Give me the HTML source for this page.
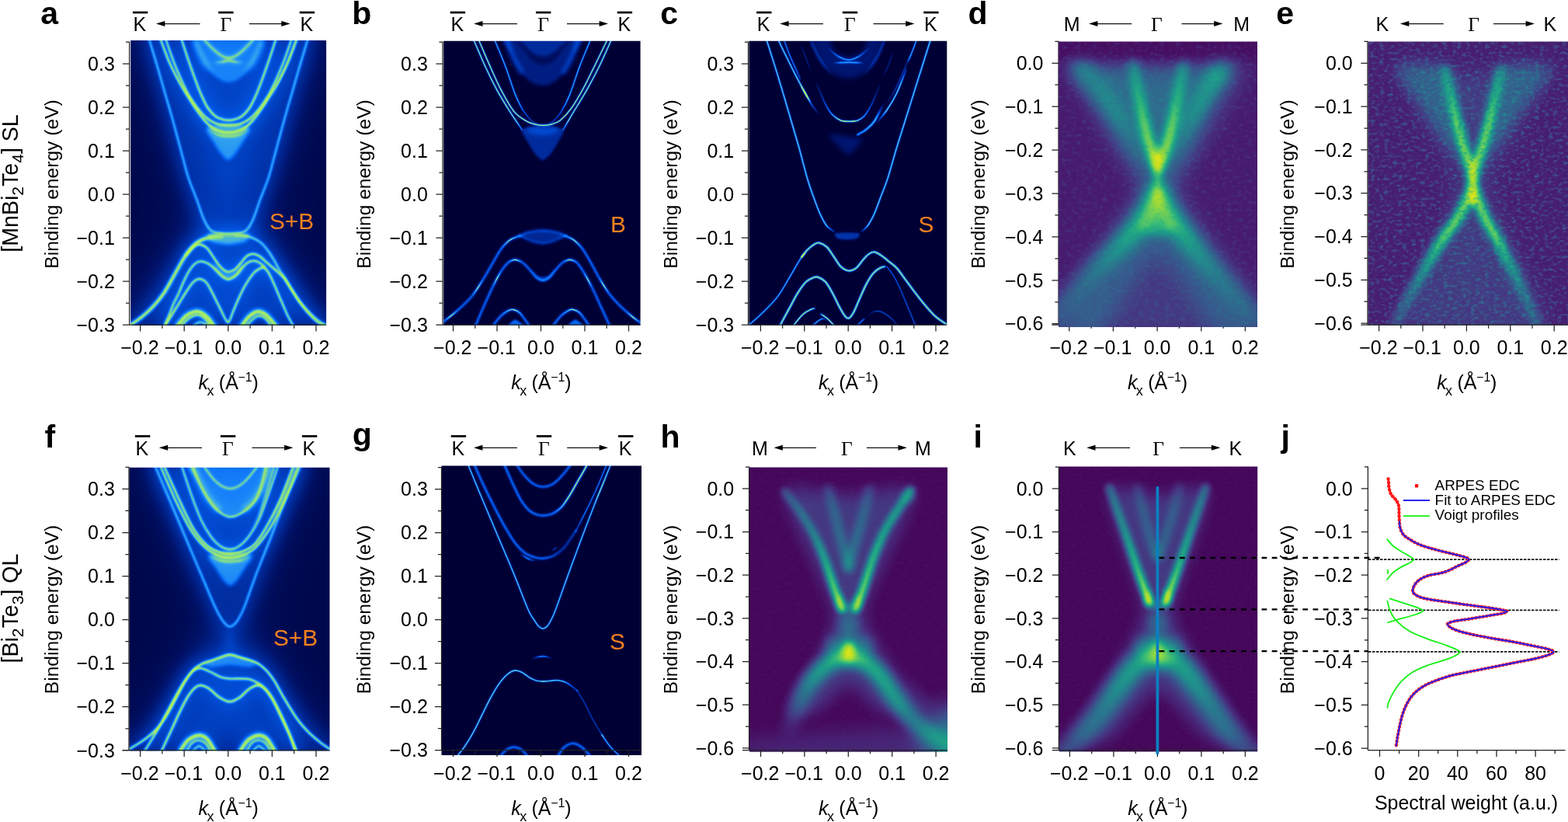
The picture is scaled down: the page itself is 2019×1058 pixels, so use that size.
<!DOCTYPE html>
<html lang="en"><head><meta charset="utf-8"><title>Band structure and ARPES figure</title><style>html,body{margin:0;padding:0;background:#fff}svg{display:block;position:absolute;left:0;top:0}svg{font-family:'Liberation Sans',sans-serif;font-size:25px}.se{font-family:'Liberation Serif',serif}.ax{fill:none;stroke:#222;stroke-width:1.25}.ar{fill:none;stroke:#111;stroke-width:1.2}</style></head>
<body>
<svg width="2019" height="1058" viewBox="0 0 2019 1058">
<defs>
<filter id="cmB" color-interpolation-filters="sRGB" x="0" y="0" width="1" height="1"><feComponentTransfer><feFuncR type="table" tableValues="0 0 0 0 0 0 0 0 0 0 0 0 0.001 0.003 0.004 0.006 0.008 0.026 0.045 0.063 0.085 0.124 0.163 0.202 0.282 0.362 0.443 0.509 0.571 0.632 0.674 0.702 0.729"/><feFuncG type="table" tableValues="0 0.012 0.025 0.037 0.049 0.061 0.076 0.098 0.119 0.141 0.163 0.185 0.211 0.241 0.272 0.303 0.333 0.374 0.415 0.456 0.498 0.547 0.596 0.645 0.702 0.76 0.818 0.854 0.883 0.913 0.931 0.942 0.953"/><feFuncB type="table" tableValues="0.204 0.24 0.276 0.312 0.348 0.384 0.422 0.467 0.511 0.555 0.599 0.644 0.69 0.738 0.786 0.834 0.882 0.908 0.933 0.959 0.978 0.966 0.954 0.942 0.842 0.739 0.636 0.56 0.491 0.422 0.378 0.354 0.329"/></feComponentTransfer></filter><filter id="cmV" color-interpolation-filters="sRGB" x="0" y="0" width="1" height="1"><feComponentTransfer><feFuncR type="table" tableValues="0.267 0.276 0.282 0.282 0.278 0.271 0.26 0.247 0.23 0.215 0.201 0.188 0.174 0.162 0.151 0.139 0.129 0.122 0.124 0.135 0.156 0.196 0.242 0.302 0.367 0.437 0.51 0.585 0.669 0.752 0.836 0.915 0.992"/><feFuncG type="table" tableValues="0.004 0.05 0.095 0.134 0.174 0.214 0.251 0.288 0.323 0.355 0.385 0.415 0.446 0.476 0.506 0.536 0.565 0.593 0.623 0.652 0.68 0.71 0.74 0.763 0.786 0.81 0.829 0.848 0.862 0.875 0.887 0.897 0.906"/><feFuncB type="table" tableValues="0.329 0.376 0.419 0.454 0.481 0.505 0.521 0.536 0.545 0.55 0.553 0.555 0.557 0.557 0.556 0.553 0.549 0.543 0.532 0.518 0.501 0.48 0.455 0.423 0.386 0.344 0.297 0.248 0.195 0.147 0.11 0.117 0.145"/></feComponentTransfer></filter>
</defs>
<rect width="2019" height="1058" fill="#fff"/>
<path class="ax" d="M1363 52.7V418.2M1358.4 53.3H1363M1354.4 81.3H1363M1358.4 109.2H1363M1354.4 137.2H1363M1358.4 165.2H1363M1354.4 193.1H1363M1358.4 221.1H1363M1354.4 249H1363M1358.4 276.9H1363M1354.4 304.9H1363M1358.4 332.9H1363M1354.4 360.8H1363M1358.4 388.8H1363M1354.4 416.7H1363M1354.4 418.2H1619M1376.8 418.2V426.6M1405.1 418.2V422.8M1433.4 418.2V426.6M1461.8 418.2V422.8M1490.1 418.2V426.6M1518.4 418.2V422.8M1546.8 418.2V426.6M1575.1 418.2V422.8M1603.4 418.2V426.6"/>
<clipPath id="cpa"><rect x="168.2" y="52" width="251.9" height="367"/></clipPath><g clip-path="url(#cpa)"><g filter="url(#cmB)"><rect x="128.2" y="12" width="331.9" height="447" fill="#000"/><filter id="ab36" color-interpolation-filters="sRGB" filterUnits="userSpaceOnUse" x="138.2" y="22" width="311.9" height="427"><feGaussianBlur stdDeviation="36"/></filter><g filter="url(#ab36)" fill="none" stroke="#fff" stroke-linecap="round" stroke-linejoin="round"><path d="M186.9 39.2C167.3 44.9 201.6 84.7 204.9 95.8C208.2 106.9 217.1 139.7 220.2 150.6C223.2 161.5 232.5 194.2 235.4 204.5C238.4 214.7 247.3 245.3 249.8 253C252.3 260.7 261 276.5 260.6 281.7C260.2 286.9 250.4 298.8 246.2 305.1C242.1 311.4 225 336 219.3 344.6C213.5 353.2 195.4 383.4 188.7 391.3C182.1 399.2 128.2 420.4 152.8 423.6C177.4 426.9 410.2 426.9 434.8 423.6C459.4 420.4 405.6 399.2 398.9 391.3C392.3 383.4 374.1 353.2 368.4 344.6C362.6 336 345.6 311.4 341.4 305.1C337.3 298.8 327.4 286.9 327.1 281.7C326.7 276.5 335.2 260.7 337.8 253C340.4 245.3 350 214.7 353.1 204.5C356.2 194.2 366.2 161.4 369.3 150.6C372.3 139.8 380.4 107.8 383.6 96.7C386.9 85.6 421.3 45 401.6 39.2C381.9 33.5 206.6 33.6 186.9 39.2Z" fill="#fff" fill-opacity="0.22" stroke="none"/></g><filter id="ab20" color-interpolation-filters="sRGB" filterUnits="userSpaceOnUse" x="138.2" y="22" width="311.9" height="427"><feGaussianBlur stdDeviation="20"/></filter><g filter="url(#ab20)" fill="none" stroke="#fff" stroke-linecap="round" stroke-linejoin="round"><path d="M186.9 39.2C167.3 44.9 201.6 84.7 204.9 95.8C208.2 106.9 217.1 139.7 220.2 150.6C223.2 161.5 232.5 194.2 235.4 204.5C238.4 214.7 247.3 245.3 249.8 253C252.3 260.7 261 276.5 260.6 281.7C260.2 286.9 250.4 298.8 246.2 305.1C242.1 311.4 225 336 219.3 344.6C213.5 353.2 195.4 383.4 188.7 391.3C182.1 399.2 128.2 420.4 152.8 423.6C177.4 426.9 410.2 426.9 434.8 423.6C459.4 420.4 405.6 399.2 398.9 391.3C392.3 383.4 374.1 353.2 368.4 344.6C362.6 336 345.6 311.4 341.4 305.1C337.3 298.8 327.4 286.9 327.1 281.7C326.7 276.5 335.2 260.7 337.8 253C340.4 245.3 350 214.7 353.1 204.5C356.2 194.2 366.2 161.4 369.3 150.6C372.3 139.8 380.4 107.8 383.6 96.7C386.9 85.6 421.3 45 401.6 39.2C381.9 33.5 206.6 33.6 186.9 39.2Z" fill="#fff" fill-opacity="0.22" stroke="none"/></g><filter id="ab8" color-interpolation-filters="sRGB" filterUnits="userSpaceOnUse" x="138.2" y="22" width="311.9" height="427"><feGaussianBlur stdDeviation="8"/></filter><g filter="url(#ab8)" fill="none" stroke="#fff" stroke-linecap="round" stroke-linejoin="round"><path d="M189.6 42.8C190.1 44.3 190.4 45.1 192.5 52C194.6 58.9 198.9 73.2 202.2 84.3C205.5 95.4 209 108.1 212.1 118.8C215.2 129.5 217.8 138 220.7 148.3C223.6 158.5 226.7 170.4 229.3 180.1C231.9 189.7 234.1 198 236.3 206.3C238.6 214.6 240.1 221.5 243 230C245.8 238.4 250.2 248.3 253.4 256.9C256.6 265.6 259.4 275.5 262.4 282.1C265.4 288.7 268.1 293.5 271.4 296.5C274.7 299.4 278.4 299.3 282.1 300C285.9 300.8 289.8 300.8 293.8 300.8C297.8 300.8 302.4 300.8 306.2 300C310.1 299.3 313.7 299.4 317 296.5C320.3 293.5 323 288.7 326 282.1C329 275.5 331.7 265.6 335 256.9C338.2 248.3 342.5 238.4 345.4 230C348.2 221.5 349.7 214.6 352 206.3C354.3 198 356.4 189.7 359 180.1C361.6 170.4 364.8 158.5 367.7 148.3C370.5 138 373.2 129.5 376.3 118.8C379.4 108.1 382.9 95.4 386.2 84.3C389.4 73.2 393.8 58.9 395.9 52C397.9 45.1 398.2 44.3 398.7 42.8" stroke-width="24" stroke-opacity="0.1"/><path d="M232.4 46.3C232.7 47.3 232.7 47.3 234.2 52C235.8 56.7 238.9 66.7 241.6 74.6C244.3 82.4 247.3 91.4 250.2 99.2C253.1 106.9 255.9 114.7 258.8 121.3C261.7 127.8 264.3 133.8 267.4 138.5C270.5 143.2 274 147 277.2 149.5C280.5 152.1 284.2 153 287.1 153.8C289.9 154.7 292 154.7 294.4 154.7C296.9 154.7 299 154.7 301.8 153.8C304.7 153 308.4 152.1 311.7 149.5C314.9 147 318.4 143.2 321.5 138.5C324.6 133.8 327.2 127.8 330.1 121.3C333 114.7 335.8 106.9 338.7 99.2C341.6 91.4 344.6 82.4 347.3 74.6C349.9 66.7 353.1 56.7 354.7 52C356.2 47.3 356.2 47.3 356.5 46.3" stroke-width="24" stroke-opacity="0.1"/><path d="M204.7 46.3C205.2 47.3 205 46.2 207.2 52C209.5 57.7 214.4 71.8 218.3 80.7C222.2 89.6 226.7 98.1 230.6 105.3C234.4 112.5 237.9 117.8 241.6 123.7C245.3 129.7 248.8 135.4 252.7 140.9C256.6 146.5 261.1 152.7 265 156.9C268.8 161.1 272.5 164 276 166.1C279.5 168.3 282.8 169.1 285.8 169.8C288.9 170.6 291.6 170.7 294.4 170.7C297.3 170.7 300 170.6 303 169.8C306.1 169.1 309.4 168.3 312.9 166.1C316.4 164 320 161.1 323.9 156.9C327.8 152.7 332.3 146.5 336.2 140.9C340.1 135.4 343.6 129.7 347.3 123.7C351 117.8 354.5 112.5 358.3 105.3C362.2 98.1 366.7 89.6 370.6 80.7C374.5 71.8 379.4 57.7 381.7 52C383.9 46.2 383.7 47.3 384.2 46.3" stroke-width="24" stroke-opacity="0.1"/><path d="M164.5 421.4C165.2 420.8 165.5 420.3 168.5 418C171.5 415.7 177.9 411.8 182.7 407.8C187.5 403.8 192.7 399.3 197.4 394.2C202.2 389.1 206.7 383.6 211.1 377.1C215.4 370.7 219.8 362.2 223.5 355.6C227.3 349 230.7 342.5 233.7 337.4C236.8 332.3 238.9 328.7 241.7 325C244.5 321.2 247.9 317.4 250.8 314.7C253.6 312.1 255.9 310.7 258.7 309.3C261.5 307.9 264.4 307 267.8 306.2C271.2 305.4 275.9 304.9 279.1 304.5C282.3 304.2 285.7 304.3 287.1 304.2" stroke-width="24" stroke-opacity="0.1"/><path d="M302 303.4C303.9 303.4 309.6 302.8 313.4 303.2C317.1 303.6 320.9 304.3 324.7 305.9C328.5 307.5 332.7 309.7 336.1 312.5C339.5 315.3 342.3 318.9 345.1 322.7C348 326.5 350.6 331 353.1 335.2C355.5 339.3 357.6 343.9 359.9 347.7C362.1 351.4 364 353.7 366.7 357.9C369.3 362 372.4 367.3 375.8 372.6C379.2 377.9 383.3 384.7 387.1 389.6C390.9 394.5 394.7 398.3 398.5 402.1C402.2 405.9 406.3 409.7 409.8 412.3C413.3 415 417 416.6 419.4 418C421.9 419.4 423.7 420.4 424.6 420.8" stroke-width="24" stroke-opacity="0.1"/><path d="M239.4 328.4C241.1 326.5 246.6 319.3 249.6 317C252.7 314.7 254.7 314.4 257.6 314.7C260.4 315.1 263.8 316.6 266.6 319.3C269.5 321.9 271.9 326.9 274.6 330.6C277.2 334.4 280.1 339 282.5 342C285 344.9 287.4 346.9 289.3 348.2C291.3 349.5 292.3 350.1 294.4 349.9C296.6 349.7 299.4 349 302 347.1C304.6 345.2 307.3 341.5 310 338.6C312.6 335.6 315.3 331.5 317.9 329.5C320.5 327.5 323.2 326.7 325.8 326.7C328.5 326.7 331.1 327.9 333.8 329.5C336.4 331.1 339.1 334 341.7 336.3C344.4 338.6 346.8 340.7 349.7 343.1C352.5 345.6 355.9 348.4 358.7 351.1C361.6 353.7 363.9 355.2 366.7 359C369.5 362.8 372.7 369 375.8 373.7C378.8 378.5 381.4 382.6 384.8 387.4C388.2 392.1 392.4 397.8 396.2 402.1C400 406.5 404.3 410.8 407.5 413.5C410.7 416.1 413.2 416.7 415.5 418C417.7 419.3 420.2 420.8 421.1 421.4" stroke-width="22" stroke-opacity="0.09"/><path d="M211.1 420.3C212 418.2 214.6 412.7 216.7 407.8C218.8 402.9 221.5 395.5 223.5 390.8C225.6 386 227.1 384 229.2 379.4C231.3 374.9 233.7 368.5 236 363.5C238.3 358.6 240.4 353.9 242.8 349.9C245.3 345.9 248.1 342 250.8 339.7C253.4 337.4 255.9 336.4 258.7 336.3C261.5 336.2 264.9 337.6 267.8 339.1C270.6 340.7 273.3 343.2 275.7 345.4C278.2 347.6 280.5 350.2 282.5 352.2C284.6 354.2 286.3 356.1 288.2 357.3C290.1 358.5 292.1 359.3 293.9 359.5C295.6 359.6 296.8 359.1 298.6 358.1C300.4 357.1 302.8 355.4 304.9 353.3C306.9 351.2 308.7 347.9 311.1 345.4C313.5 342.8 316.4 339.6 319 338C321.7 336.4 324.3 335.6 327 335.7C329.6 335.8 332.7 337.2 334.9 338.6C337.2 340 339.6 343.3 340.6 344.2" stroke-width="20" stroke-opacity="0.1"/><path d="M212.2 420.3C213.7 417.8 218.2 410.4 221.3 405.5C224.3 400.6 227.3 395.7 230.3 390.8C233.4 385.8 236.4 380.6 239.4 376C242.4 371.5 245.7 366.4 248.5 363.5C251.3 360.7 253.6 359 256.4 359C259.3 359 262.7 360.5 265.5 363.5C268.4 366.6 271 372.6 273.5 377.1C275.9 381.7 278.2 386.6 280.3 390.8C282.3 394.9 284.2 398.7 285.9 402.1C287.6 405.5 289.1 409.1 290.5 411.2C291.9 413.3 292.9 416.1 294.4 414.6C296 413.1 297.9 406.5 299.7 402.1C301.6 397.8 303.3 393.2 305.4 388.5C307.5 383.8 309.8 378.5 312.2 373.7C314.7 369 317.5 364.1 320.2 360.1C322.8 356.2 325.5 352.5 328.1 349.9C330.8 347.4 334.1 345.7 336.1 344.8C338 343.9 338.5 343.6 340 344.5C341.5 345.3 343.1 346.7 345.1 349.9C347.1 353.1 349.7 358.6 351.9 363.5C354.2 368.5 356.5 374.1 358.7 379.4C361 384.7 363.5 390.6 365.6 395.3C367.6 400 369.3 404 371.2 407.8C373.1 411.6 375.6 415.6 376.9 418C378.2 420.4 378.8 421.3 379.2 422" stroke-width="22" stroke-opacity="0.09"/><path d="M226.9 421.4C227.3 420.8 227.1 420.5 229.2 418C231.3 415.5 235.8 409.4 239.4 406.6C243 403.8 247.6 402 250.8 401.2C254 400.4 255.9 400.8 258.7 402.1C261.5 403.4 265.1 406.3 267.8 408.9C270.4 411.6 273.1 415.9 274.6 418C276.1 420.1 276.5 420.8 276.9 421.4" stroke-width="20" stroke-opacity="0.09"/><path d="M310 421.4C310.3 420.8 310.5 420.3 312.2 418C313.9 415.7 317.5 410.4 320.2 407.8C322.8 405.1 325.8 403.2 328.1 402.1C330.4 401 331.5 400.6 333.8 401C336.1 401.4 339.3 402.7 341.7 404.4C344.2 406.1 346.5 408.9 348.5 411.2C350.6 413.5 352.9 416.3 354.2 418C355.5 419.7 356.1 420.8 356.5 421.4" stroke-width="20" stroke-opacity="0.09"/></g><filter id="ab3" color-interpolation-filters="sRGB" filterUnits="userSpaceOnUse" x="138.2" y="22" width="311.9" height="427"><feGaussianBlur stdDeviation="3"/></filter><g filter="url(#ab3)" fill="none" stroke="#fff" stroke-linecap="round" stroke-linejoin="round"><linearGradient id="t1" gradientUnits="userSpaceOnUse" x1="249.6" y1="52" x2="274.8" y2="96.1"><stop offset="0" stop-color="#fff" stop-opacity="0.42"/><stop offset="0.35" stop-color="#fff" stop-opacity="0.42"/><stop offset="0.65" stop-color="#fff" stop-opacity="0.42"/><stop offset="1" stop-color="#fff" stop-opacity="0"/></linearGradient><path d="M249.6 52C250.7 54.7 253.8 63 256.4 68.4C258.9 73.8 261.9 79.8 265 84.4C268 89 273.1 94.1 274.8 96.1" stroke="url(#t1)" stroke-width="8" stroke-linecap="butt"/><linearGradient id="t2" gradientUnits="userSpaceOnUse" x1="338.9" y1="52" x2="314.1" y2="96.1"><stop offset="0" stop-color="#fff" stop-opacity="0.42"/><stop offset="0.35" stop-color="#fff" stop-opacity="0.42"/><stop offset="0.65" stop-color="#fff" stop-opacity="0.42"/><stop offset="1" stop-color="#fff" stop-opacity="0"/></linearGradient><path d="M338.9 52C337.9 54.7 335 63 332.5 68.4C330 73.8 327 79.8 323.9 84.4C320.9 89 315.7 94.1 314.1 96.1" stroke="url(#t2)" stroke-width="8" stroke-linecap="butt"/></g><filter id="ab2_2" color-interpolation-filters="sRGB" filterUnits="userSpaceOnUse" x="138.2" y="22" width="311.9" height="427"><feGaussianBlur stdDeviation="2.2"/></filter><g filter="url(#ab2_2)" fill="none" stroke="#fff" stroke-linecap="round" stroke-linejoin="round"><path d="M266 165C263.5 168.1 272.4 178.5 275 182.9C277.5 187.4 282.3 195.1 284.8 198.2C287.4 201.3 291.4 205.9 293.8 205.9C296.2 205.9 300.3 201.3 302.8 198.2C305.3 195.1 310.2 187.4 312.7 182.9C315.2 178.5 324.2 168.1 321.7 165C319.2 161.8 301.2 159.6 293.8 159.6C286.4 159.6 268.5 161.8 266 165Z" fill="#fff" fill-opacity="0.46" stroke="none"/></g><filter id="ab2" color-interpolation-filters="sRGB" filterUnits="userSpaceOnUse" x="138.2" y="22" width="311.9" height="427"><feGaussianBlur stdDeviation="2"/></filter><g filter="url(#ab2)" fill="none" stroke="#fff" stroke-linecap="round" stroke-linejoin="round"><path d="M245.9 45.1C230.3 46.2 247.2 48.1 249 52C250.7 55.9 253.7 63 256.4 68.4C259 73.8 261.9 79.7 265 84.4C268 89.1 271.3 93.4 274.8 96.7C278.3 100 282.6 102.5 285.8 104.1C289.1 105.6 291.6 106 294.4 106C297.3 106 299.8 105.6 303 104.1C306.3 102.5 310.6 100 314.1 96.7C317.6 93.4 320.9 89.1 323.9 84.4C327 79.7 330 73.8 332.5 68.4C335.1 63 337.7 55.9 339.3 52C340.9 48.1 357.9 46.2 342.4 45.1C326.8 43.9 261.5 43.9 245.9 45.1Z" fill="#fff" fill-opacity="0.36" stroke="none"/><path d="M261.9 48.8C262.2 49.3 261.4 49.3 263.7 52C266.1 54.6 272.3 61.4 276 64.7C279.7 68.1 282.8 70.5 285.8 72.1C288.9 73.8 291.6 74.6 294.4 74.6C297.3 74.6 300 73.8 303 72.1C306.1 70.5 309.2 68.1 312.9 64.7C316.6 61.4 322.8 54.6 325.2 52C327.5 49.3 326.7 49.3 327 48.8" stroke-width="5" stroke-opacity="0.42"/><linearGradient id="t7" gradientUnits="userSpaceOnUse" x1="274.8" y1="80.7" x2="314.1" y2="80.7"><stop offset="0" stop-color="#fff" stop-opacity="0"/><stop offset="0.3" stop-color="#fff" stop-opacity="0.4"/><stop offset="0.7" stop-color="#fff" stop-opacity="0.4"/><stop offset="1" stop-color="#fff" stop-opacity="0"/></linearGradient><path d="M274.8 80.7C276.8 80.5 283.8 79.9 287.1 79.5C290.4 79 292 78 294.4 78C296.9 78 298.5 79 301.8 79.5C305.1 79.9 312.1 80.5 314.1 80.7" stroke="url(#t7)" stroke-width="5" stroke-linecap="butt"/><path d="M266 301.8C267.2 300.6 278.9 300.5 282.1 300.4C285.4 300.3 291.1 300.8 293.8 300.8C296.5 300.8 302.3 300.3 305.5 300.4C308.7 300.5 320.4 300.6 321.7 301.8C322.9 303.1 319.5 309.3 316.3 310.8C313 312.3 299.1 314.8 293.8 314.8C288.6 314.8 274.6 312.3 271.4 310.8C268.1 309.3 264.7 303.1 266 301.8Z" fill="#fff" fill-opacity="0.5" stroke="none"/><path d="M273.5 337.4C274 337 280.7 343.9 282.5 345.4C284.4 346.9 287.9 349.8 289.3 350.5C290.7 351.2 293 351.7 294.4 351.6C295.9 351.6 300.2 351 302 349.9C303.8 348.8 308.6 342.5 310 342C311.3 341.4 313.9 343.8 313.4 345.4C312.8 347 307.7 353.9 305.4 355.6C303.1 357.3 296.1 360 293.8 360.1C291.6 360.3 287.8 358.1 285.9 356.7C284.1 355.4 279.5 351 278 348.8C276.5 346.5 272.9 337.8 273.5 337.4Z" fill="#fff" fill-opacity="0.4" stroke="none"/><path d="M226.9 421.4C227.3 420.8 227.1 420.5 229.2 418C231.3 415.5 235.8 409.4 239.4 406.6C243 403.8 247.6 402 250.8 401.2C254 400.4 255.9 400.8 258.7 402.1C261.5 403.4 265.1 406.3 267.8 408.9C270.4 411.6 273.1 415.9 274.6 418C276.1 420.1 276.5 420.8 276.9 421.4" stroke-width="8" stroke-opacity="0.6"/><path d="M310 421.4C310.3 420.8 310.5 420.3 312.2 418C313.9 415.7 317.5 410.4 320.2 407.8C322.8 405.1 325.8 403.2 328.1 402.1C330.4 401 331.5 400.6 333.8 401C336.1 401.4 339.3 402.7 341.7 404.4C344.2 406.1 346.5 408.9 348.5 411.2C350.6 413.5 352.9 416.3 354.2 418C355.5 419.7 356.1 420.8 356.5 421.4" stroke-width="8" stroke-opacity="0.6"/><path d="M232.6 421.4C233 420.8 233 420 234.9 418C236.8 416 240.9 411.6 244 409.5C247 407.4 250.2 405.8 253 405.5C255.9 405.2 258.5 406.3 261 407.8C263.4 409.3 266.1 412.5 267.8 414.6C269.5 416.7 270.6 419.3 271.2 420.3" stroke-width="5" stroke-opacity="0.4"/><path d="M316.8 421.4C317.1 420.8 317.1 420.1 319 418C320.9 415.9 325.7 410.8 328.1 408.9C330.6 407 331.7 406.6 333.8 406.6C335.9 406.6 338.5 407.4 340.6 408.9C342.7 410.4 344.9 413.8 346.3 415.7C347.6 417.6 348.2 419.5 348.5 420.3" stroke-width="5" stroke-opacity="0.4"/><path d="M248.5 420.3C248.9 419.9 249.3 418.9 250.8 418C252.3 417 255.1 414.6 257.6 414.6C260 414.6 263.8 417 265.5 418C267.2 418.9 267.4 419.9 267.8 420.3" stroke-width="5" stroke-opacity="0.4"/></g><filter id="ab1_6" color-interpolation-filters="sRGB" filterUnits="userSpaceOnUse" x="138.2" y="22" width="311.9" height="427"><feGaussianBlur stdDeviation="1.6"/></filter><g filter="url(#ab1_6)" fill="none" stroke="#fff" stroke-linecap="round" stroke-linejoin="round"><linearGradient id="t4" gradientUnits="userSpaceOnUse" x1="266.2" y1="164.3" x2="322.7" y2="164.3"><stop offset="0" stop-color="#fff" stop-opacity="0"/><stop offset="0.3" stop-color="#fff" stop-opacity="0.36"/><stop offset="0.7" stop-color="#fff" stop-opacity="0.36"/><stop offset="1" stop-color="#fff" stop-opacity="0"/></linearGradient><path d="M266.2 164.3C267 164.9 268.6 166.4 271.1 168C273.6 169.5 277 172.3 280.9 173.5C284.8 174.7 289.9 175.3 294.4 175.3C299 175.3 304.1 174.7 308 173.5C311.9 172.3 315.3 169.5 317.8 168C320.3 166.4 321.9 164.9 322.7 164.3" stroke="url(#t4)" stroke-width="4.4" stroke-linecap="butt"/><linearGradient id="t8" gradientUnits="userSpaceOnUse" x1="164.5" y1="421.4" x2="287.1" y2="304.2"><stop offset="0" stop-color="#fff" stop-opacity="0.5"/><stop offset="0.12" stop-color="#fff" stop-opacity="0.5"/><stop offset="0.88" stop-color="#fff" stop-opacity="0.5"/><stop offset="1" stop-color="#fff" stop-opacity="0.25"/></linearGradient><path d="M164.5 421.4C165.2 420.8 165.5 420.3 168.5 418C171.5 415.7 177.9 411.8 182.7 407.8C187.5 403.8 192.7 399.3 197.4 394.2C202.2 389.1 206.7 383.6 211.1 377.1C215.4 370.7 219.8 362.2 223.5 355.6C227.3 349 230.7 342.5 233.7 337.4C236.8 332.3 238.9 328.7 241.7 325C244.5 321.2 247.9 317.4 250.8 314.7C253.6 312.1 255.9 310.7 258.7 309.3C261.5 307.9 264.4 307 267.8 306.2C271.2 305.4 275.9 304.9 279.1 304.5C282.3 304.2 285.7 304.3 287.1 304.2" stroke="url(#t8)" stroke-width="7" stroke-linecap="butt"/><linearGradient id="t10" gradientUnits="userSpaceOnUse" x1="302" y1="303.4" x2="424.6" y2="420.8"><stop offset="0" stop-color="#fff" stop-opacity="0.25"/><stop offset="0.1" stop-color="#fff" stop-opacity="0.42"/><stop offset="0.9" stop-color="#fff" stop-opacity="0.42"/><stop offset="1" stop-color="#fff" stop-opacity="0.42"/></linearGradient><path d="M302 303.4C303.9 303.4 309.6 302.8 313.4 303.2C317.1 303.6 320.9 304.3 324.7 305.9C328.5 307.5 332.7 309.7 336.1 312.5C339.5 315.3 342.3 318.9 345.1 322.7C348 326.5 350.6 331 353.1 335.2C355.5 339.3 357.6 343.9 359.9 347.7C362.1 351.4 364 353.7 366.7 357.9C369.3 362 372.4 367.3 375.8 372.6C379.2 377.9 383.3 384.7 387.1 389.6C390.9 394.5 394.7 398.3 398.5 402.1C402.2 405.9 406.3 409.7 409.8 412.3C413.3 415 417 416.6 419.4 418C421.9 419.4 423.7 420.4 424.6 420.8" stroke="url(#t10)" stroke-width="4" stroke-linecap="butt"/><path d="M269.6 303.3C271.7 303.1 278.1 302.3 282.1 302.2C286.2 302.1 289.9 302.6 293.8 302.6C297.7 302.6 301.5 302.1 305.5 302.2C309.5 302.3 316 303.1 318.1 303.3" stroke-width="4" stroke-opacity="0.3"/></g><filter id="ab1_5" color-interpolation-filters="sRGB" filterUnits="userSpaceOnUse" x="138.2" y="22" width="311.9" height="427"><feGaussianBlur stdDeviation="1.5"/></filter><g filter="url(#ab1_5)" fill="none" stroke="#fff" stroke-linecap="round" stroke-linejoin="round"><path d="M189.6 42.8C190.1 44.3 190.4 45.1 192.5 52C194.6 58.9 198.9 73.2 202.2 84.3C205.5 95.4 209 108.1 212.1 118.8C215.2 129.5 217.8 138 220.7 148.3C223.6 158.5 226.7 170.4 229.3 180.1C231.9 189.7 234.1 198 236.3 206.3C238.6 214.6 240.1 221.5 243 230C245.8 238.4 250.2 248.3 253.4 256.9C256.6 265.6 259.4 275.5 262.4 282.1C265.4 288.7 268.1 293.5 271.4 296.5C274.7 299.4 278.4 299.3 282.1 300C285.9 300.8 289.8 300.8 293.8 300.8C297.8 300.8 302.4 300.8 306.2 300C310.1 299.3 313.7 299.4 317 296.5C320.3 293.5 323 288.7 326 282.1C329 275.5 331.7 265.6 335 256.9C338.2 248.3 342.5 238.4 345.4 230C348.2 221.5 349.7 214.6 352 206.3C354.3 198 356.4 189.7 359 180.1C361.6 170.4 364.8 158.5 367.7 148.3C370.5 138 373.2 129.5 376.3 118.8C379.4 108.1 382.9 95.4 386.2 84.3C389.4 73.2 393.8 58.9 395.9 52C397.9 45.1 398.2 44.3 398.7 42.8" stroke-width="4" stroke-opacity="0.3"/><path d="M232.4 46.3C232.7 47.3 232.7 47.3 234.2 52C235.8 56.7 238.9 66.7 241.6 74.6C244.3 82.4 247.3 91.4 250.2 99.2C253.1 106.9 255.9 114.7 258.8 121.3C261.7 127.8 264.3 133.8 267.4 138.5C270.5 143.2 274 147 277.2 149.5C280.5 152.1 284.2 153 287.1 153.8C289.9 154.7 292 154.7 294.4 154.7C296.9 154.7 299 154.7 301.8 153.8C304.7 153 308.4 152.1 311.7 149.5C314.9 147 318.4 143.2 321.5 138.5C324.6 133.8 327.2 127.8 330.1 121.3C333 114.7 335.8 106.9 338.7 99.2C341.6 91.4 344.6 82.4 347.3 74.6C349.9 66.7 353.1 56.7 354.7 52C356.2 47.3 356.2 47.3 356.5 46.3" stroke-width="4.4" stroke-opacity="0.3"/><path d="M204.7 46.3C205.2 47.3 205 46.2 207.2 52C209.5 57.7 214.4 71.8 218.3 80.7C222.2 89.6 226.7 98.1 230.6 105.3C234.4 112.5 237.9 117.8 241.6 123.7C245.3 129.7 248.8 135.4 252.7 140.9C256.6 146.5 261.1 152.7 265 156.9C268.8 161.1 272.5 164 276 166.1C279.5 168.3 282.8 169.1 285.8 169.8C288.9 170.6 291.6 170.7 294.4 170.7C297.3 170.7 300 170.6 303 169.8C306.1 169.1 309.4 168.3 312.9 166.1C316.4 164 320 161.1 323.9 156.9C327.8 152.7 332.3 146.5 336.2 140.9C340.1 135.4 343.6 129.7 347.3 123.7C351 117.8 354.5 112.5 358.3 105.3C362.2 98.1 366.7 89.6 370.6 80.7C374.5 71.8 379.4 57.7 381.7 52C383.9 46.2 383.7 47.3 384.2 46.3" stroke-width="4.4" stroke-opacity="0.3"/><path d="M212.1 46.3C212.4 47.3 212.1 46.6 214 52C215.8 57.3 220 70 223.2 78.3C226.4 86.5 229.7 94.3 233 101.6C236.3 108.9 239.4 115.7 242.8 121.9C246.3 128 250 133.5 253.9 138.5C257.8 143.5 262.1 148.6 266.2 152C270.3 155.4 273.8 157.6 278.5 159.1C283.2 160.7 289.1 161.2 294.4 161.2C299.8 161.2 305.7 160.7 310.4 159.1C315.1 157.6 318.6 155.4 322.7 152C326.8 148.6 331.1 143.5 335 138.5C338.9 133.5 342.6 128 346.1 121.9C349.5 115.7 352.6 108.9 355.9 101.6C359.2 94.3 362.5 86.5 365.7 78.3C368.9 70 373.1 57.3 374.9 52C376.8 46.6 376.5 47.3 376.8 46.3" stroke-width="4.4" stroke-opacity="0.3"/><path d="M239.4 328.4C241.1 326.5 246.6 319.3 249.6 317C252.7 314.7 254.7 314.4 257.6 314.7C260.4 315.1 263.8 316.6 266.6 319.3C269.5 321.9 271.9 326.9 274.6 330.6C277.2 334.4 280.1 339 282.5 342C285 344.9 287.4 346.9 289.3 348.2C291.3 349.5 292.3 350.1 294.4 349.9C296.6 349.7 299.4 349 302 347.1C304.6 345.2 307.3 341.5 310 338.6C312.6 335.6 315.3 331.5 317.9 329.5C320.5 327.5 323.2 326.7 325.8 326.7C328.5 326.7 331.1 327.9 333.8 329.5C336.4 331.1 339.1 334 341.7 336.3C344.4 338.6 346.8 340.7 349.7 343.1C352.5 345.6 355.9 348.4 358.7 351.1C361.6 353.7 363.9 355.2 366.7 359C369.5 362.8 372.7 369 375.8 373.7C378.8 378.5 381.4 382.6 384.8 387.4C388.2 392.1 392.4 397.8 396.2 402.1C400 406.5 404.3 410.8 407.5 413.5C410.7 416.1 413.2 416.7 415.5 418C417.7 419.3 420.2 420.8 421.1 421.4" stroke-width="4.4" stroke-opacity="0.3"/><path d="M211.1 420.3C212 418.2 214.6 412.7 216.7 407.8C218.8 402.9 221.5 395.5 223.5 390.8C225.6 386 227.1 384 229.2 379.4C231.3 374.9 233.7 368.5 236 363.5C238.3 358.6 240.4 353.9 242.8 349.9C245.3 345.9 248.1 342 250.8 339.7C253.4 337.4 255.9 336.4 258.7 336.3C261.5 336.2 264.9 337.6 267.8 339.1C270.6 340.7 273.3 343.2 275.7 345.4C278.2 347.6 280.5 350.2 282.5 352.2C284.6 354.2 286.3 356.1 288.2 357.3C290.1 358.5 292.1 359.3 293.9 359.5C295.6 359.6 296.8 359.1 298.6 358.1C300.4 357.1 302.8 355.4 304.9 353.3C306.9 351.2 308.7 347.9 311.1 345.4C313.5 342.8 316.4 339.6 319 338C321.7 336.4 324.3 335.6 327 335.7C329.6 335.8 332.7 337.2 334.9 338.6C337.2 340 339.6 343.3 340.6 344.2" stroke-width="4.4" stroke-opacity="0.3"/><path d="M212.2 420.3C213.7 417.8 218.2 410.4 221.3 405.5C224.3 400.6 227.3 395.7 230.3 390.8C233.4 385.8 236.4 380.6 239.4 376C242.4 371.5 245.7 366.4 248.5 363.5C251.3 360.7 253.6 359 256.4 359C259.3 359 262.7 360.5 265.5 363.5C268.4 366.6 271 372.6 273.5 377.1C275.9 381.7 278.2 386.6 280.3 390.8C282.3 394.9 284.2 398.7 285.9 402.1C287.6 405.5 289.1 409.1 290.5 411.2C291.9 413.3 292.9 416.1 294.4 414.6C296 413.1 297.9 406.5 299.7 402.1C301.6 397.8 303.3 393.2 305.4 388.5C307.5 383.8 309.8 378.5 312.2 373.7C314.7 369 317.5 364.1 320.2 360.1C322.8 356.2 325.5 352.5 328.1 349.9C330.8 347.4 334.1 345.7 336.1 344.8C338 343.9 338.5 343.6 340 344.5C341.5 345.3 343.1 346.7 345.1 349.9C347.1 353.1 349.7 358.6 351.9 363.5C354.2 368.5 356.5 374.1 358.7 379.4C361 384.7 363.5 390.6 365.6 395.3C367.6 400 369.3 404 371.2 407.8C373.1 411.6 375.6 415.6 376.9 418C378.2 420.4 378.8 421.3 379.2 422" stroke-width="4.4" stroke-opacity="0.3"/></g><filter id="ab1_0" color-interpolation-filters="sRGB" filterUnits="userSpaceOnUse" x="138.2" y="22" width="311.9" height="427"><feGaussianBlur stdDeviation="1.0"/></filter><g filter="url(#ab1_0)" fill="none" stroke="#fff" stroke-linecap="round" stroke-linejoin="round"><path d="M189.6 42.8C190.1 44.3 190.4 45.1 192.5 52C194.6 58.9 198.9 73.2 202.2 84.3C205.5 95.4 209 108.1 212.1 118.8C215.2 129.5 217.8 138 220.7 148.3C223.6 158.5 226.7 170.4 229.3 180.1C231.9 189.7 234.1 198 236.3 206.3C238.6 214.6 240.1 221.5 243 230C245.8 238.4 250.2 248.3 253.4 256.9C256.6 265.6 259.4 275.5 262.4 282.1C265.4 288.7 268.1 293.5 271.4 296.5C274.7 299.4 278.4 299.3 282.1 300C285.9 300.8 289.8 300.8 293.8 300.8C297.8 300.8 302.4 300.8 306.2 300C310.1 299.3 313.7 299.4 317 296.5C320.3 293.5 323 288.7 326 282.1C329 275.5 331.7 265.6 335 256.9C338.2 248.3 342.5 238.4 345.4 230C348.2 221.5 349.7 214.6 352 206.3C354.3 198 356.4 189.7 359 180.1C361.6 170.4 364.8 158.5 367.7 148.3C370.5 138 373.2 129.5 376.3 118.8C379.4 108.1 382.9 95.4 386.2 84.3C389.4 73.2 393.8 58.9 395.9 52C397.9 45.1 398.2 44.3 398.7 42.8" stroke-width="2" stroke-opacity="0.64"/><path d="M226.9 421.4C227.3 420.8 227.1 420.5 229.2 418C231.3 415.5 235.8 409.4 239.4 406.6C243 403.8 247.6 402 250.8 401.2C254 400.4 255.9 400.8 258.7 402.1C261.5 403.4 265.1 406.3 267.8 408.9C270.4 411.6 273.1 415.9 274.6 418C276.1 420.1 276.5 420.8 276.9 421.4" stroke-width="3.4" stroke-opacity="0.81"/><path d="M310 421.4C310.3 420.8 310.5 420.3 312.2 418C313.9 415.7 317.5 410.4 320.2 407.8C322.8 405.1 325.8 403.2 328.1 402.1C330.4 401 331.5 400.6 333.8 401C336.1 401.4 339.3 402.7 341.7 404.4C344.2 406.1 346.5 408.9 348.5 411.2C350.6 413.5 352.9 416.3 354.2 418C355.5 419.7 356.1 420.8 356.5 421.4" stroke-width="3.4" stroke-opacity="0.81"/><path d="M232.6 421.4C233 420.8 233 420 234.9 418C236.8 416 240.9 411.6 244 409.5C247 407.4 250.2 405.8 253 405.5C255.9 405.2 258.5 406.3 261 407.8C263.4 409.3 266.1 412.5 267.8 414.6C269.5 416.7 270.6 419.3 271.2 420.3" stroke-width="2.2" stroke-opacity="0.72"/><path d="M316.8 421.4C317.1 420.8 317.1 420.1 319 418C320.9 415.9 325.7 410.8 328.1 408.9C330.6 407 331.7 406.6 333.8 406.6C335.9 406.6 338.5 407.4 340.6 408.9C342.7 410.4 344.9 413.8 346.3 415.7C347.6 417.6 348.2 419.5 348.5 420.3" stroke-width="2.2" stroke-opacity="0.72"/><path d="M248.5 420.3C248.9 419.9 249.3 418.9 250.8 418C252.3 417 255.1 414.6 257.6 414.6C260 414.6 263.8 417 265.5 418C267.2 418.9 267.4 419.9 267.8 420.3" stroke-width="2.2" stroke-opacity="0.72"/></g><filter id="ab0_95" color-interpolation-filters="sRGB" filterUnits="userSpaceOnUse" x="138.2" y="22" width="311.9" height="427"><feGaussianBlur stdDeviation="0.95"/></filter><g filter="url(#ab0_95)" fill="none" stroke="#fff" stroke-linecap="round" stroke-linejoin="round"><path d="M232.4 46.3C232.7 47.3 232.7 47.3 234.2 52C235.8 56.7 238.9 66.7 241.6 74.6C244.3 82.4 247.3 91.4 250.2 99.2C253.1 106.9 255.9 114.7 258.8 121.3C261.7 127.8 264.3 133.8 267.4 138.5C270.5 143.2 274 147 277.2 149.5C280.5 152.1 284.2 153 287.1 153.8C289.9 154.7 292 154.7 294.4 154.7C296.9 154.7 299 154.7 301.8 153.8C304.7 153 308.4 152.1 311.7 149.5C314.9 147 318.4 143.2 321.5 138.5C324.6 133.8 327.2 127.8 330.1 121.3C333 114.7 335.8 106.9 338.7 99.2C341.6 91.4 344.6 82.4 347.3 74.6C349.9 66.7 353.1 56.7 354.7 52C356.2 47.3 356.2 47.3 356.5 46.3" stroke-width="2.4" stroke-opacity="0.82"/><path d="M204.7 46.3C205.2 47.3 205 46.2 207.2 52C209.5 57.7 214.4 71.8 218.3 80.7C222.2 89.6 226.7 98.1 230.6 105.3C234.4 112.5 237.9 117.8 241.6 123.7C245.3 129.7 248.8 135.4 252.7 140.9C256.6 146.5 261.1 152.7 265 156.9C268.8 161.1 272.5 164 276 166.1C279.5 168.3 282.8 169.1 285.8 169.8C288.9 170.6 291.6 170.7 294.4 170.7C297.3 170.7 300 170.6 303 169.8C306.1 169.1 309.4 168.3 312.9 166.1C316.4 164 320 161.1 323.9 156.9C327.8 152.7 332.3 146.5 336.2 140.9C340.1 135.4 343.6 129.7 347.3 123.7C351 117.8 354.5 112.5 358.3 105.3C362.2 98.1 366.7 89.6 370.6 80.7C374.5 71.8 379.4 57.7 381.7 52C383.9 46.2 383.7 47.3 384.2 46.3" stroke-width="2.5" stroke-opacity="0.84"/><path d="M212.1 46.3C212.4 47.3 212.1 46.6 214 52C215.8 57.3 220 70 223.2 78.3C226.4 86.5 229.7 94.3 233 101.6C236.3 108.9 239.4 115.7 242.8 121.9C246.3 128 250 133.5 253.9 138.5C257.8 143.5 262.1 148.6 266.2 152C270.3 155.4 273.8 157.6 278.5 159.1C283.2 160.7 289.1 161.2 294.4 161.2C299.8 161.2 305.7 160.7 310.4 159.1C315.1 157.6 318.6 155.4 322.7 152C326.8 148.6 331.1 143.5 335 138.5C338.9 133.5 342.6 128 346.1 121.9C349.5 115.7 352.6 108.9 355.9 101.6C359.2 94.3 362.5 86.5 365.7 78.3C368.9 70 373.1 57.3 374.9 52C376.8 46.6 376.5 47.3 376.8 46.3" stroke-width="2.3" stroke-opacity="0.82"/><path d="M239.4 328.4C241.1 326.5 246.6 319.3 249.6 317C252.7 314.7 254.7 314.4 257.6 314.7C260.4 315.1 263.8 316.6 266.6 319.3C269.5 321.9 271.9 326.9 274.6 330.6C277.2 334.4 280.1 339 282.5 342C285 344.9 287.4 346.9 289.3 348.2C291.3 349.5 292.3 350.1 294.4 349.9C296.6 349.7 299.4 349 302 347.1C304.6 345.2 307.3 341.5 310 338.6C312.6 335.6 315.3 331.5 317.9 329.5C320.5 327.5 323.2 326.7 325.8 326.7C328.5 326.7 331.1 327.9 333.8 329.5C336.4 331.1 339.1 334 341.7 336.3C344.4 338.6 346.8 340.7 349.7 343.1C352.5 345.6 355.9 348.4 358.7 351.1C361.6 353.7 363.9 355.2 366.7 359C369.5 362.8 372.7 369 375.8 373.7C378.8 378.5 381.4 382.6 384.8 387.4C388.2 392.1 392.4 397.8 396.2 402.1C400 406.5 404.3 410.8 407.5 413.5C410.7 416.1 413.2 416.7 415.5 418C417.7 419.3 420.2 420.8 421.1 421.4" stroke-width="2.4" stroke-opacity="0.82"/><path d="M211.1 420.3C212 418.2 214.6 412.7 216.7 407.8C218.8 402.9 221.5 395.5 223.5 390.8C225.6 386 227.1 384 229.2 379.4C231.3 374.9 233.7 368.5 236 363.5C238.3 358.6 240.4 353.9 242.8 349.9C245.3 345.9 248.1 342 250.8 339.7C253.4 337.4 255.9 336.4 258.7 336.3C261.5 336.2 264.9 337.6 267.8 339.1C270.6 340.7 273.3 343.2 275.7 345.4C278.2 347.6 280.5 350.2 282.5 352.2C284.6 354.2 286.3 356.1 288.2 357.3C290.1 358.5 292.1 359.3 293.9 359.5C295.6 359.6 296.8 359.1 298.6 358.1C300.4 357.1 302.8 355.4 304.9 353.3C306.9 351.2 308.7 347.9 311.1 345.4C313.5 342.8 316.4 339.6 319 338C321.7 336.4 324.3 335.6 327 335.7C329.6 335.8 332.7 337.2 334.9 338.6C337.2 340 339.6 343.3 340.6 344.2" stroke-width="2.3" stroke-opacity="0.8"/><path d="M212.2 420.3C213.7 417.8 218.2 410.4 221.3 405.5C224.3 400.6 227.3 395.7 230.3 390.8C233.4 385.8 236.4 380.6 239.4 376C242.4 371.5 245.7 366.4 248.5 363.5C251.3 360.7 253.6 359 256.4 359C259.3 359 262.7 360.5 265.5 363.5C268.4 366.6 271 372.6 273.5 377.1C275.9 381.7 278.2 386.6 280.3 390.8C282.3 394.9 284.2 398.7 285.9 402.1C287.6 405.5 289.1 409.1 290.5 411.2C291.9 413.3 292.9 416.1 294.4 414.6C296 413.1 297.9 406.5 299.7 402.1C301.6 397.8 303.3 393.2 305.4 388.5C307.5 383.8 309.8 378.5 312.2 373.7C314.7 369 317.5 364.1 320.2 360.1C322.8 356.2 325.5 352.5 328.1 349.9C330.8 347.4 334.1 345.7 336.1 344.8C338 343.9 338.5 343.6 340 344.5C341.5 345.3 343.1 346.7 345.1 349.9C347.1 353.1 349.7 358.6 351.9 363.5C354.2 368.5 356.5 374.1 358.7 379.4C361 384.7 363.5 390.6 365.6 395.3C367.6 400 369.3 404 371.2 407.8C373.1 411.6 375.6 415.6 376.9 418C378.2 420.4 378.8 421.3 379.2 422" stroke-width="2.4" stroke-opacity="0.82"/></g><filter id="ab0_9" color-interpolation-filters="sRGB" filterUnits="userSpaceOnUse" x="138.2" y="22" width="311.9" height="427"><feGaussianBlur stdDeviation="0.9"/></filter><g filter="url(#ab0_9)" fill="none" stroke="#fff" stroke-linecap="round" stroke-linejoin="round"><linearGradient id="t9" gradientUnits="userSpaceOnUse" x1="164.5" y1="421.4" x2="287.1" y2="304.2"><stop offset="0" stop-color="#fff" stop-opacity="0.85"/><stop offset="0.12" stop-color="#fff" stop-opacity="0.85"/><stop offset="0.88" stop-color="#fff" stop-opacity="0.85"/><stop offset="1" stop-color="#fff" stop-opacity="0.3"/></linearGradient><path d="M164.5 421.4C165.2 420.8 165.5 420.3 168.5 418C171.5 415.7 177.9 411.8 182.7 407.8C187.5 403.8 192.7 399.3 197.4 394.2C202.2 389.1 206.7 383.6 211.1 377.1C215.4 370.7 219.8 362.2 223.5 355.6C227.3 349 230.7 342.5 233.7 337.4C236.8 332.3 238.9 328.7 241.7 325C244.5 321.2 247.9 317.4 250.8 314.7C253.6 312.1 255.9 310.7 258.7 309.3C261.5 307.9 264.4 307 267.8 306.2C271.2 305.4 275.9 304.9 279.1 304.5C282.3 304.2 285.7 304.3 287.1 304.2" stroke="url(#t9)" stroke-width="2.8" stroke-linecap="butt"/></g><filter id="ab0_8" color-interpolation-filters="sRGB" filterUnits="userSpaceOnUse" x="138.2" y="22" width="311.9" height="427"><feGaussianBlur stdDeviation="0.8"/></filter><g filter="url(#ab0_8)" fill="none" stroke="#fff" stroke-linecap="round" stroke-linejoin="round"><linearGradient id="t3" gradientUnits="userSpaceOnUse" x1="266.2" y1="164.3" x2="322.7" y2="164.3"><stop offset="0" stop-color="#fff" stop-opacity="0"/><stop offset="0.3" stop-color="#fff" stop-opacity="0.5"/><stop offset="0.7" stop-color="#fff" stop-opacity="0.5"/><stop offset="1" stop-color="#fff" stop-opacity="0"/></linearGradient><path d="M266.2 164.3C267 164.9 268.6 166.4 271.1 168C273.6 169.5 277 172.3 280.9 173.5C284.8 174.7 289.9 175.3 294.4 175.3C299 175.3 304.1 174.7 308 173.5C311.9 172.3 315.3 169.5 317.8 168C320.3 166.4 321.9 164.9 322.7 164.3" stroke="url(#t3)" stroke-width="1.6" stroke-linecap="butt"/><linearGradient id="t5" gradientUnits="userSpaceOnUse" x1="381.7" y1="46.3" x2="348.5" y2="128.6"><stop offset="0" stop-color="#fff" stop-opacity="0.6"/><stop offset="0.4" stop-color="#fff" stop-opacity="0.6"/><stop offset="0.6" stop-color="#fff" stop-opacity="0.6"/><stop offset="1" stop-color="#fff" stop-opacity="0"/></linearGradient><path d="M381.7 46.3C381.4 47.3 381.7 46.6 379.9 52C378 57.3 374 69.4 370.6 78.3C367.3 87.2 363.3 96.9 359.6 105.3C355.9 113.7 350.4 124.8 348.5 128.6" stroke="url(#t5)" stroke-width="1.5" stroke-linecap="butt"/><path d="M261.9 48.8C262.2 49.3 261.4 49.3 263.7 52C266.1 54.6 272.3 61.4 276 64.7C279.7 68.1 282.8 70.5 285.8 72.1C288.9 73.8 291.6 74.6 294.4 74.6C297.3 74.6 300 73.8 303 72.1C306.1 70.5 309.2 68.1 312.9 64.7C316.6 61.4 322.8 54.6 325.2 52C327.5 49.3 326.7 49.3 327 48.8" stroke-width="1.7" stroke-opacity="0.62"/><linearGradient id="t6" gradientUnits="userSpaceOnUse" x1="274.8" y1="80.7" x2="314.1" y2="80.7"><stop offset="0" stop-color="#fff" stop-opacity="0"/><stop offset="0.3" stop-color="#fff" stop-opacity="0.6"/><stop offset="0.7" stop-color="#fff" stop-opacity="0.6"/><stop offset="1" stop-color="#fff" stop-opacity="0"/></linearGradient><path d="M274.8 80.7C276.8 80.5 283.8 79.9 287.1 79.5C290.4 79 292 78 294.4 78C296.9 78 298.5 79 301.8 79.5C305.1 79.9 312.1 80.5 314.1 80.7" stroke="url(#t6)" stroke-width="1.7" stroke-linecap="butt"/><linearGradient id="t11" gradientUnits="userSpaceOnUse" x1="302" y1="303.4" x2="424.6" y2="420.8"><stop offset="0" stop-color="#fff" stop-opacity="0.36"/><stop offset="0.1" stop-color="#fff" stop-opacity="0.72"/><stop offset="0.9" stop-color="#fff" stop-opacity="0.72"/><stop offset="1" stop-color="#fff" stop-opacity="0.72"/></linearGradient><path d="M302 303.4C303.9 303.4 309.6 302.8 313.4 303.2C317.1 303.6 320.9 304.3 324.7 305.9C328.5 307.5 332.7 309.7 336.1 312.5C339.5 315.3 342.3 318.9 345.1 322.7C348 326.5 350.6 331 353.1 335.2C355.5 339.3 357.6 343.9 359.9 347.7C362.1 351.4 364 353.7 366.7 357.9C369.3 362 372.4 367.3 375.8 372.6C379.2 377.9 383.3 384.7 387.1 389.6C390.9 394.5 394.7 398.3 398.5 402.1C402.2 405.9 406.3 409.7 409.8 412.3C413.3 415 417 416.6 419.4 418C421.9 419.4 423.7 420.4 424.6 420.8" stroke="url(#t11)" stroke-width="1.6" stroke-linecap="butt"/></g><g fill="none" stroke="#fff" stroke-linecap="round" stroke-linejoin="round"><path d="M0 0H2019V1058H0z" fill="#fff" fill-opacity="0.085" stroke="none"/></g></g></g>
<clipPath id="cpb"><rect x="571.2" y="52.7" width="253.4" height="365.7"/></clipPath><g clip-path="url(#cpb)"><g filter="url(#cmB)"><rect x="531.2" y="12.7" width="333.4" height="445.7" fill="#000"/><filter id="bb3" color-interpolation-filters="sRGB" filterUnits="userSpaceOnUse" x="541.2" y="22.7" width="313.4" height="425.7"><feGaussianBlur stdDeviation="3"/></filter><g filter="url(#bb3)" fill="none" stroke="#fff" stroke-linecap="round" stroke-linejoin="round"><path d="M678 163.2C679.7 162.5 694.8 165 699 165C703.1 165 717.6 162.5 719.3 163.2C720.9 163.8 717.7 170.2 715.7 171.3C713.7 172.3 702.4 173.9 699 173.9C695.6 173.9 683.7 172.3 681.6 171.3C679.5 170.2 676.2 163.8 678 163.2Z" fill="#fff" fill-opacity="0.24" stroke="none"/></g><filter id="bb2_5" color-interpolation-filters="sRGB" filterUnits="userSpaceOnUse" x="541.2" y="22.7" width="313.4" height="425.7"><feGaussianBlur stdDeviation="2.5"/></filter><g filter="url(#bb2_5)" fill="none" stroke="#fff" stroke-linecap="round" stroke-linejoin="round"><path d="M652.3 50C653.6 53.9 656.9 66.2 660 73.4C663.1 80.5 669 89.8 670.8 93.1" stroke-width="7" stroke-opacity="0.3"/><path d="M745 50C743.7 53.9 740.3 66.2 737.2 73.4C734.2 80.5 728.3 89.8 726.5 93.1" stroke-width="7" stroke-opacity="0.3"/></g><filter id="bb2" color-interpolation-filters="sRGB" filterUnits="userSpaceOnUse" x="541.2" y="22.7" width="313.4" height="425.7"><feGaussianBlur stdDeviation="2"/></filter><g filter="url(#bb2)" fill="none" stroke="#fff" stroke-linecap="round" stroke-linejoin="round"><path d="M651 42.8C636.6 47.9 656.7 65 660 73.4C663.3 81.7 666.9 87.7 670.8 93.1C674.7 98.5 678.7 102.8 683.4 105.7C688.1 108.6 693.9 110.5 699 110.5C704.1 110.5 709.3 108.6 713.9 105.7C718.5 102.8 722.6 98.5 726.5 93.1C730.4 87.7 733.9 81.7 737.2 73.4C740.5 65 760.6 47.9 746.2 42.8C731.9 37.7 665.4 37.7 651 42.8Z" fill="#fff" fill-opacity="0.25" stroke="none"/><path d="M663.6 42.8C653.7 46.4 670.5 58.4 674.4 64.4C678.3 70.4 682.8 75.6 686.9 78.7C691 81.9 694.8 83.2 699 83.2C703.2 83.2 708 81.9 712.1 78.7C716.2 75.6 720.2 70.4 723.8 64.4C727.4 58.4 743.7 46.4 733.6 42.8C723.6 39.2 673.5 39.2 663.6 42.8Z" fill="#000" fill-opacity="0.45" stroke="none"/><path d="M666.3 42.8C657.3 45.8 674.2 56.3 678 60.8C681.7 65.3 685.2 67.8 688.7 69.8C692.2 71.7 695.5 72.5 699 72.5C702.4 72.5 705.7 71.7 709.4 69.8C713.1 67.8 717.3 65.3 721.1 60.8C724.8 56.3 741 45.8 731.9 42.8C722.7 39.8 675.3 39.8 666.3 42.8Z" fill="#fff" fill-opacity="0.22" stroke="none"/></g><filter id="bb1_6" color-interpolation-filters="sRGB" filterUnits="userSpaceOnUse" x="541.2" y="22.7" width="313.4" height="425.7"><feGaussianBlur stdDeviation="1.6"/></filter><g filter="url(#bb1_6)" fill="none" stroke="#fff" stroke-linecap="round" stroke-linejoin="round"><path d="M671.7 166.8C669.8 169.1 678.1 180.7 679.8 183.8C681.5 187 686.8 195.9 688.7 198.2C690.7 200.5 696.9 206.6 699 206.6C701 206.6 707.5 200.5 709.4 198.2C711.3 195.9 716.7 187 718.4 183.8C720.1 180.7 728 169.1 726.1 166.8C724.2 164.4 704.4 160.5 699 160.5C693.5 160.5 673.6 164.4 671.7 166.8Z" fill="#fff" fill-opacity="0.32" stroke="none"/><path d="M669 303.6C670.8 302.8 674.8 299.9 679.8 298.6C684.8 297.4 692.7 296.1 699 296.1C705.3 296.1 712.6 297.4 717.5 298.6C722.4 299.9 726.5 302.8 728.3 303.6" stroke-width="4" stroke-opacity="0.3"/><path d="M669 303.6C671.7 304.9 680.1 309.5 685.1 311.2C690.1 312.9 694.5 313.7 699 313.7C703.5 313.7 707.2 312.9 712.1 311.2C717 309.5 725.6 304.9 728.3 303.6" stroke-width="4" stroke-opacity="0.22"/></g><filter id="bb1_4" color-interpolation-filters="sRGB" filterUnits="userSpaceOnUse" x="541.2" y="22.7" width="313.4" height="425.7"><feGaussianBlur stdDeviation="1.4"/></filter><g filter="url(#bb1_4)" fill="none" stroke="#fff" stroke-linecap="round" stroke-linejoin="round"><path d="M564.8 418.6C566 417.7 567.8 416.5 572 413.2C576.2 409.9 584 404.2 589.9 398.8C595.9 393.5 602.5 387.5 607.9 380.9C613.3 374.3 617.8 366.5 622.3 359.3C626.8 352.1 631 344.4 634.9 337.8C638.7 331.2 642 324.6 645.6 319.8C649.2 315 652.5 311.7 656.4 309C660.3 306.3 666.9 304.5 669 303.6" stroke-width="3.8" stroke-opacity="0.32"/><path d="M728.3 303.6C730.1 304.5 735.4 306.3 739 309C742.6 311.7 746.2 315 749.8 319.8C753.4 324.6 757 331.5 760.6 337.8C764.2 344.1 767.5 350.9 771.4 357.5C775.3 364.1 779.5 371.3 783.9 377.3C788.4 383.3 793.2 388.4 798.3 393.5C803.4 398.5 810.1 404.2 814.5 407.8C818.8 411.4 821.7 413.1 824.4 415C827.1 417 829.6 418.8 830.6 419.5" stroke-width="3.8" stroke-opacity="0.32"/><path d="M610.6 422.2C611.1 421.3 611.1 421.9 613.3 416.8C615.5 411.7 620.5 399.7 624.1 391.7C627.7 383.6 631.3 375.5 634.9 368.3C638.4 361.1 642.3 353.6 645.6 348.5C648.9 343.5 651.8 340.2 654.6 337.8C657.5 335.4 659.7 334.2 662.7 334.2C665.7 334.2 669.3 335.5 672.6 337.8C675.9 340 679.5 344.4 682.5 347.6C685.4 350.9 687.8 354.9 690.5 357.2C693.3 359.4 696.1 361.1 699 361.1C701.8 361.1 704.8 359.5 707.6 357.2C710.4 354.8 712.8 350.3 715.7 347.1C718.5 343.9 721.7 339.9 724.7 337.8C727.7 335.6 730.7 334.2 733.6 334.2C736.6 334.2 739.6 335.1 742.6 337.8C745.6 340.5 748.3 345 751.6 350.3C754.9 355.7 758.8 362.9 762.4 370.1C766 377.3 769.6 385.7 773.2 393.5C776.8 401.2 781.7 412 783.9 416.8C786.2 421.6 786.2 421.3 786.6 422.2" stroke-width="3.8" stroke-opacity="0.32"/><path d="M634 422.2C634.4 421.3 634.7 419.5 636.6 416.8C638.6 414.1 642.6 408.9 645.6 406C648.6 403.2 652.1 401 654.6 399.7C657.2 398.5 658.5 398 660.9 398.5C663.3 398.9 665.8 399.4 669 402.4C672.1 405.5 677.4 413.5 679.8 416.8C682.2 420.1 682.8 421.3 683.4 422.2" stroke-width="3.8" stroke-opacity="0.32"/><path d="M711.2 422.2C711.6 421.3 711.9 419.5 713.9 416.8C715.8 414.1 719.9 408.9 722.9 406C725.9 403.2 729.3 401 731.9 399.7C734.4 398.5 735.7 398 738.1 398.5C740.5 398.9 743.1 399.4 746.2 402.4C749.4 405.5 754.6 413.5 757 416.8C759.4 420.1 760 421.3 760.6 422.2" stroke-width="3.8" stroke-opacity="0.32"/></g><filter id="bb1_2" color-interpolation-filters="sRGB" filterUnits="userSpaceOnUse" x="541.2" y="22.7" width="313.4" height="425.7"><feGaussianBlur stdDeviation="1.2"/></filter><g filter="url(#bb1_2)" fill="none" stroke="#fff" stroke-linecap="round" stroke-linejoin="round"><path d="M669 303.6C668.4 302.2 676.3 299.5 679.8 298.6C683.3 297.7 694.6 296.1 699 296.1C703.4 296.1 714.1 297.7 717.5 298.6C720.9 299.5 728.9 302.2 728.3 303.6C727.6 305.1 715.5 310 712.1 311.2C708.7 312.4 702.1 313.7 699 313.7C695.8 313.7 688.6 312.4 685.1 311.2C681.6 310 669.6 305.1 669 303.6Z" fill="#fff" fill-opacity="0.3" stroke="none"/><path d="M683.4 346.7C683.4 346.3 690.5 352.9 692.3 353.9C694.2 355 697.3 355.7 699 355.7C700.7 355.7 704.8 355.1 706.7 353.9C708.7 352.8 715.7 345.4 715.7 345.9C715.7 346.3 708.7 356.1 706.7 357.9C704.8 359.7 700.7 361.5 699 361.5C697.3 361.5 694.2 359.6 692.3 357.9C690.5 356.2 683.4 347.2 683.4 346.7Z" fill="#fff" fill-opacity="0.35" stroke="none"/><path d="M653.7 420.4C651.5 419.9 655.3 417 656.4 415.9C657.6 414.8 661.7 411 663.6 411.1C665.5 411.2 671.2 415.7 672.6 416.8C673.9 417.9 677.5 420 675.3 420.4C673.1 420.8 655.9 420.9 653.7 420.4Z" fill="#fff" fill-opacity="0.55" stroke="none"/><path d="M731 420.4C728.8 419.9 732.5 417 733.6 415.9C734.8 414.8 738.9 411 740.8 411.1C742.7 411.2 748.5 415.7 749.8 416.8C751.2 417.9 754.7 420 752.5 420.4C750.3 420.8 733.2 420.9 731 420.4Z" fill="#fff" fill-opacity="0.55" stroke="none"/></g><filter id="bb0_9" color-interpolation-filters="sRGB" filterUnits="userSpaceOnUse" x="541.2" y="22.7" width="313.4" height="425.7"><feGaussianBlur stdDeviation="0.9"/></filter><g filter="url(#bb0_9)" fill="none" stroke="#fff" stroke-linecap="round" stroke-linejoin="round"><linearGradient id="t12" gradientUnits="userSpaceOnUse" x1="607" y1="44.6" x2="672.6" y2="167.7"><stop offset="0" stop-color="#fff" stop-opacity="0.4"/><stop offset="0.1" stop-color="#fff" stop-opacity="0.4"/><stop offset="0.9" stop-color="#fff" stop-opacity="0.4"/><stop offset="1" stop-color="#fff" stop-opacity="0.2"/></linearGradient><path d="M607 44.6C607.6 46 607.6 45.8 610.6 52.7C613.6 59.6 620 75.3 625 85.9C629.9 96.6 635 106.9 640.2 116.5C645.5 126 651 134.9 656.4 143.4C661.8 151.9 669.9 163.6 672.6 167.7" stroke="url(#t12)" stroke-width="2.8" stroke-linecap="butt"/><linearGradient id="t14" gradientUnits="userSpaceOnUse" x1="790.2" y1="44.6" x2="724.7" y2="167.7"><stop offset="0" stop-color="#fff" stop-opacity="0.4"/><stop offset="0.1" stop-color="#fff" stop-opacity="0.4"/><stop offset="0.9" stop-color="#fff" stop-opacity="0.4"/><stop offset="1" stop-color="#fff" stop-opacity="0.2"/></linearGradient><path d="M790.2 44.6C789.6 46 789.8 45.8 786.6 52.7C783.5 59.6 776.6 75.3 771.4 85.9C766.1 96.6 760.6 106.9 755.2 116.5C749.8 126 744.1 134.9 739 143.4C733.9 151.9 727.1 163.6 724.7 167.7" stroke="url(#t14)" stroke-width="2.8" stroke-linecap="butt"/><path d="M613.3 44.6C613.9 46 613.9 45.8 616.9 52.7C619.9 59.6 626.5 75.3 631.3 85.9C636 96.6 640.5 106.9 645.6 116.5C650.7 126 656.4 136.8 661.8 143.4C667.2 150 673.5 153.2 678 156C682.5 158.7 685.2 159.1 688.7 159.9C692.2 160.8 695.4 161.2 699 161.2C702.6 161.2 706.6 161 710.3 159.9C714 158.9 716.9 158.4 721.1 155.1C725.3 151.7 730.4 146.9 735.4 139.8C740.5 132.8 746.5 122.2 751.6 112.9C756.7 103.6 761 94.2 766 84.1C770.9 74.1 778.1 59.3 781.3 52.7C784.4 46.1 784.2 46 784.8 44.6" stroke-width="2.8" stroke-opacity="0.42"/><linearGradient id="t16" gradientUnits="userSpaceOnUse" x1="634.9" y1="44.6" x2="692.3" y2="159.6"><stop offset="0" stop-color="#fff" stop-opacity="0.31"/><stop offset="0.3" stop-color="#fff" stop-opacity="0.31"/><stop offset="0.7" stop-color="#fff" stop-opacity="0.31"/><stop offset="1" stop-color="#fff" stop-opacity="0.09"/></linearGradient><path d="M634.9 44.6C635.3 46 634.9 45.8 637.5 52.7C640.2 59.6 646.7 74.4 651 85.9C655.4 97.5 659.7 112.3 663.6 121.9C667.5 131.4 670.8 137.7 674.4 143.4C678 149.1 682.2 153.3 685.1 156C688.1 158.7 691.1 159 692.3 159.6" stroke="url(#t16)" stroke-width="2.8" stroke-linecap="butt"/><linearGradient id="t18" gradientUnits="userSpaceOnUse" x1="762.4" y1="44.6" x2="705.8" y2="159.6"><stop offset="0" stop-color="#fff" stop-opacity="0.31"/><stop offset="0.3" stop-color="#fff" stop-opacity="0.31"/><stop offset="0.7" stop-color="#fff" stop-opacity="0.31"/><stop offset="1" stop-color="#fff" stop-opacity="0.09"/></linearGradient><path d="M762.4 44.6C761.9 46 762.4 45.8 759.7 52.7C757 59.6 750.6 74.4 746.2 85.9C741.9 97.5 737.5 112.3 733.6 121.9C729.8 131.4 726.5 137.7 722.9 143.4C719.3 149.1 714.9 153.3 712.1 156C709.2 158.7 706.9 159 705.8 159.6" stroke="url(#t18)" stroke-width="2.8" stroke-linecap="butt"/><path d="M564.8 418.6C566 417.7 567.8 416.5 572 413.2C576.2 409.9 584 404.2 589.9 398.8C595.9 393.5 602.5 387.5 607.9 380.9C613.3 374.3 617.8 366.5 622.3 359.3C626.8 352.1 631 344.4 634.9 337.8C638.7 331.2 642 324.6 645.6 319.8C649.2 315 652.5 311.7 656.4 309C660.3 306.3 666.9 304.5 669 303.6" stroke-width="2" stroke-opacity="0.57"/><path d="M728.3 303.6C730.1 304.5 735.4 306.3 739 309C742.6 311.7 746.2 315 749.8 319.8C753.4 324.6 757 331.5 760.6 337.8C764.2 344.1 767.5 350.9 771.4 357.5C775.3 364.1 779.5 371.3 783.9 377.3C788.4 383.3 793.2 388.4 798.3 393.5C803.4 398.5 810.1 404.2 814.5 407.8C818.8 411.4 821.7 413.1 824.4 415C827.1 417 829.6 418.8 830.6 419.5" stroke-width="2" stroke-opacity="0.57"/><path d="M610.6 422.2C611.1 421.3 611.1 421.9 613.3 416.8C615.5 411.7 620.5 399.7 624.1 391.7C627.7 383.6 631.3 375.5 634.9 368.3C638.4 361.1 642.3 353.6 645.6 348.5C648.9 343.5 651.8 340.2 654.6 337.8C657.5 335.4 659.7 334.2 662.7 334.2C665.7 334.2 669.3 335.5 672.6 337.8C675.9 340 679.5 344.4 682.5 347.6C685.4 350.9 687.8 354.9 690.5 357.2C693.3 359.4 696.1 361.1 699 361.1C701.8 361.1 704.8 359.5 707.6 357.2C710.4 354.8 712.8 350.3 715.7 347.1C718.5 343.9 721.7 339.9 724.7 337.8C727.7 335.6 730.7 334.2 733.6 334.2C736.6 334.2 739.6 335.1 742.6 337.8C745.6 340.5 748.3 345 751.6 350.3C754.9 355.7 758.8 362.9 762.4 370.1C766 377.3 769.6 385.7 773.2 393.5C776.8 401.2 781.7 412 783.9 416.8C786.2 421.6 786.2 421.3 786.6 422.2" stroke-width="2" stroke-opacity="0.57"/><path d="M634 422.2C634.4 421.3 634.7 419.5 636.6 416.8C638.6 414.1 642.6 408.9 645.6 406C648.6 403.2 652.1 401 654.6 399.7C657.2 398.5 658.5 398 660.9 398.5C663.3 398.9 665.8 399.4 669 402.4C672.1 405.5 677.4 413.5 679.8 416.8C682.2 420.1 682.8 421.3 683.4 422.2" stroke-width="2" stroke-opacity="0.59"/><path d="M711.2 422.2C711.6 421.3 711.9 419.5 713.9 416.8C715.8 414.1 719.9 408.9 722.9 406C725.9 403.2 729.3 401 731.9 399.7C734.4 398.5 735.7 398 738.1 398.5C740.5 398.9 743.1 399.4 746.2 402.4C749.4 405.5 754.6 413.5 757 416.8C759.4 420.1 760 421.3 760.6 422.2" stroke-width="2" stroke-opacity="0.59"/></g><filter id="bb0_75" color-interpolation-filters="sRGB" filterUnits="userSpaceOnUse" x="541.2" y="22.7" width="313.4" height="425.7"><feGaussianBlur stdDeviation="0.75"/></filter><g filter="url(#bb0_75)" fill="none" stroke="#fff" stroke-linecap="round" stroke-linejoin="round"><linearGradient id="t13" gradientUnits="userSpaceOnUse" x1="607" y1="44.6" x2="672.6" y2="167.7"><stop offset="0" stop-color="#fff" stop-opacity="0.76"/><stop offset="0.1" stop-color="#fff" stop-opacity="0.76"/><stop offset="0.9" stop-color="#fff" stop-opacity="0.76"/><stop offset="1" stop-color="#fff" stop-opacity="0.38"/></linearGradient><path d="M607 44.6C607.6 46 607.6 45.8 610.6 52.7C613.6 59.6 620 75.3 625 85.9C629.9 96.6 635 106.9 640.2 116.5C645.5 126 651 134.9 656.4 143.4C661.8 151.9 669.9 163.6 672.6 167.7" stroke="url(#t13)" stroke-width="1.6" stroke-linecap="butt"/><linearGradient id="t15" gradientUnits="userSpaceOnUse" x1="790.2" y1="44.6" x2="724.7" y2="167.7"><stop offset="0" stop-color="#fff" stop-opacity="0.76"/><stop offset="0.1" stop-color="#fff" stop-opacity="0.76"/><stop offset="0.9" stop-color="#fff" stop-opacity="0.76"/><stop offset="1" stop-color="#fff" stop-opacity="0.38"/></linearGradient><path d="M790.2 44.6C789.6 46 789.8 45.8 786.6 52.7C783.5 59.6 776.6 75.3 771.4 85.9C766.1 96.6 760.6 106.9 755.2 116.5C749.8 126 744.1 134.9 739 143.4C733.9 151.9 727.1 163.6 724.7 167.7" stroke="url(#t15)" stroke-width="1.6" stroke-linecap="butt"/><path d="M613.3 44.6C613.9 46 613.9 45.8 616.9 52.7C619.9 59.6 626.5 75.3 631.3 85.9C636 96.6 640.5 106.9 645.6 116.5C650.7 126 656.4 136.8 661.8 143.4C667.2 150 673.5 153.2 678 156C682.5 158.7 685.2 159.1 688.7 159.9C692.2 160.8 695.4 161.2 699 161.2C702.6 161.2 706.6 161 710.3 159.9C714 158.9 716.9 158.4 721.1 155.1C725.3 151.7 730.4 146.9 735.4 139.8C740.5 132.8 746.5 122.2 751.6 112.9C756.7 103.6 761 94.2 766 84.1C770.9 74.1 778.1 59.3 781.3 52.7C784.4 46.1 784.2 46 784.8 44.6" stroke-width="1.6" stroke-opacity="0.81"/><linearGradient id="t17" gradientUnits="userSpaceOnUse" x1="634.9" y1="44.6" x2="692.3" y2="159.6"><stop offset="0" stop-color="#fff" stop-opacity="0.59"/><stop offset="0.3" stop-color="#fff" stop-opacity="0.59"/><stop offset="0.7" stop-color="#fff" stop-opacity="0.59"/><stop offset="1" stop-color="#fff" stop-opacity="0.18"/></linearGradient><path d="M634.9 44.6C635.3 46 634.9 45.8 637.5 52.7C640.2 59.6 646.7 74.4 651 85.9C655.4 97.5 659.7 112.3 663.6 121.9C667.5 131.4 670.8 137.7 674.4 143.4C678 149.1 682.2 153.3 685.1 156C688.1 158.7 691.1 159 692.3 159.6" stroke="url(#t17)" stroke-width="1.6" stroke-linecap="butt"/><linearGradient id="t19" gradientUnits="userSpaceOnUse" x1="762.4" y1="44.6" x2="705.8" y2="159.6"><stop offset="0" stop-color="#fff" stop-opacity="0.59"/><stop offset="0.3" stop-color="#fff" stop-opacity="0.59"/><stop offset="0.7" stop-color="#fff" stop-opacity="0.59"/><stop offset="1" stop-color="#fff" stop-opacity="0.18"/></linearGradient><path d="M762.4 44.6C761.9 46 762.4 45.8 759.7 52.7C757 59.6 750.6 74.4 746.2 85.9C741.9 97.5 737.5 112.3 733.6 121.9C729.8 131.4 726.5 137.7 722.9 143.4C719.3 149.1 714.9 153.3 712.1 156C709.2 158.7 706.9 159 705.8 159.6" stroke="url(#t19)" stroke-width="1.6" stroke-linecap="butt"/><linearGradient id="t20" gradientUnits="userSpaceOnUse" x1="645.6" y1="319.8" x2="669" y2="303.6"><stop offset="0" stop-color="#fff" stop-opacity="0"/><stop offset="0.45" stop-color="#fff" stop-opacity="0.76"/><stop offset="0.55" stop-color="#fff" stop-opacity="0.76"/><stop offset="1" stop-color="#fff" stop-opacity="0"/></linearGradient><path d="M645.6 319.8C647.4 318 652.5 311.7 656.4 309C660.3 306.3 666.9 304.5 669 303.6" stroke="url(#t20)" stroke-width="1.5" stroke-linecap="butt"/><linearGradient id="t21" gradientUnits="userSpaceOnUse" x1="607.9" y1="380.9" x2="622.3" y2="359.3"><stop offset="0" stop-color="#fff" stop-opacity="0"/><stop offset="0.45" stop-color="#fff" stop-opacity="0.76"/><stop offset="0.55" stop-color="#fff" stop-opacity="0.76"/><stop offset="1" stop-color="#fff" stop-opacity="0"/></linearGradient><path d="M607.9 380.9C609.2 379.1 613.1 373.7 615.5 370.1C617.8 366.5 621.1 361.1 622.3 359.3" stroke="url(#t21)" stroke-width="1.5" stroke-linecap="butt"/><linearGradient id="t22" gradientUnits="userSpaceOnUse" x1="572" y1="413.2" x2="589.9" y2="398.8"><stop offset="0" stop-color="#fff" stop-opacity="0"/><stop offset="0.45" stop-color="#fff" stop-opacity="0.76"/><stop offset="0.55" stop-color="#fff" stop-opacity="0.76"/><stop offset="1" stop-color="#fff" stop-opacity="0"/></linearGradient><path d="M572 413.2C573.5 412.1 578 408.8 581 406.4C584 404 588.4 400.1 589.9 398.8" stroke="url(#t22)" stroke-width="1.5" stroke-linecap="butt"/><linearGradient id="t23" gradientUnits="userSpaceOnUse" x1="728.3" y1="303.6" x2="749.8" y2="319.8"><stop offset="0" stop-color="#fff" stop-opacity="0"/><stop offset="0.45" stop-color="#fff" stop-opacity="0.76"/><stop offset="0.55" stop-color="#fff" stop-opacity="0.76"/><stop offset="1" stop-color="#fff" stop-opacity="0"/></linearGradient><path d="M728.3 303.6C730.1 304.5 735.4 306.3 739 309C742.6 311.7 748 318 749.8 319.8" stroke="url(#t23)" stroke-width="1.5" stroke-linecap="butt"/><linearGradient id="t24" gradientUnits="userSpaceOnUse" x1="771.4" y1="357.5" x2="783.9" y2="377.3"><stop offset="0" stop-color="#fff" stop-opacity="0"/><stop offset="0.45" stop-color="#fff" stop-opacity="0.76"/><stop offset="0.55" stop-color="#fff" stop-opacity="0.76"/><stop offset="1" stop-color="#fff" stop-opacity="0"/></linearGradient><path d="M771.4 357.5C772.4 359.3 775.6 364.7 777.7 367.9C779.8 371.2 782.9 375.7 783.9 377.3" stroke="url(#t24)" stroke-width="1.5" stroke-linecap="butt"/><linearGradient id="t25" gradientUnits="userSpaceOnUse" x1="806.4" y1="401" x2="824.4" y2="415"><stop offset="0" stop-color="#fff" stop-opacity="0"/><stop offset="0.45" stop-color="#fff" stop-opacity="0.76"/><stop offset="0.55" stop-color="#fff" stop-opacity="0.76"/><stop offset="1" stop-color="#fff" stop-opacity="0"/></linearGradient><path d="M806.4 401C807.7 402.1 811.5 405.5 814.5 407.8C817.5 410.2 822.7 413.8 824.4 415" stroke="url(#t25)" stroke-width="1.5" stroke-linecap="butt"/><linearGradient id="t26" gradientUnits="userSpaceOnUse" x1="654.6" y1="337.8" x2="672.6" y2="337.8"><stop offset="0" stop-color="#fff" stop-opacity="0"/><stop offset="0.45" stop-color="#fff" stop-opacity="0.76"/><stop offset="0.55" stop-color="#fff" stop-opacity="0.76"/><stop offset="1" stop-color="#fff" stop-opacity="0"/></linearGradient><path d="M654.6 337.8C656 337.2 659.7 334.2 662.7 334.2C665.7 334.2 670.9 337.2 672.6 337.8" stroke="url(#t26)" stroke-width="1.5" stroke-linecap="butt"/><linearGradient id="t27" gradientUnits="userSpaceOnUse" x1="724.7" y1="337.8" x2="742.6" y2="337.8"><stop offset="0" stop-color="#fff" stop-opacity="0"/><stop offset="0.45" stop-color="#fff" stop-opacity="0.76"/><stop offset="0.55" stop-color="#fff" stop-opacity="0.76"/><stop offset="1" stop-color="#fff" stop-opacity="0"/></linearGradient><path d="M724.7 337.8C726.2 337.2 730.7 334.2 733.6 334.2C736.6 334.2 741.1 337.2 742.6 337.8" stroke="url(#t27)" stroke-width="1.5" stroke-linecap="butt"/><linearGradient id="t28" gradientUnits="userSpaceOnUse" x1="634.9" y1="368.3" x2="645.6" y2="348.5"><stop offset="0" stop-color="#fff" stop-opacity="0"/><stop offset="0.45" stop-color="#fff" stop-opacity="0.76"/><stop offset="0.55" stop-color="#fff" stop-opacity="0.76"/><stop offset="1" stop-color="#fff" stop-opacity="0"/></linearGradient><path d="M634.9 368.3C635.8 366.6 638.4 361.2 640.2 357.9C642 354.6 644.7 350.1 645.6 348.5" stroke="url(#t28)" stroke-width="1.5" stroke-linecap="butt"/><linearGradient id="t29" gradientUnits="userSpaceOnUse" x1="751.6" y1="350.3" x2="762.4" y2="370.1"><stop offset="0" stop-color="#fff" stop-opacity="0"/><stop offset="0.45" stop-color="#fff" stop-opacity="0.76"/><stop offset="0.55" stop-color="#fff" stop-opacity="0.76"/><stop offset="1" stop-color="#fff" stop-opacity="0"/></linearGradient><path d="M751.6 350.3C752.5 352 755.2 356.7 757 360C758.8 363.3 761.5 368.4 762.4 370.1" stroke="url(#t29)" stroke-width="1.5" stroke-linecap="butt"/><linearGradient id="t30" gradientUnits="userSpaceOnUse" x1="645.6" y1="406" x2="674.4" y2="409.3"><stop offset="0" stop-color="#fff" stop-opacity="0"/><stop offset="0.45" stop-color="#fff" stop-opacity="0.76"/><stop offset="0.55" stop-color="#fff" stop-opacity="0.76"/><stop offset="1" stop-color="#fff" stop-opacity="0"/></linearGradient><path d="M645.6 406C647.1 405 652.1 401 654.6 399.7C657.2 398.5 658.5 398 660.9 398.5C663.3 398.9 666.7 400.6 669 402.4C671.2 404.2 673.5 408.1 674.4 409.3" stroke="url(#t30)" stroke-width="1.5" stroke-linecap="butt"/><linearGradient id="t31" gradientUnits="userSpaceOnUse" x1="722.9" y1="406" x2="751.6" y2="409.3"><stop offset="0" stop-color="#fff" stop-opacity="0"/><stop offset="0.45" stop-color="#fff" stop-opacity="0.76"/><stop offset="0.55" stop-color="#fff" stop-opacity="0.76"/><stop offset="1" stop-color="#fff" stop-opacity="0"/></linearGradient><path d="M722.9 406C724.4 405 729.3 401 731.9 399.7C734.4 398.5 735.7 398 738.1 398.5C740.5 398.9 744 400.6 746.2 402.4C748.5 404.2 750.7 408.1 751.6 409.3" stroke="url(#t31)" stroke-width="1.5" stroke-linecap="butt"/></g></g></g>
<clipPath id="cpc"><rect x="964.4" y="52.7" width="254.9" height="365.7"/></clipPath><g clip-path="url(#cpc)"><g filter="url(#cmB)"><rect x="924.4" y="12.7" width="334.9" height="445.7" fill="#000"/><filter id="cb3" color-interpolation-filters="sRGB" filterUnits="userSpaceOnUse" x="934.4" y="22.7" width="314.9" height="425.7"><feGaussianBlur stdDeviation="3"/></filter><g filter="url(#cb3)" fill="none" stroke="#fff" stroke-linecap="round" stroke-linejoin="round"><path d="M1043.2 42.8C1042 45.9 1051.8 68.7 1054 73.4C1056.2 78 1062.3 87 1064.8 89.5C1067.3 92 1076.3 97.4 1079.1 98.5C1082 99.6 1090.3 101 1093 101C1095.7 101 1103.5 99.6 1106.1 98.5C1108.7 97.4 1116.3 92 1118.7 89.5C1121 87 1127.4 78 1129.4 73.4C1131.5 68.7 1140.4 45.9 1139.3 42.8C1138.2 39.8 1121.5 40.5 1118.7 42.8C1115.9 45.1 1114.1 63.1 1111.5 66.2C1108.9 69.2 1096.8 73.4 1093 73.4C1089.2 73.4 1076.4 69.2 1073.8 66.2C1071.1 63.1 1069.6 45.1 1066.6 42.8C1063.5 40.5 1044.5 39.8 1043.2 42.8Z" fill="#fff" fill-opacity="0.2" stroke="none"/><path d="M1067.5 172.1C1066.1 173.4 1076.6 185.6 1079.1 188.3C1081.7 191 1090.6 199.3 1093 199.5C1095.3 199.6 1100.7 192.2 1102.5 190.1C1104.3 188 1111.5 179.9 1110.6 178.4C1109.6 177 1097.3 176.4 1093 175.7C1088.7 175.1 1068.9 170.9 1067.5 172.1Z" fill="#fff" fill-opacity="0.2" stroke="none"/></g><filter id="cb1_6" color-interpolation-filters="sRGB" filterUnits="userSpaceOnUse" x="934.4" y="22.7" width="314.9" height="425.7"><feGaussianBlur stdDeviation="1.6"/></filter><g filter="url(#cb1_6)" fill="none" stroke="#fff" stroke-linecap="round" stroke-linejoin="round"><linearGradient id="t36" gradientUnits="userSpaceOnUse" x1="1044.1" y1="52.7" x2="1073.8" y2="95.8"><stop offset="0" stop-color="#fff" stop-opacity="0.42"/><stop offset="0.4" stop-color="#fff" stop-opacity="0.42"/><stop offset="0.6" stop-color="#fff" stop-opacity="0.42"/><stop offset="1" stop-color="#fff" stop-opacity="0"/></linearGradient><path d="M1044.1 52.7C1045.8 56.1 1050.6 67.4 1054 73.4C1057.4 79.3 1061.5 84.9 1064.8 88.6C1068.1 92.4 1072.3 94.6 1073.8 95.8" stroke="url(#t36)" stroke-width="2.5" stroke-linecap="butt"/><linearGradient id="t37" gradientUnits="userSpaceOnUse" x1="1138.8" y1="52.7" x2="1109.7" y2="95.8"><stop offset="0" stop-color="#fff" stop-opacity="0.42"/><stop offset="0.4" stop-color="#fff" stop-opacity="0.42"/><stop offset="0.6" stop-color="#fff" stop-opacity="0.42"/><stop offset="1" stop-color="#fff" stop-opacity="0"/></linearGradient><path d="M1138.8 52.7C1137.2 56.1 1132.8 67.4 1129.4 73.4C1126.1 79.3 1122 84.9 1118.7 88.6C1115.4 92.4 1111.2 94.6 1109.7 95.8" stroke="url(#t37)" stroke-width="2.5" stroke-linecap="butt"/></g><filter id="cb1_3" color-interpolation-filters="sRGB" filterUnits="userSpaceOnUse" x="934.4" y="22.7" width="314.9" height="425.7"><feGaussianBlur stdDeviation="1.3"/></filter><g filter="url(#cb1_3)" fill="none" stroke="#fff" stroke-linecap="round" stroke-linejoin="round"><path d="M1032.4 330.6C1033.6 329.1 1036.9 324.3 1039.6 321.6C1042.3 318.9 1046.1 315.9 1048.6 314.4C1051.2 312.9 1052.2 312 1054.9 312.6C1057.6 313.2 1061.6 315 1064.8 318C1067.9 321 1070.8 326.4 1073.8 330.6C1076.8 334.8 1079.5 340.2 1082.7 343.2C1085.9 346.1 1089.7 348.2 1093 348.5C1096.3 348.8 1099.4 347.3 1102.5 345C1105.6 342.6 1108.8 337.2 1111.5 334.2C1114.2 331.2 1116.3 328.6 1118.7 327C1121.1 325.3 1123.2 324 1125.9 324.3C1128.5 324.6 1131.8 326.8 1134.8 328.8C1137.8 330.7 1140.5 333.3 1143.8 336C1147.1 338.7 1151 341.1 1154.6 345C1158.2 348.8 1161.8 354.5 1165.4 359.3C1169 364.1 1172.3 368.6 1176.1 373.7C1180 378.8 1184.2 384.5 1188.7 389.9C1193.2 395.2 1198.3 401.5 1203.1 406C1207.9 410.5 1214.2 414.3 1217.5 416.8C1220.8 419.3 1222 420.5 1222.9 421.3" stroke-width="3.9" stroke-opacity="0.37"/><linearGradient id="t62" gradientUnits="userSpaceOnUse" x1="1002.8" y1="422.2" x2="1140.2" y2="342.8"><stop offset="0" stop-color="#fff" stop-opacity="0.37"/><stop offset="0.03" stop-color="#fff" stop-opacity="0.37"/><stop offset="0.97" stop-color="#fff" stop-opacity="0.37"/><stop offset="1" stop-color="#fff" stop-opacity="0.3"/></linearGradient><path d="M1002.8 422.2C1003.3 421.3 1003.3 421 1005.5 416.8C1007.7 412.6 1012.7 403.6 1016.3 397C1019.9 390.5 1023.5 383 1027.1 377.3C1030.6 371.6 1034.5 366.2 1037.8 362.9C1041.1 359.6 1044.3 358.6 1046.8 357.5C1049.4 356.5 1050.4 355.7 1053.1 356.6C1055.8 357.5 1059.8 359.5 1063 362.9C1066.1 366.4 1069 371.9 1072 377.3C1075 382.7 1078.3 390.3 1080.9 395.2C1083.6 400.2 1086.1 404.5 1088.1 406.9C1090.1 409.3 1091.2 410.4 1093 409.6C1094.8 408.9 1096.7 406.3 1098.9 402.4C1101.1 398.5 1103.4 392.3 1106.1 386.3C1108.8 380.3 1112.1 372.2 1115.1 366.5C1118.1 360.8 1121.1 355.7 1124.1 352.1C1127 348.5 1130.3 346.5 1133 345C1135.7 343.4 1139 343.2 1140.2 342.8" stroke="url(#t62)" stroke-width="3.9" stroke-linecap="butt"/></g><filter id="cb1_2" color-interpolation-filters="sRGB" filterUnits="userSpaceOnUse" x="934.4" y="22.7" width="314.9" height="425.7"><feGaussianBlur stdDeviation="1.2"/></filter><g filter="url(#cb1_2)" fill="none" stroke="#fff" stroke-linecap="round" stroke-linejoin="round"><path d="M1074.7 300.4C1076.1 299.5 1087.1 299.3 1090.8 299.3C1094.6 299.3 1105.5 299.5 1107 300.4C1108.5 301.3 1105.3 305.9 1103.4 306.9C1101.5 307.8 1093.8 308.7 1090.8 308.7C1087.9 308.7 1080.1 307.8 1078.3 306.9C1076.4 305.9 1073.2 301.3 1074.7 300.4Z" fill="#fff" fill-opacity="0.36" stroke="none"/></g><filter id="cb0_9" color-interpolation-filters="sRGB" filterUnits="userSpaceOnUse" x="934.4" y="22.7" width="314.9" height="425.7"><feGaussianBlur stdDeviation="0.9"/></filter><g filter="url(#cb0_9)" fill="none" stroke="#fff" stroke-linecap="round" stroke-linejoin="round"><linearGradient id="t32" gradientUnits="userSpaceOnUse" x1="984.8" y1="44.6" x2="1074.7" y2="298.2"><stop offset="0" stop-color="#fff" stop-opacity="0.34"/><stop offset="0.04" stop-color="#fff" stop-opacity="0.34"/><stop offset="0.96" stop-color="#fff" stop-opacity="0.34"/><stop offset="1" stop-color="#fff" stop-opacity="0.1"/></linearGradient><path d="M984.8 44.6C985.3 46 984.7 43.7 987.5 52.7C990.4 61.7 997.1 82.8 1001.9 98.5C1006.7 114.2 1011.8 131.7 1016.3 147C1020.8 162.3 1025 176.3 1028.9 190.1C1032.7 203.9 1036.6 219.8 1039.6 230C1042.6 240.2 1044.1 244.1 1046.8 251.5C1049.5 259 1052.8 268.3 1055.8 274.9C1058.8 281.5 1061.6 287.2 1064.8 291.1C1067.9 295 1073 297.1 1074.7 298.2" stroke="url(#t32)" stroke-width="2.8" stroke-linecap="butt"/><linearGradient id="t34" gradientUnits="userSpaceOnUse" x1="1108.8" y1="298.2" x2="1200.4" y2="44.6"><stop offset="0" stop-color="#fff" stop-opacity="0.1"/><stop offset="0.04" stop-color="#fff" stop-opacity="0.34"/><stop offset="0.96" stop-color="#fff" stop-opacity="0.34"/><stop offset="1" stop-color="#fff" stop-opacity="0.34"/></linearGradient><path d="M1108.8 298.2C1110.1 297.1 1114 295 1116.9 291.1C1119.7 287.2 1122.9 281.5 1125.9 274.9C1128.8 268.3 1132 259 1134.8 251.5C1137.7 244.1 1139.6 240.2 1142.9 230C1146.2 219.8 1150.4 203.9 1154.6 190.1C1158.8 176.3 1163.3 162.3 1168.1 147C1172.9 131.7 1178.4 114.2 1183.3 98.5C1188.3 82.8 1194.9 61.7 1197.7 52.7C1200.5 43.7 1199.9 46 1200.4 44.6" stroke="url(#t34)" stroke-width="2.8" stroke-linecap="butt"/><linearGradient id="t38" gradientUnits="userSpaceOnUse" x1="1064.8" y1="60.8" x2="1120.5" y2="60.8"><stop offset="0" stop-color="#fff" stop-opacity="0"/><stop offset="0.3" stop-color="#fff" stop-opacity="0.25"/><stop offset="0.7" stop-color="#fff" stop-opacity="0.25"/><stop offset="1" stop-color="#fff" stop-opacity="0"/></linearGradient><path d="M1064.8 60.8C1067.2 62.7 1074.4 69.8 1079.1 72.5C1083.8 75.1 1088.5 76.9 1093 76.9C1097.5 76.9 1101.5 75.1 1106.1 72.5C1110.7 69.8 1118.1 62.7 1120.5 60.8" stroke="url(#t38)" stroke-width="3.4" stroke-linecap="butt"/><linearGradient id="t40" gradientUnits="userSpaceOnUse" x1="1072.9" y1="80.9" x2="1112.4" y2="80.9"><stop offset="0" stop-color="#fff" stop-opacity="0"/><stop offset="0.25" stop-color="#fff" stop-opacity="0.25"/><stop offset="0.75" stop-color="#fff" stop-opacity="0.25"/><stop offset="1" stop-color="#fff" stop-opacity="0"/></linearGradient><path d="M1072.9 80.9C1076.2 80.8 1086.4 80.2 1093 80.2C1099.6 80.2 1109.1 80.8 1112.4 80.9" stroke="url(#t40)" stroke-width="3.4" stroke-linecap="butt"/><linearGradient id="t42" gradientUnits="userSpaceOnUse" x1="1000.1" y1="44.6" x2="1055.8" y2="148.8"><stop offset="0" stop-color="#fff" stop-opacity="0.35"/><stop offset="0.25" stop-color="#fff" stop-opacity="0.35"/><stop offset="0.75" stop-color="#fff" stop-opacity="0.35"/><stop offset="1" stop-color="#fff" stop-opacity="0"/></linearGradient><path d="M1000.1 44.6C1000.6 46 1000.4 47.3 1002.8 52.7C1005.2 58.1 1010.7 69.3 1014.5 76.9C1018.2 84.6 1021.7 91.6 1025.3 98.5C1028.9 105.4 1032.7 112.3 1036 118.3C1039.3 124.2 1041.7 129.3 1045 134.4C1048.3 139.5 1054 146.4 1055.8 148.8" stroke="url(#t42)" stroke-width="2.8" stroke-linecap="butt"/><linearGradient id="t44" gradientUnits="userSpaceOnUse" x1="1029.8" y1="107.5" x2="1044.1" y2="131.7"><stop offset="0" stop-color="#fff" stop-opacity="0"/><stop offset="0.4" stop-color="#fff" stop-opacity="0.42"/><stop offset="0.6" stop-color="#fff" stop-opacity="0.42"/><stop offset="1" stop-color="#fff" stop-opacity="0"/></linearGradient><path d="M1029.8 107.5C1031.1 109.9 1035.4 117.8 1037.8 121.9C1040.2 125.9 1043.1 130.1 1044.1 131.7" stroke="url(#t44)" stroke-width="2.8" stroke-linecap="butt"/><linearGradient id="t46" gradientUnits="userSpaceOnUse" x1="1010" y1="52.7" x2="1030.6" y2="102.1"><stop offset="0" stop-color="#fff" stop-opacity="0.25"/><stop offset="0.3" stop-color="#fff" stop-opacity="0.25"/><stop offset="0.7" stop-color="#fff" stop-opacity="0.25"/><stop offset="1" stop-color="#fff" stop-opacity="0.15"/></linearGradient><path d="M1010 52.7C1011 55.5 1014 64.2 1016.3 69.8C1018.5 75.3 1021.1 80.5 1023.5 85.9C1025.9 91.3 1029.5 99.4 1030.6 102.1" stroke="url(#t46)" stroke-width="2.8" stroke-linecap="butt"/><linearGradient id="t48" gradientUnits="userSpaceOnUse" x1="1030.6" y1="55.4" x2="1045" y2="93.1"><stop offset="0" stop-color="#fff" stop-opacity="0"/><stop offset="0.3" stop-color="#fff" stop-opacity="0.1"/><stop offset="0.7" stop-color="#fff" stop-opacity="0.1"/><stop offset="1" stop-color="#fff" stop-opacity="0"/></linearGradient><path d="M1030.6 55.4C1031.8 58.7 1035.4 68.9 1037.8 75.1C1040.2 81.4 1043.8 90.1 1045 93.1" stroke="url(#t48)" stroke-width="1.7" stroke-linecap="butt"/><linearGradient id="t50" gradientUnits="userSpaceOnUse" x1="1182.4" y1="44.6" x2="1169" y2="79.6"><stop offset="0" stop-color="#fff" stop-opacity="0.3"/><stop offset="0.2" stop-color="#fff" stop-opacity="0.3"/><stop offset="0.8" stop-color="#fff" stop-opacity="0.3"/><stop offset="1" stop-color="#fff" stop-opacity="0.15"/></linearGradient><path d="M1182.4 44.6C1182 46 1181.4 48.2 1179.7 52.7C1178.1 57.2 1174.4 67.1 1172.6 71.6C1170.8 76 1169.6 78.3 1169 79.6" stroke="url(#t50)" stroke-width="2.8" stroke-linecap="butt"/><linearGradient id="t52" gradientUnits="userSpaceOnUse" x1="1167.2" y1="88.6" x2="1127.6" y2="159.6"><stop offset="0" stop-color="#fff" stop-opacity="0.1"/><stop offset="0.25" stop-color="#fff" stop-opacity="0.35"/><stop offset="0.75" stop-color="#fff" stop-opacity="0.35"/><stop offset="1" stop-color="#fff" stop-opacity="0"/></linearGradient><path d="M1167.2 88.6C1165.1 93.9 1158.8 111.2 1154.6 120.1C1150.4 128.9 1146.5 135 1142 141.6C1137.5 148.2 1130 156.6 1127.6 159.6" stroke="url(#t52)" stroke-width="2.8" stroke-linecap="butt"/><linearGradient id="t54" gradientUnits="userSpaceOnUse" x1="1138.4" y1="132.6" x2="1103.4" y2="173.9"><stop offset="0" stop-color="#fff" stop-opacity="0"/><stop offset="0.4" stop-color="#fff" stop-opacity="0.3"/><stop offset="0.6" stop-color="#fff" stop-opacity="0.3"/><stop offset="1" stop-color="#fff" stop-opacity="0.24"/></linearGradient><path d="M1138.4 132.6C1136.3 136.5 1129.7 150.3 1125.9 156C1122 161.7 1118.8 163.8 1115.1 166.8C1111.3 169.8 1105.3 172.7 1103.4 173.9" stroke="url(#t54)" stroke-width="3.9" stroke-linecap="butt"/><linearGradient id="t56" gradientUnits="userSpaceOnUse" x1="1151" y1="64.4" x2="1136.6" y2="100.3"><stop offset="0" stop-color="#fff" stop-opacity="0"/><stop offset="0.3" stop-color="#fff" stop-opacity="0.1"/><stop offset="0.7" stop-color="#fff" stop-opacity="0.1"/><stop offset="1" stop-color="#fff" stop-opacity="0"/></linearGradient><path d="M1151 64.4C1149.8 67.7 1146.2 78.1 1143.8 84.1C1141.4 90.1 1137.8 97.6 1136.6 100.3" stroke="url(#t56)" stroke-width="1.7" stroke-linecap="butt"/><linearGradient id="t58" gradientUnits="userSpaceOnUse" x1="1174.4" y1="64.4" x2="1138.4" y2="136.2"><stop offset="0" stop-color="#fff" stop-opacity="0"/><stop offset="0.3" stop-color="#fff" stop-opacity="0.15"/><stop offset="0.7" stop-color="#fff" stop-opacity="0.15"/><stop offset="1" stop-color="#fff" stop-opacity="0"/></linearGradient><path d="M1174.4 64.4C1172.6 68.9 1167.5 82.3 1163.6 91.3C1159.7 100.3 1155.2 110.8 1151 118.3C1146.8 125.7 1140.5 133.2 1138.4 136.2" stroke="url(#t58)" stroke-width="1.7" stroke-linecap="butt"/><linearGradient id="t60" gradientUnits="userSpaceOnUse" x1="1051.3" y1="107.5" x2="1133" y2="109.3"><stop offset="0" stop-color="#fff" stop-opacity="0.04"/><stop offset="0.38" stop-color="#fff" stop-opacity="0.41"/><stop offset="0.62" stop-color="#fff" stop-opacity="0.41"/><stop offset="1" stop-color="#fff" stop-opacity="0.04"/></linearGradient><path d="M1051.3 107.5C1053.3 112 1059.5 127.7 1063 134.4C1066.4 141.2 1068.7 144.5 1072 147.9C1075.3 151.3 1079.2 153.7 1082.7 155.1C1086.2 156.5 1089.4 156.3 1093 156.3C1096.6 156.3 1100.9 156.3 1104.3 155.1C1107.7 153.8 1110.3 152.2 1113.3 148.8C1116.3 145.4 1119 141 1122.3 134.4C1125.6 127.8 1131.2 113.5 1133 109.3" stroke="url(#t60)" stroke-width="2.8" stroke-linecap="butt"/><path d="M958.8 421.3C960 420.5 961.8 420.2 966 416.8C970.2 413.4 978 406.6 983.9 400.6C989.9 394.7 996.5 388.1 1001.9 380.9C1007.3 373.7 1011.8 365 1016.3 357.5C1020.8 350 1025.6 341.2 1028.9 336C1032.1 330.7 1034.8 327.7 1036 326.1" stroke-width="2.8" stroke-opacity="0.31"/><path d="M1142 343.2C1143.5 345.3 1148 350.6 1151 355.7C1154 360.8 1157 367.1 1160 373.7C1163 380.3 1166 388.1 1169 395.2C1172 402.4 1176 412.3 1177.9 416.8C1179.9 421.3 1180.2 421.3 1180.6 422.2" stroke-width="2" stroke-opacity="0.2"/><linearGradient id="t64" gradientUnits="userSpaceOnUse" x1="1020.8" y1="421.3" x2="1049.5" y2="397"><stop offset="0" stop-color="#fff" stop-opacity="0.4"/><stop offset="0.08" stop-color="#fff" stop-opacity="0.4"/><stop offset="0.92" stop-color="#fff" stop-opacity="0.4"/><stop offset="1" stop-color="#fff" stop-opacity="0.24"/></linearGradient><path d="M1020.8 421.3C1021.2 420.5 1021.2 419.6 1023.5 416.8C1025.7 414 1030.6 407.4 1034.2 404.2C1037.8 401.1 1042.5 399.1 1045 397.9C1047.6 396.7 1048.8 397.2 1049.5 397" stroke="url(#t64)" stroke-width="2.8" stroke-linecap="butt"/><linearGradient id="t66" gradientUnits="userSpaceOnUse" x1="1055.8" y1="403.3" x2="1074.7" y2="420.4"><stop offset="0" stop-color="#fff" stop-opacity="0.12"/><stop offset="0.15" stop-color="#fff" stop-opacity="0.4"/><stop offset="0.85" stop-color="#fff" stop-opacity="0.4"/><stop offset="1" stop-color="#fff" stop-opacity="0.4"/></linearGradient><path d="M1055.8 403.3C1057.3 404.4 1062.1 407.4 1064.8 409.6C1067.5 411.9 1070.3 415 1072 416.8C1073.6 418.6 1074.2 419.8 1074.7 420.4" stroke="url(#t66)" stroke-width="2.8" stroke-linecap="butt"/><linearGradient id="t68" gradientUnits="userSpaceOnUse" x1="1046.8" y1="418.6" x2="1064.8" y2="411.8"><stop offset="0" stop-color="#fff" stop-opacity="0.3"/><stop offset="0.3" stop-color="#fff" stop-opacity="0.3"/><stop offset="0.7" stop-color="#fff" stop-opacity="0.3"/><stop offset="1" stop-color="#fff" stop-opacity="0"/></linearGradient><path d="M1046.8 418.6C1048.6 417.3 1054.6 411.7 1057.6 410.5C1060.6 409.4 1063.6 411.6 1064.8 411.8" stroke="url(#t68)" stroke-width="2.8" stroke-linecap="butt"/><linearGradient id="t70" gradientUnits="userSpaceOnUse" x1="1115.1" y1="409.6" x2="1154.6" y2="417.7"><stop offset="0" stop-color="#fff" stop-opacity="0"/><stop offset="0.3" stop-color="#fff" stop-opacity="0.18"/><stop offset="0.7" stop-color="#fff" stop-opacity="0.18"/><stop offset="1" stop-color="#fff" stop-opacity="0.11"/></linearGradient><path d="M1115.1 409.6C1116.3 408.4 1119.6 403.9 1122.3 402.4C1125 400.9 1128.2 400.3 1131.2 400.6C1134.2 400.9 1137.2 402.4 1140.2 404.2C1143.2 406 1146.8 409.2 1149.2 411.4C1151.6 413.7 1153.7 416.7 1154.6 417.7" stroke="url(#t70)" stroke-width="2" stroke-linecap="butt"/><linearGradient id="t72" gradientUnits="userSpaceOnUse" x1="1104.3" y1="418.6" x2="1114.2" y2="409.6"><stop offset="0" stop-color="#fff" stop-opacity="0.25"/><stop offset="0.3" stop-color="#fff" stop-opacity="0.25"/><stop offset="0.7" stop-color="#fff" stop-opacity="0.25"/><stop offset="1" stop-color="#fff" stop-opacity="0.07"/></linearGradient><path d="M1104.3 418.6C1105.2 417.7 1108 414.7 1109.7 413.2C1111.3 411.7 1113.4 410.2 1114.2 409.6" stroke="url(#t72)" stroke-width="2.8" stroke-linecap="butt"/></g><filter id="cb0_75" color-interpolation-filters="sRGB" filterUnits="userSpaceOnUse" x="934.4" y="22.7" width="314.9" height="425.7"><feGaussianBlur stdDeviation="0.75"/></filter><g filter="url(#cb0_75)" fill="none" stroke="#fff" stroke-linecap="round" stroke-linejoin="round"><linearGradient id="t33" gradientUnits="userSpaceOnUse" x1="984.8" y1="44.6" x2="1074.7" y2="298.2"><stop offset="0" stop-color="#fff" stop-opacity="0.65"/><stop offset="0.04" stop-color="#fff" stop-opacity="0.65"/><stop offset="0.96" stop-color="#fff" stop-opacity="0.65"/><stop offset="1" stop-color="#fff" stop-opacity="0.19"/></linearGradient><path d="M984.8 44.6C985.3 46 984.7 43.7 987.5 52.7C990.4 61.7 997.1 82.8 1001.9 98.5C1006.7 114.2 1011.8 131.7 1016.3 147C1020.8 162.3 1025 176.3 1028.9 190.1C1032.7 203.9 1036.6 219.8 1039.6 230C1042.6 240.2 1044.1 244.1 1046.8 251.5C1049.5 259 1052.8 268.3 1055.8 274.9C1058.8 281.5 1061.6 287.2 1064.8 291.1C1067.9 295 1073 297.1 1074.7 298.2" stroke="url(#t33)" stroke-width="2" stroke-linecap="butt"/><linearGradient id="t35" gradientUnits="userSpaceOnUse" x1="1108.8" y1="298.2" x2="1200.4" y2="44.6"><stop offset="0" stop-color="#fff" stop-opacity="0.19"/><stop offset="0.04" stop-color="#fff" stop-opacity="0.65"/><stop offset="0.96" stop-color="#fff" stop-opacity="0.65"/><stop offset="1" stop-color="#fff" stop-opacity="0.65"/></linearGradient><path d="M1108.8 298.2C1110.1 297.1 1114 295 1116.9 291.1C1119.7 287.2 1122.9 281.5 1125.9 274.9C1128.8 268.3 1132 259 1134.8 251.5C1137.7 244.1 1139.6 240.2 1142.9 230C1146.2 219.8 1150.4 203.9 1154.6 190.1C1158.8 176.3 1163.3 162.3 1168.1 147C1172.9 131.7 1178.4 114.2 1183.3 98.5C1188.3 82.8 1194.9 61.7 1197.7 52.7C1200.5 43.7 1199.9 46 1200.4 44.6" stroke="url(#t35)" stroke-width="2" stroke-linecap="butt"/><linearGradient id="t39" gradientUnits="userSpaceOnUse" x1="1064.8" y1="60.8" x2="1120.5" y2="60.8"><stop offset="0" stop-color="#fff" stop-opacity="0"/><stop offset="0.3" stop-color="#fff" stop-opacity="0.47"/><stop offset="0.7" stop-color="#fff" stop-opacity="0.47"/><stop offset="1" stop-color="#fff" stop-opacity="0"/></linearGradient><path d="M1064.8 60.8C1067.2 62.7 1074.4 69.8 1079.1 72.5C1083.8 75.1 1088.5 76.9 1093 76.9C1097.5 76.9 1101.5 75.1 1106.1 72.5C1110.7 69.8 1118.1 62.7 1120.5 60.8" stroke="url(#t39)" stroke-width="1.9" stroke-linecap="butt"/><linearGradient id="t41" gradientUnits="userSpaceOnUse" x1="1072.9" y1="80.9" x2="1112.4" y2="80.9"><stop offset="0" stop-color="#fff" stop-opacity="0"/><stop offset="0.25" stop-color="#fff" stop-opacity="0.47"/><stop offset="0.75" stop-color="#fff" stop-opacity="0.47"/><stop offset="1" stop-color="#fff" stop-opacity="0"/></linearGradient><path d="M1072.9 80.9C1076.2 80.8 1086.4 80.2 1093 80.2C1099.6 80.2 1109.1 80.8 1112.4 80.9" stroke="url(#t41)" stroke-width="2.1" stroke-linecap="butt"/><linearGradient id="t43" gradientUnits="userSpaceOnUse" x1="1000.1" y1="44.6" x2="1055.8" y2="148.8"><stop offset="0" stop-color="#fff" stop-opacity="0.66"/><stop offset="0.25" stop-color="#fff" stop-opacity="0.66"/><stop offset="0.75" stop-color="#fff" stop-opacity="0.66"/><stop offset="1" stop-color="#fff" stop-opacity="0"/></linearGradient><path d="M1000.1 44.6C1000.6 46 1000.4 47.3 1002.8 52.7C1005.2 58.1 1010.7 69.3 1014.5 76.9C1018.2 84.6 1021.7 91.6 1025.3 98.5C1028.9 105.4 1032.7 112.3 1036 118.3C1039.3 124.2 1041.7 129.3 1045 134.4C1048.3 139.5 1054 146.4 1055.8 148.8" stroke="url(#t43)" stroke-width="1.9" stroke-linecap="butt"/><linearGradient id="t45" gradientUnits="userSpaceOnUse" x1="1029.8" y1="107.5" x2="1044.1" y2="131.7"><stop offset="0" stop-color="#fff" stop-opacity="0"/><stop offset="0.4" stop-color="#fff" stop-opacity="0.85"/><stop offset="0.6" stop-color="#fff" stop-opacity="0.85"/><stop offset="1" stop-color="#fff" stop-opacity="0"/></linearGradient><path d="M1029.8 107.5C1031.1 109.9 1035.4 117.8 1037.8 121.9C1040.2 125.9 1043.1 130.1 1044.1 131.7" stroke="url(#t45)" stroke-width="2.1" stroke-linecap="butt"/><linearGradient id="t47" gradientUnits="userSpaceOnUse" x1="1010" y1="52.7" x2="1030.6" y2="102.1"><stop offset="0" stop-color="#fff" stop-opacity="0.47"/><stop offset="0.3" stop-color="#fff" stop-opacity="0.47"/><stop offset="0.7" stop-color="#fff" stop-opacity="0.47"/><stop offset="1" stop-color="#fff" stop-opacity="0.28"/></linearGradient><path d="M1010 52.7C1011 55.5 1014 64.2 1016.3 69.8C1018.5 75.3 1021.1 80.5 1023.5 85.9C1025.9 91.3 1029.5 99.4 1030.6 102.1" stroke="url(#t47)" stroke-width="1.6" stroke-linecap="butt"/><linearGradient id="t49" gradientUnits="userSpaceOnUse" x1="1030.6" y1="55.4" x2="1045" y2="93.1"><stop offset="0" stop-color="#fff" stop-opacity="0"/><stop offset="0.3" stop-color="#fff" stop-opacity="0.19"/><stop offset="0.7" stop-color="#fff" stop-opacity="0.19"/><stop offset="1" stop-color="#fff" stop-opacity="0"/></linearGradient><path d="M1030.6 55.4C1031.8 58.7 1035.4 68.9 1037.8 75.1C1040.2 81.4 1043.8 90.1 1045 93.1" stroke="url(#t49)" stroke-width="1.6" stroke-linecap="butt"/><linearGradient id="t51" gradientUnits="userSpaceOnUse" x1="1182.4" y1="44.6" x2="1169" y2="79.6"><stop offset="0" stop-color="#fff" stop-opacity="0.57"/><stop offset="0.2" stop-color="#fff" stop-opacity="0.57"/><stop offset="0.8" stop-color="#fff" stop-opacity="0.57"/><stop offset="1" stop-color="#fff" stop-opacity="0.28"/></linearGradient><path d="M1182.4 44.6C1182 46 1181.4 48.2 1179.7 52.7C1178.1 57.2 1174.4 67.1 1172.6 71.6C1170.8 76 1169.6 78.3 1169 79.6" stroke="url(#t51)" stroke-width="1.6" stroke-linecap="butt"/><linearGradient id="t53" gradientUnits="userSpaceOnUse" x1="1167.2" y1="88.6" x2="1127.6" y2="159.6"><stop offset="0" stop-color="#fff" stop-opacity="0.2"/><stop offset="0.25" stop-color="#fff" stop-opacity="0.66"/><stop offset="0.75" stop-color="#fff" stop-opacity="0.66"/><stop offset="1" stop-color="#fff" stop-opacity="0"/></linearGradient><path d="M1167.2 88.6C1165.1 93.9 1158.8 111.2 1154.6 120.1C1150.4 128.9 1146.5 135 1142 141.6C1137.5 148.2 1130 156.6 1127.6 159.6" stroke="url(#t53)" stroke-width="1.9" stroke-linecap="butt"/><linearGradient id="t55" gradientUnits="userSpaceOnUse" x1="1138.4" y1="132.6" x2="1103.4" y2="173.9"><stop offset="0" stop-color="#fff" stop-opacity="0"/><stop offset="0.4" stop-color="#fff" stop-opacity="0.57"/><stop offset="0.6" stop-color="#fff" stop-opacity="0.57"/><stop offset="1" stop-color="#fff" stop-opacity="0.46"/></linearGradient><path d="M1138.4 132.6C1136.3 136.5 1129.7 150.3 1125.9 156C1122 161.7 1118.8 163.8 1115.1 166.8C1111.3 169.8 1105.3 172.7 1103.4 173.9" stroke="url(#t55)" stroke-width="2.8" stroke-linecap="butt"/><linearGradient id="t57" gradientUnits="userSpaceOnUse" x1="1151" y1="64.4" x2="1136.6" y2="100.3"><stop offset="0" stop-color="#fff" stop-opacity="0"/><stop offset="0.3" stop-color="#fff" stop-opacity="0.19"/><stop offset="0.7" stop-color="#fff" stop-opacity="0.19"/><stop offset="1" stop-color="#fff" stop-opacity="0"/></linearGradient><path d="M1151 64.4C1149.8 67.7 1146.2 78.1 1143.8 84.1C1141.4 90.1 1137.8 97.6 1136.6 100.3" stroke="url(#t57)" stroke-width="1.6" stroke-linecap="butt"/><linearGradient id="t59" gradientUnits="userSpaceOnUse" x1="1174.4" y1="64.4" x2="1138.4" y2="136.2"><stop offset="0" stop-color="#fff" stop-opacity="0"/><stop offset="0.3" stop-color="#fff" stop-opacity="0.28"/><stop offset="0.7" stop-color="#fff" stop-opacity="0.28"/><stop offset="1" stop-color="#fff" stop-opacity="0"/></linearGradient><path d="M1174.4 64.4C1172.6 68.9 1167.5 82.3 1163.6 91.3C1159.7 100.3 1155.2 110.8 1151 118.3C1146.8 125.7 1140.5 133.2 1138.4 136.2" stroke="url(#t59)" stroke-width="1.6" stroke-linecap="butt"/><linearGradient id="t61" gradientUnits="userSpaceOnUse" x1="1051.3" y1="107.5" x2="1133" y2="109.3"><stop offset="0" stop-color="#fff" stop-opacity="0.08"/><stop offset="0.38" stop-color="#fff" stop-opacity="0.78"/><stop offset="0.62" stop-color="#fff" stop-opacity="0.78"/><stop offset="1" stop-color="#fff" stop-opacity="0.08"/></linearGradient><path d="M1051.3 107.5C1053.3 112 1059.5 127.7 1063 134.4C1066.4 141.2 1068.7 144.5 1072 147.9C1075.3 151.3 1079.2 153.7 1082.7 155.1C1086.2 156.5 1089.4 156.3 1093 156.3C1096.6 156.3 1100.9 156.3 1104.3 155.1C1107.7 153.8 1110.3 152.2 1113.3 148.8C1116.3 145.4 1119 141 1122.3 134.4C1125.6 127.8 1131.2 113.5 1133 109.3" stroke="url(#t61)" stroke-width="1.9" stroke-linecap="butt"/><path d="M958.8 421.3C960 420.5 961.8 420.2 966 416.8C970.2 413.4 978 406.6 983.9 400.6C989.9 394.7 996.5 388.1 1001.9 380.9C1007.3 373.7 1011.8 365 1016.3 357.5C1020.8 350 1025.6 341.2 1028.9 336C1032.1 330.7 1034.8 327.7 1036 326.1" stroke-width="1.7" stroke-opacity="0.59"/><path d="M1032.4 330.6C1033.6 329.1 1036.9 324.3 1039.6 321.6C1042.3 318.9 1046.1 315.9 1048.6 314.4C1051.2 312.9 1052.2 312 1054.9 312.6C1057.6 313.2 1061.6 315 1064.8 318C1067.9 321 1070.8 326.4 1073.8 330.6C1076.8 334.8 1079.5 340.2 1082.7 343.2C1085.9 346.1 1089.7 348.2 1093 348.5C1096.3 348.8 1099.4 347.3 1102.5 345C1105.6 342.6 1108.8 337.2 1111.5 334.2C1114.2 331.2 1116.3 328.6 1118.7 327C1121.1 325.3 1123.2 324 1125.9 324.3C1128.5 324.6 1131.8 326.8 1134.8 328.8C1137.8 330.7 1140.5 333.3 1143.8 336C1147.1 338.7 1151 341.1 1154.6 345C1158.2 348.8 1161.8 354.5 1165.4 359.3C1169 364.1 1172.3 368.6 1176.1 373.7C1180 378.8 1184.2 384.5 1188.7 389.9C1193.2 395.2 1198.3 401.5 1203.1 406C1207.9 410.5 1214.2 414.3 1217.5 416.8C1220.8 419.3 1222 420.5 1222.9 421.3" stroke-width="2.7" stroke-opacity="0.7"/><linearGradient id="t63" gradientUnits="userSpaceOnUse" x1="1002.8" y1="422.2" x2="1140.2" y2="342.8"><stop offset="0" stop-color="#fff" stop-opacity="0.7"/><stop offset="0.03" stop-color="#fff" stop-opacity="0.7"/><stop offset="0.97" stop-color="#fff" stop-opacity="0.7"/><stop offset="1" stop-color="#fff" stop-opacity="0.56"/></linearGradient><path d="M1002.8 422.2C1003.3 421.3 1003.3 421 1005.5 416.8C1007.7 412.6 1012.7 403.6 1016.3 397C1019.9 390.5 1023.5 383 1027.1 377.3C1030.6 371.6 1034.5 366.2 1037.8 362.9C1041.1 359.6 1044.3 358.6 1046.8 357.5C1049.4 356.5 1050.4 355.7 1053.1 356.6C1055.8 357.5 1059.8 359.5 1063 362.9C1066.1 366.4 1069 371.9 1072 377.3C1075 382.7 1078.3 390.3 1080.9 395.2C1083.6 400.2 1086.1 404.5 1088.1 406.9C1090.1 409.3 1091.2 410.4 1093 409.6C1094.8 408.9 1096.7 406.3 1098.9 402.4C1101.1 398.5 1103.4 392.3 1106.1 386.3C1108.8 380.3 1112.1 372.2 1115.1 366.5C1118.1 360.8 1121.1 355.7 1124.1 352.1C1127 348.5 1130.3 346.5 1133 345C1135.7 343.4 1139 343.2 1140.2 342.8" stroke="url(#t63)" stroke-width="2.7" stroke-linecap="butt"/><path d="M1142 343.2C1143.5 345.3 1148 350.6 1151 355.7C1154 360.8 1157 367.1 1160 373.7C1163 380.3 1166 388.1 1169 395.2C1172 402.4 1176 412.3 1177.9 416.8C1179.9 421.3 1180.2 421.3 1180.6 422.2" stroke-width="1.5" stroke-opacity="0.38"/><linearGradient id="t65" gradientUnits="userSpaceOnUse" x1="1020.8" y1="421.3" x2="1049.5" y2="397"><stop offset="0" stop-color="#fff" stop-opacity="0.76"/><stop offset="0.08" stop-color="#fff" stop-opacity="0.76"/><stop offset="0.92" stop-color="#fff" stop-opacity="0.76"/><stop offset="1" stop-color="#fff" stop-opacity="0.46"/></linearGradient><path d="M1020.8 421.3C1021.2 420.5 1021.2 419.6 1023.5 416.8C1025.7 414 1030.6 407.4 1034.2 404.2C1037.8 401.1 1042.5 399.1 1045 397.9C1047.6 396.7 1048.8 397.2 1049.5 397" stroke="url(#t65)" stroke-width="1.9" stroke-linecap="butt"/><linearGradient id="t67" gradientUnits="userSpaceOnUse" x1="1055.8" y1="403.3" x2="1074.7" y2="420.4"><stop offset="0" stop-color="#fff" stop-opacity="0.23"/><stop offset="0.15" stop-color="#fff" stop-opacity="0.76"/><stop offset="0.85" stop-color="#fff" stop-opacity="0.76"/><stop offset="1" stop-color="#fff" stop-opacity="0.76"/></linearGradient><path d="M1055.8 403.3C1057.3 404.4 1062.1 407.4 1064.8 409.6C1067.5 411.9 1070.3 415 1072 416.8C1073.6 418.6 1074.2 419.8 1074.7 420.4" stroke="url(#t67)" stroke-width="1.9" stroke-linecap="butt"/><linearGradient id="t69" gradientUnits="userSpaceOnUse" x1="1046.8" y1="418.6" x2="1064.8" y2="411.8"><stop offset="0" stop-color="#fff" stop-opacity="0.57"/><stop offset="0.3" stop-color="#fff" stop-opacity="0.57"/><stop offset="0.7" stop-color="#fff" stop-opacity="0.57"/><stop offset="1" stop-color="#fff" stop-opacity="0"/></linearGradient><path d="M1046.8 418.6C1048.6 417.3 1054.6 411.7 1057.6 410.5C1060.6 409.4 1063.6 411.6 1064.8 411.8" stroke="url(#t69)" stroke-width="1.7" stroke-linecap="butt"/><linearGradient id="t71" gradientUnits="userSpaceOnUse" x1="1115.1" y1="409.6" x2="1154.6" y2="417.7"><stop offset="0" stop-color="#fff" stop-opacity="0"/><stop offset="0.3" stop-color="#fff" stop-opacity="0.34"/><stop offset="0.7" stop-color="#fff" stop-opacity="0.34"/><stop offset="1" stop-color="#fff" stop-opacity="0.21"/></linearGradient><path d="M1115.1 409.6C1116.3 408.4 1119.6 403.9 1122.3 402.4C1125 400.9 1128.2 400.3 1131.2 400.6C1134.2 400.9 1137.2 402.4 1140.2 404.2C1143.2 406 1146.8 409.2 1149.2 411.4C1151.6 413.7 1153.7 416.7 1154.6 417.7" stroke="url(#t71)" stroke-width="1.5" stroke-linecap="butt"/><linearGradient id="t73" gradientUnits="userSpaceOnUse" x1="1104.3" y1="418.6" x2="1114.2" y2="409.6"><stop offset="0" stop-color="#fff" stop-opacity="0.47"/><stop offset="0.3" stop-color="#fff" stop-opacity="0.47"/><stop offset="0.7" stop-color="#fff" stop-opacity="0.47"/><stop offset="1" stop-color="#fff" stop-opacity="0.14"/></linearGradient><path d="M1104.3 418.6C1105.2 417.7 1108 414.7 1109.7 413.2C1111.3 411.7 1113.4 410.2 1114.2 409.6" stroke="url(#t73)" stroke-width="1.7" stroke-linecap="butt"/></g></g></g>
<clipPath id="cpd"><rect x="1363" y="53.5" width="256" height="367.5"/></clipPath><g clip-path="url(#cpd)"><g filter="url(#cmV)"><rect x="1323" y="13.5" width="336" height="447.5" fill="#000"/><rect x="1333" y="23.5" width="316" height="427.5" fill="rgb(19,19,19)"/><filter id="db14" color-interpolation-filters="sRGB" filterUnits="userSpaceOnUse" x="1333" y="23.5" width="316" height="427.5"><feGaussianBlur stdDeviation="14"/></filter><g filter="url(#db14)" fill="none" stroke="#fff" stroke-linecap="round" stroke-linejoin="round"><path d="M1383.7 84.5C1388.7 74.4 1469.2 95.3 1490.7 95.3C1512.3 95.3 1594.1 74.4 1599.2 84.5C1604.3 94.6 1550 179.6 1541.7 195.8C1533.5 212 1514.4 233.9 1516.6 246.1C1518.7 258.3 1552.1 302.1 1563.3 317.9C1574.4 333.7 1621.4 392.6 1627.9 404.1C1634.4 415.6 1633.6 429.9 1627.9 432.8C1622.1 435.7 1584.2 443.6 1570.4 432.8C1556.7 422 1506.5 325.1 1490.7 325.1C1474.9 325.1 1426 422 1412.5 432.8C1398.9 443.6 1360.7 435.7 1355 432.8C1349.3 429.9 1348.5 415.6 1355 404.1C1361.5 392.6 1408.5 333.7 1419.6 317.9C1430.8 302.1 1464.2 258.3 1466.3 246.1C1468.5 233.9 1449.4 212 1441.2 195.8C1432.9 179.6 1378.8 94.6 1383.7 84.5Z" fill="#fff" fill-opacity="0.17" stroke="none"/></g><filter id="db12" color-interpolation-filters="sRGB" filterUnits="userSpaceOnUse" x="1333" y="23.5" width="316" height="427.5"><feGaussianBlur stdDeviation="12"/></filter><g filter="url(#db12)" fill="none" stroke="#fff" stroke-linecap="round" stroke-linejoin="round"><path d="M1490.7 274.8C1500.8 274.8 1530.2 317.2 1541.7 332.3C1553.3 347.3 1622.9 416.3 1606.3 425.6C1589.8 434.9 1393.1 434.9 1376.5 425.6C1360 416.3 1429.8 347.3 1441.2 332.3C1452.6 317.2 1480.7 274.8 1490.7 274.8Z" fill="#fff" fill-opacity="0.1" stroke="none"/></g><filter id="db9" color-interpolation-filters="sRGB" filterUnits="userSpaceOnUse" x="1333" y="23.5" width="316" height="427.5"><feGaussianBlur stdDeviation="9"/></filter><g filter="url(#db9)" fill="none" stroke="#fff" stroke-linecap="round" stroke-linejoin="round"><linearGradient id="g1" gradientUnits="userSpaceOnUse" x1="0" y1="80.9" x2="0" y2="224.5"><stop offset="0" stop-color="#fff" stop-opacity="0.32"/><stop offset="0.5" stop-color="#fff" stop-opacity="0.3"/><stop offset="1" stop-color="#fff" stop-opacity="0.1"/></linearGradient><path d="M1389.1 88.1C1395.4 95.9 1415.1 118 1426.8 134.8C1438.5 151.5 1450.2 173.7 1459.1 188.6C1468.1 203.6 1477.1 218.5 1480.7 224.5" stroke="url(#g1)" stroke-width="24"/><linearGradient id="g2" gradientUnits="userSpaceOnUse" x1="0" y1="80.9" x2="0" y2="224.5"><stop offset="0" stop-color="#fff" stop-opacity="0.38"/><stop offset="0.5" stop-color="#fff" stop-opacity="0.3"/><stop offset="1" stop-color="#fff" stop-opacity="0.1"/></linearGradient><path d="M1574 89.9C1569.2 97.4 1554.3 118.3 1545.3 134.8C1536.3 151.2 1528 173.7 1520.2 188.6C1512.4 203.6 1502.2 218.5 1498.6 224.5" stroke="url(#g2)" stroke-width="24"/><linearGradient id="g6" gradientUnits="userSpaceOnUse" x1="0" y1="247.9" x2="0" y2="407.7"><stop offset="0" stop-color="#fff" stop-opacity="0.62"/><stop offset="0.303" stop-color="#fff" stop-opacity="0.6"/><stop offset="0.483" stop-color="#fff" stop-opacity="0.4"/><stop offset="0.708" stop-color="#fff" stop-opacity="0.22"/><stop offset="1" stop-color="#fff" stop-opacity="0.12"/></linearGradient><path d="M1490.7 247.9C1487.9 253 1479.1 269.6 1473.5 278.4C1467.9 287.2 1464.2 292.6 1457.3 300.7C1450.5 308.7 1440.9 318 1432.2 326.9C1423.5 335.7 1414.5 343.9 1405.3 353.8C1396 363.7 1384.9 377.1 1376.5 386.1C1368.2 395.1 1358.6 404.1 1355 407.7" stroke="url(#g6)" stroke-width="24"/><linearGradient id="g7" gradientUnits="userSpaceOnUse" x1="0" y1="247.9" x2="0" y2="411.2"><stop offset="0" stop-color="#fff" stop-opacity="0.62"/><stop offset="0.297" stop-color="#fff" stop-opacity="0.6"/><stop offset="0.473" stop-color="#fff" stop-opacity="0.4"/><stop offset="0.692" stop-color="#fff" stop-opacity="0.24"/><stop offset="1" stop-color="#fff" stop-opacity="0.14"/></linearGradient><path d="M1490.7 247.9C1493.5 253 1502.1 269.6 1507.6 278.4C1513.1 287.2 1517.5 292.3 1523.8 300.7C1530 309 1537.5 319.2 1545.3 328.7C1553.1 338.1 1561.5 347.2 1570.4 357.4C1579.4 367.6 1590.8 380.7 1599.2 389.7C1607.5 398.7 1617.1 407.7 1620.7 411.2" stroke="url(#g7)" stroke-width="24"/></g><filter id="db8" color-interpolation-filters="sRGB" filterUnits="userSpaceOnUse" x="1333" y="23.5" width="316" height="427.5"><feGaussianBlur stdDeviation="8"/></filter><g filter="url(#db8)" fill="none" stroke="#fff" stroke-linecap="round" stroke-linejoin="round"><path d="M1408.9 91.7C1418.9 82 1560 82 1570.4 91.7C1580.9 101.4 1521 176.4 1513 188.6C1505 200.8 1495 213.8 1490.7 213.8C1486.4 213.8 1478.1 200.8 1469.9 188.6C1461.7 176.4 1398.8 101.4 1408.9 91.7Z" fill="#fff" fill-opacity="0.16" stroke="none"/></g><filter id="db7" color-interpolation-filters="sRGB" filterUnits="userSpaceOnUse" x="1333" y="23.5" width="316" height="427.5"><feGaussianBlur stdDeviation="7"/></filter><g filter="url(#db7)" fill="none" stroke="#fff" stroke-linecap="round" stroke-linejoin="round"><ellipse cx="1566.8" cy="97.1" rx="14.4" ry="12.6" fill="#fff" fill-opacity="0.14" stroke="none"/></g><filter id="db6" color-interpolation-filters="sRGB" filterUnits="userSpaceOnUse" x="1333" y="23.5" width="316" height="427.5"><feGaussianBlur stdDeviation="6"/></filter><g filter="url(#db6)" fill="none" stroke="#fff" stroke-linecap="round" stroke-linejoin="round"><ellipse cx="1401.7" cy="89.9" rx="14.4" ry="10.8" fill="#fff" fill-opacity="0.1" stroke="none"/><path d="M1490.7 246.1C1495.8 246.1 1516.6 287 1516.6 292.8C1516.6 298.5 1495.8 303.5 1490.7 303.5C1485.7 303.5 1466.3 298.5 1466.3 292.8C1466.3 287 1485.7 246.1 1490.7 246.1Z" fill="#fff" fill-opacity="0.42" stroke="none"/></g><filter id="db5_5" color-interpolation-filters="sRGB" filterUnits="userSpaceOnUse" x="1333" y="23.5" width="316" height="427.5"><feGaussianBlur stdDeviation="5.5"/></filter><g filter="url(#db5_5)" fill="none" stroke="#fff" stroke-linecap="round" stroke-linejoin="round"><linearGradient id="g3" gradientUnits="userSpaceOnUse" x1="0" y1="80.9" x2="0" y2="217.4"><stop offset="0" stop-color="#fff" stop-opacity="0.34"/><stop offset="0.263" stop-color="#fff" stop-opacity="0.5"/><stop offset="0.526" stop-color="#fff" stop-opacity="0.74"/><stop offset="0.789" stop-color="#fff" stop-opacity="0.88"/><stop offset="1" stop-color="#fff" stop-opacity="0.88"/></linearGradient><path d="M1459.1 82.7C1460.3 89.6 1463.6 109.9 1466.3 124C1469 138.1 1472.3 154.5 1475.3 167.1C1478.3 179.6 1481.7 191.1 1484.3 199.4C1486.8 207.7 1489.6 213.8 1490.7 216.6" stroke="url(#g3)" stroke-width="13"/><linearGradient id="g4" gradientUnits="userSpaceOnUse" x1="0" y1="80.9" x2="0" y2="217.4"><stop offset="0" stop-color="#fff" stop-opacity="0.34"/><stop offset="0.263" stop-color="#fff" stop-opacity="0.5"/><stop offset="0.526" stop-color="#fff" stop-opacity="0.74"/><stop offset="0.789" stop-color="#fff" stop-opacity="0.88"/><stop offset="1" stop-color="#fff" stop-opacity="0.88"/></linearGradient><path d="M1523.8 84.5C1522.6 91.1 1519.3 110.2 1516.6 124C1513.9 137.8 1510.6 154.5 1507.6 167.1C1504.6 179.6 1501.4 191.1 1498.6 199.4C1495.8 207.7 1492 213.8 1490.7 216.6" stroke="url(#g4)" stroke-width="13"/></g><filter id="db5" color-interpolation-filters="sRGB" filterUnits="userSpaceOnUse" x="1333" y="23.5" width="316" height="427.5"><feGaussianBlur stdDeviation="5"/></filter><g filter="url(#db5)" fill="none" stroke="#fff" stroke-linecap="round" stroke-linejoin="round"><path d="M1340 40H1640V76H1340z" fill="#000" fill-opacity="0.45" stroke="none"/></g><filter id="db4" color-interpolation-filters="sRGB" filterUnits="userSpaceOnUse" x="1333" y="23.5" width="316" height="427.5"><feGaussianBlur stdDeviation="4"/></filter><g filter="url(#db4)" fill="none" stroke="#fff" stroke-linecap="round" stroke-linejoin="round"><ellipse cx="1490" cy="204.8" rx="7.2" ry="12.9" fill="#fff" fill-opacity="0.5" stroke="none"/><linearGradient id="g5" gradientUnits="userSpaceOnUse" x1="0" y1="217.4" x2="0" y2="253.3"><stop offset="0" stop-color="#fff" stop-opacity="0.6"/><stop offset="0.5" stop-color="#fff" stop-opacity="0.5"/><stop offset="1" stop-color="#fff" stop-opacity="0.55"/></linearGradient><path d="M1490.7 217.4C1490.7 219.7 1490.7 225.7 1490.7 231.7C1490.7 237.7 1490.7 249.7 1490.7 253.3" stroke="url(#g5)" stroke-width="10"/></g><filter id="nz3" x="0" y="0" width="1" height="1" color-interpolation-filters="sRGB"><feTurbulence type="fractalNoise" baseFrequency="0.15 0.22" numOctaves="3" seed="3"/><feColorMatrix type="matrix" values="0 0 0 0 1  0 0 0 0 1  0 0 0 0 1  0.21 0 0 0 -0.105"/><feGaussianBlur stdDeviation="0.7"/></filter><filter id="nz3d" x="0" y="0" width="1" height="1" color-interpolation-filters="sRGB"><feTurbulence type="fractalNoise" baseFrequency="0.15 0.22" numOctaves="3" seed="10"/><feColorMatrix type="matrix" values="0 0 0 0 0  0 0 0 0 0  0 0 0 0 0  0.21 0 0 0 -0.105"/><feGaussianBlur stdDeviation="0.7"/></filter><rect x="1363" y="53.5" width="256" height="367.5" filter="url(#nz3)"/><rect x="1363" y="53.5" width="256" height="367.5" filter="url(#nz3d)"/></g></g>
<clipPath id="cpe"><rect x="1761.5" y="53.5" width="257.5" height="365.1"/></clipPath><g clip-path="url(#cpe)"><g filter="url(#cmV)"><rect x="1721.5" y="13.5" width="337.5" height="445.1" fill="#000"/><rect x="1731.5" y="23.5" width="317.5" height="425.1" fill="rgb(22,22,22)"/><filter id="eb14" color-interpolation-filters="sRGB" filterUnits="userSpaceOnUse" x="1731.5" y="23.5" width="317.5" height="425.1"><feGaussianBlur stdDeviation="14"/></filter><g filter="url(#eb14)" fill="none" stroke="#fff" stroke-linecap="round" stroke-linejoin="round"><path d="M1806.9 88.1C1810.5 78 1878.3 95.3 1896.6 95.3C1914.9 95.3 1986.4 78 1990 88.1C1993.6 98.1 1940.1 180.7 1932.5 195.8C1925 210.9 1913.1 226 1914.6 238.9C1916 251.8 1939.4 306.4 1946.9 325.1C1954.4 343.7 2004.3 415.6 1990 425.6C1975.6 435.7 1817.6 435.7 1803.3 425.6C1788.9 415.6 1838.8 343.7 1846.4 325.1C1853.9 306.4 1877.2 251.8 1878.7 238.9C1880.1 226 1867.9 210.9 1860.7 195.8C1853.5 180.7 1803.3 98.1 1806.9 88.1Z" fill="#fff" fill-opacity="0.1" stroke="none"/></g><filter id="eb8" color-interpolation-filters="sRGB" filterUnits="userSpaceOnUse" x="1731.5" y="23.5" width="317.5" height="425.1"><feGaussianBlur stdDeviation="8"/></filter><g filter="url(#eb8)" fill="none" stroke="#fff" stroke-linecap="round" stroke-linejoin="round"><path d="M1796.1 86.3C1799.7 81.6 1856.1 81.4 1864.3 88.1C1872.6 94.7 1875.8 140.2 1878.7 152.7C1881.5 165.3 1894.8 210.9 1893 213.8C1891.2 216.6 1867.2 189.3 1860.7 181.4C1854.3 173.5 1834.9 144.3 1828.4 134.8C1821.9 125.3 1792.5 91 1796.1 86.3Z" fill="#fff" fill-opacity="0.19" stroke="none"/><path d="M2000.8 88.1C1997.3 83.4 1939.2 81.6 1930.7 88.1C1922.3 94.6 1919.4 140.2 1916.4 152.7C1913.3 165.3 1898.6 210.9 1900.2 213.8C1901.8 216.6 1926.1 189.3 1932.5 181.4C1939 173.5 1958 144.1 1964.8 134.8C1971.7 125.4 2004.2 92.8 2000.8 88.1Z" fill="#fff" fill-opacity="0.19" stroke="none"/></g><filter id="eb4_8" color-interpolation-filters="sRGB" filterUnits="userSpaceOnUse" x="1731.5" y="23.5" width="317.5" height="425.1"><feGaussianBlur stdDeviation="4.8"/></filter><g filter="url(#eb4_8)" fill="none" stroke="#fff" stroke-linecap="round" stroke-linejoin="round"><linearGradient id="g10" gradientUnits="userSpaceOnUse" x1="0" y1="240.7" x2="0" y2="418.4"><stop offset="0" stop-color="#fff" stop-opacity="0.86"/><stop offset="0.354" stop-color="#fff" stop-opacity="0.82"/><stop offset="0.556" stop-color="#fff" stop-opacity="0.55"/><stop offset="0.758" stop-color="#fff" stop-opacity="0.32"/><stop offset="1" stop-color="#fff" stop-opacity="0.16"/></linearGradient><path d="M1896.6 240.7C1893.6 247 1884.7 267.9 1878.7 278.4C1872.7 288.9 1866.7 294.6 1860.7 303.5C1854.7 312.5 1848.8 322.1 1842.8 332.3C1836.8 342.4 1830.8 353.8 1824.8 364.6C1818.8 375.3 1811.6 387.9 1806.9 396.9C1802.1 405.9 1797.9 414.8 1796.1 418.4" stroke="url(#g10)" stroke-width="13"/><linearGradient id="g11" gradientUnits="userSpaceOnUse" x1="0" y1="240.7" x2="0" y2="418.4"><stop offset="0" stop-color="#fff" stop-opacity="0.86"/><stop offset="0.354" stop-color="#fff" stop-opacity="0.82"/><stop offset="0.556" stop-color="#fff" stop-opacity="0.55"/><stop offset="0.758" stop-color="#fff" stop-opacity="0.32"/><stop offset="1" stop-color="#fff" stop-opacity="0.16"/></linearGradient><path d="M1896.6 240.7C1899 247 1906.2 267.9 1911 278.4C1915.8 288.9 1920.6 294.6 1925.4 303.5C1930.1 312.5 1934.9 322.7 1939.7 332.3C1944.5 341.8 1949.3 350.8 1954.1 361C1958.9 371.2 1964.3 383.7 1968.4 393.3C1972.6 402.9 1977.4 414.2 1979.2 418.4" stroke="url(#g11)" stroke-width="13"/></g><filter id="eb4_5" color-interpolation-filters="sRGB" filterUnits="userSpaceOnUse" x="1731.5" y="23.5" width="317.5" height="425.1"><feGaussianBlur stdDeviation="4.5"/></filter><g filter="url(#eb4_5)" fill="none" stroke="#fff" stroke-linecap="round" stroke-linejoin="round"><linearGradient id="g8" gradientUnits="userSpaceOnUse" x1="0" y1="88.1" x2="0" y2="235.3"><stop offset="0" stop-color="#fff" stop-opacity="0.36"/><stop offset="0.244" stop-color="#fff" stop-opacity="0.56"/><stop offset="0.488" stop-color="#fff" stop-opacity="0.78"/><stop offset="1" stop-color="#fff" stop-opacity="0.86"/></linearGradient><path d="M1860.7 89.9C1862.5 98 1867.9 123.1 1871.5 138.4C1875.1 153.6 1879 169.5 1882.3 181.4C1885.6 193.4 1888.8 201.2 1891.2 210.2C1893.6 219.1 1895.7 231.1 1896.6 235.3" stroke="url(#g8)" stroke-width="12"/><linearGradient id="g9" gradientUnits="userSpaceOnUse" x1="0" y1="88.1" x2="0" y2="235.3"><stop offset="0" stop-color="#fff" stop-opacity="0.36"/><stop offset="0.244" stop-color="#fff" stop-opacity="0.56"/><stop offset="0.488" stop-color="#fff" stop-opacity="0.78"/><stop offset="1" stop-color="#fff" stop-opacity="0.86"/></linearGradient><path d="M1932.5 89.9C1930.7 98 1925.4 123.1 1921.8 138.4C1918.2 153.6 1914.3 169.5 1911 181.4C1907.7 193.4 1904.4 201.2 1902 210.2C1899.6 219.1 1897.5 231.1 1896.6 235.3" stroke="url(#g9)" stroke-width="12"/></g><filter id="eb3" color-interpolation-filters="sRGB" filterUnits="userSpaceOnUse" x="1731.5" y="23.5" width="317.5" height="425.1"><feGaussianBlur stdDeviation="3"/></filter><g filter="url(#eb3)" fill="none" stroke="#fff" stroke-linecap="round" stroke-linejoin="round"><ellipse cx="1896.6" cy="255.1" rx="6.5" ry="10.8" fill="#fff" fill-opacity="0.6" stroke="none"/></g><filter id="nz11" x="0" y="0" width="1" height="1" color-interpolation-filters="sRGB"><feTurbulence type="fractalNoise" baseFrequency="0.17 0.24" numOctaves="3" seed="11"/><feColorMatrix type="matrix" values="0 0 0 0 1  0 0 0 0 1  0 0 0 0 1  0.6 0 0 0 -0.3"/><feGaussianBlur stdDeviation="0.7"/></filter><filter id="nz11d" x="0" y="0" width="1" height="1" color-interpolation-filters="sRGB"><feTurbulence type="fractalNoise" baseFrequency="0.17 0.24" numOctaves="3" seed="18"/><feColorMatrix type="matrix" values="0 0 0 0 0  0 0 0 0 0  0 0 0 0 0  0.6 0 0 0 -0.3"/><feGaussianBlur stdDeviation="0.7"/></filter><rect x="1761.5" y="53.5" width="257.5" height="365.1" filter="url(#nz11)"/><rect x="1761.5" y="53.5" width="257.5" height="365.1" filter="url(#nz11d)"/></g></g>
<clipPath id="cpf"><rect x="166.4" y="601.7" width="258.1" height="364.9"/></clipPath><g clip-path="url(#cpf)"><g filter="url(#cmB)"><rect x="126.4" y="561.7" width="338.1" height="444.9" fill="#000"/><filter id="fb36" color-interpolation-filters="sRGB" filterUnits="userSpaceOnUse" x="136.4" y="571.7" width="318.1" height="424.9"><feGaussianBlur stdDeviation="36"/></filter><g filter="url(#fb36)" fill="none" stroke="#fff" stroke-linecap="round" stroke-linejoin="round"><path d="M194.1 586.2C176.9 592.1 214.8 634.9 219.3 645.5C223.8 656.1 235.1 682.9 239 692.2C243 701.5 254.8 729.4 258.8 738.9C262.7 748.4 275.9 779.7 278.6 787C281.3 794.4 286.8 807.7 285.7 812.6C284.7 817.4 271.9 831.4 267.8 835.9C263.6 840.4 249.1 850.8 244.4 857.5C239.8 864.1 226.6 893.7 221.1 902.4C215.5 911 195.6 936.9 188.7 943.7C181.9 950.5 128 967.9 152.8 970.6C177.6 973.3 411.7 973.3 436.6 970.6C461.6 967.9 409.1 950.5 402.5 943.7C395.9 936.9 375.7 911 370.2 902.4C364.6 893.7 351.5 864.1 346.8 857.5C342.1 850.8 327.5 840.4 323.5 835.9C319.4 831.4 307.6 817.4 306.4 812.6C305.2 807.7 309.4 794.6 311.8 787C314.2 779.5 327 746.6 330.6 737.1C334.3 727.6 345 701.4 348.6 692.2C352.2 683 362.3 656.1 366.6 645.5C370.9 634.9 409 592.1 391.7 586.2C374.5 580.3 211.4 580.3 194.1 586.2Z" fill="#fff" fill-opacity="0.22" stroke="none"/></g><filter id="fb20" color-interpolation-filters="sRGB" filterUnits="userSpaceOnUse" x="136.4" y="571.7" width="318.1" height="424.9"><feGaussianBlur stdDeviation="20"/></filter><g filter="url(#fb20)" fill="none" stroke="#fff" stroke-linecap="round" stroke-linejoin="round"><path d="M194.1 586.2C176.9 592.1 214.8 634.9 219.3 645.5C223.8 656.1 235.1 682.9 239 692.2C243 701.5 254.8 729.4 258.8 738.9C262.7 748.4 275.9 779.7 278.6 787C281.3 794.4 286.8 807.7 285.7 812.6C284.7 817.4 271.9 831.4 267.8 835.9C263.6 840.4 249.1 850.8 244.4 857.5C239.8 864.1 226.6 893.7 221.1 902.4C215.5 911 195.6 936.9 188.7 943.7C181.9 950.5 128 967.9 152.8 970.6C177.6 973.3 411.7 973.3 436.6 970.6C461.6 967.9 409.1 950.5 402.5 943.7C395.9 936.9 375.7 911 370.2 902.4C364.6 893.7 351.5 864.1 346.8 857.5C342.1 850.8 327.5 840.4 323.5 835.9C319.4 831.4 307.6 817.4 306.4 812.6C305.2 807.7 309.4 794.6 311.8 787C314.2 779.5 327 746.6 330.6 737.1C334.3 727.6 345 701.4 348.6 692.2C352.2 683 362.3 656.1 366.6 645.5C370.9 634.9 409 592.1 391.7 586.2C374.5 580.3 211.4 580.3 194.1 586.2Z" fill="#fff" fill-opacity="0.22" stroke="none"/></g><filter id="fb8" color-interpolation-filters="sRGB" filterUnits="userSpaceOnUse" x="136.4" y="571.7" width="318.1" height="424.9"><feGaussianBlur stdDeviation="8"/></filter><g filter="url(#fb8)" fill="none" stroke="#fff" stroke-linecap="round" stroke-linejoin="round"><path d="M195.9 589.8C196.7 591.8 196.5 592.2 200.4 601.5C204.3 610.8 212.8 630.4 219.3 645.5C225.7 660.6 232.5 676.6 239 692.2C245.6 707.8 252.8 724.8 258.8 738.9C264.8 753 271.1 768.2 275 777C278.9 785.7 279.8 787.2 282.1 791.4C284.5 795.6 287 799.6 289.3 802.1C291.6 804.7 293.7 806.6 296 806.6C298.3 806.6 300.8 804.7 303.2 802.1C305.5 799.6 307.8 795.6 310 791.4C312.2 787.2 312.8 786 316.3 777C319.7 767.9 325.3 751.2 330.6 737.1C336 723 342.6 707.5 348.6 692.2C354.6 676.9 360.3 660.6 366.6 645.5C372.9 630.4 382.3 610.8 386.3 601.5C390.4 592.2 390.1 591.8 390.8 589.8" stroke-width="24" stroke-opacity="0.1"/><path d="M207.1 601.5C210.3 608.8 219.9 631.9 226.5 645.5C233 659.1 239.9 673.3 246.2 683.2C252.5 693.1 258.2 699.4 264.2 704.8C270.2 710.2 276.8 713.3 282.1 715.6C287.5 717.8 291.4 718.2 296.5 718.1C301.6 717.9 307.3 716.9 312.7 714.7C318.1 712.4 323.2 710.3 328.9 704.8C334.5 699.2 340.5 691.6 346.8 681.4C353.1 671.2 360.4 657 366.6 643.7C372.7 630.4 380.8 608.5 383.6 601.5" stroke-width="24" stroke-opacity="0.1"/><path d="M234.5 601.5C236.5 607.3 242.2 625.3 246.2 636.5C250.3 647.7 254.6 659.9 258.8 668.9C263 677.8 267.2 684.7 271.4 690.4C275.6 696.1 279.8 700.2 283.9 703C288.1 705.7 292.3 707.1 296.5 706.9C300.7 706.8 304.9 705.1 309.1 702.1C313.3 699 317.5 694.4 321.7 688.6C325.9 682.8 330 676.3 334.2 667.1C338.4 657.8 342.9 643.9 346.8 632.9C350.7 622 355.8 606.7 357.6 601.5" stroke-width="24" stroke-opacity="0.1"/><path d="M248 601.5C249.5 604.9 253.7 615.4 257 622.1C260.3 628.9 263.9 636.1 267.8 641.9C271.7 647.7 275.6 653.3 280.4 657.2C285.1 661.1 290.8 665.1 296.5 665.3C302.2 665.4 309.1 661.7 314.5 658.1C319.9 654.5 325.1 649.4 328.9 643.7C332.6 638 334.7 631 336.9 623.9C339.2 616.9 341.4 605.2 342.3 601.5" stroke-width="20" stroke-opacity="0.09"/><path d="M296 806.6C297.3 806.6 301.9 819.5 301.9 823.7C301.9 827.9 297.3 842.6 296 842.6C294.6 842.6 290.2 827.9 290.2 823.7C290.2 819.5 294.6 806.6 296 806.6Z" fill="#fff" fill-opacity="0.25" stroke="none"/><path d="M160 968.3C161.2 967.5 162.7 966.6 167.2 963.8C171.7 961 181 955.7 186.9 951.2C192.9 946.7 198.3 942.2 203.1 936.9C207.9 931.5 211.5 925.8 215.7 918.9C219.9 912 224.4 902.7 228.3 895.5C232.2 888.4 235.4 881.5 239 875.8C242.6 870.1 246.2 865 249.8 861.4C253.4 857.8 257 856 260.6 854.2C264.2 852.4 267.5 852 271.4 850.6C275.3 849.3 279.8 847.5 283.9 846.1C288 844.8 291.8 842.6 296 842.6C300.2 842.6 304.8 844.9 309.1 846.1C313.4 847.3 317.8 848.4 321.7 849.7C325.6 851.1 328.9 852 332.4 854.2C336 856.5 339.6 859.3 343.2 863.2C346.8 867.1 350.7 872.5 354 877.6C357.3 882.7 359.7 888.1 363 893.7C366.3 899.4 370.2 906 373.8 911.7C377.4 917.4 380.6 922.8 384.5 927.9C388.4 933 392.6 937.8 397.1 942.2C401.6 946.7 407 951.2 411.5 954.8C416 958.4 420.8 961.6 424.1 963.8C427.3 966 430 967.5 431.2 968.3" stroke-width="24" stroke-opacity="0.1"/><path d="M183.4 971C184 970.1 184 970.4 186.9 965.6C189.9 960.8 196.8 950 201.3 942.2C205.8 934.5 209.7 926.7 213.9 918.9C218.1 911.1 222.6 902.4 226.5 895.5C230.4 888.7 233.6 882.8 237.2 877.6C240.8 872.3 244.6 867 248 864.1C251.5 861.2 254 859.8 257.9 860C261.8 860.1 267 863.1 271.4 865C275.7 866.9 279.8 869.9 283.9 871.3C288 872.7 291.8 873.1 296 873.5C300.2 873.8 304.8 873.3 309.1 873.5C313.4 873.6 317.8 873.4 321.7 874.3C325.6 875.3 329.5 877.6 332.4 879.4C335.4 881.1 336.9 882.1 339.6 884.8C342.3 887.5 345.3 890.5 348.6 895.5C351.9 900.6 355.8 908.1 359.4 915.3C363 922.5 366.6 930.6 370.2 938.7C373.8 946.7 378.7 958.6 380.9 963.8C383.2 969 383.2 969 383.6 970.1" stroke-width="22" stroke-opacity="0.09"/><path d="M205.8 971C206.3 970.1 206 971 208.5 965.6C211 960.2 217.2 947 221.1 938.7C225 930.3 228.3 922.5 231.9 915.3C235.4 908.1 239.3 900.6 242.6 895.5C245.9 890.5 248.9 887 251.6 884.8C254.3 882.5 255.8 881.8 258.8 882.1C261.8 882.4 265.7 884 269.6 886.6C273.5 889.1 277.7 894.6 282.1 897.3C286.5 900.1 291.5 903.1 296 903.1C300.5 903.1 305.1 899.9 309.1 897.3C313.1 894.7 316.3 890 319.9 887.5C323.5 884.9 327.4 882.5 330.6 882.1C333.9 881.7 336.3 882.3 339.6 885.1C342.9 888 346.8 893.2 350.4 899.1C354 905.1 357.6 913.2 361.2 920.7C364.8 928.2 369 936.9 372 944C375 951.2 377.5 959.5 379.1 963.8C380.8 968.1 381.4 969 381.8 970.1" stroke-width="22" stroke-opacity="0.09"/><path d="M231 969.2C231.4 968.3 231.9 966.5 233.6 963.8C235.4 961.1 238.9 955.7 241.7 953C244.6 950.3 247.9 948.7 250.7 947.6C253.6 946.6 256.1 946.1 258.8 946.7C261.5 947.3 264.2 948.4 266.9 951.2C269.6 954.1 273.2 960.8 275 963.8C276.8 966.8 277.2 968.3 277.7 969.2" stroke-width="20" stroke-opacity="0.09"/><path d="M308.2 969.2C308.6 968.3 309.1 966.5 310.9 963.8C312.7 961.1 316.1 955.7 319 953C321.8 950.3 325.1 948.7 328 947.6C330.8 946.6 333.3 946.1 336 946.7C338.7 947.3 341.4 948.4 344.1 951.2C346.8 954.1 350.4 960.8 352.2 963.8C354 966.8 354.4 968.3 354.9 969.2" stroke-width="20" stroke-opacity="0.09"/></g><filter id="fb3" color-interpolation-filters="sRGB" filterUnits="userSpaceOnUse" x="136.4" y="571.7" width="318.1" height="424.9"><feGaussianBlur stdDeviation="3"/></filter><g filter="url(#fb3)" fill="none" stroke="#fff" stroke-linecap="round" stroke-linejoin="round"><path d="M246.2 597C248 601.2 253.4 614.7 257 622.1C260.6 629.6 263.9 636.4 267.8 641.9C271.7 647.4 278.3 653.1 280.4 655.4" stroke-width="9" stroke-opacity="0.4"/><path d="M345.9 597C345.2 601.5 344.3 616.2 341.4 623.9C338.6 631.7 333 638.5 328.9 643.7C324.7 648.9 318.4 653.4 316.3 655.4" stroke-width="9" stroke-opacity="0.4"/></g><filter id="fb2_2" color-interpolation-filters="sRGB" filterUnits="userSpaceOnUse" x="136.4" y="571.7" width="318.1" height="424.9"><feGaussianBlur stdDeviation="2.2"/></filter><g filter="url(#fb2_2)" fill="none" stroke="#fff" stroke-linecap="round" stroke-linejoin="round"><path d="M268.7 715.6C266.2 718.5 275.1 727.5 277.7 731.7C280.2 735.9 285 744 287.5 747C290.1 750 294.1 754.4 296.5 754.4C298.9 754.4 303 750 305.5 747C308 744 312.9 735.9 315.4 731.7C317.9 727.5 326.9 718.5 324.4 715.6C321.8 712.6 303.9 709.3 296.5 709.3C289.1 709.3 271.2 712.6 268.7 715.6Z" fill="#fff" fill-opacity="0.46" stroke="none"/></g><filter id="fb2" color-interpolation-filters="sRGB" filterUnits="userSpaceOnUse" x="136.4" y="571.7" width="318.1" height="424.9"><feGaussianBlur stdDeviation="2"/></filter><g filter="url(#fb2)" fill="none" stroke="#fff" stroke-linecap="round" stroke-linejoin="round"><path d="M244.4 589.8C229.2 595.2 253.1 613.5 257 622.1C260.9 630.8 263.9 636.1 267.8 641.9C271.7 647.7 275.6 653.2 280.4 657.2C285.1 661.1 290.8 665.5 296.5 665.6C302.2 665.8 309.1 661.7 314.5 658.1C319.9 654.4 324.4 649.4 328.9 643.7C333.3 638 338.1 632.9 341.4 623.9C344.7 615 364.8 595.5 348.6 589.8C332.4 584.1 259.7 584.4 244.4 589.8Z" fill="#fff" fill-opacity="0.36" stroke="none"/><path d="M260.6 854.2C260.6 853.3 268.6 851.6 271.4 850.6C274.1 849.7 281.1 847.1 283.9 846.1C286.8 845.2 293 842.6 296 842.6C298.9 842.6 306.1 845.3 309.1 846.1C312.1 847 318.9 848.8 321.7 849.7C324.4 850.7 332.4 853.2 332.4 854.2C332.4 855.3 325.9 858.5 321.7 858.7C317.4 858.9 301.8 856 296 856C290.1 856 275.5 858.9 271.4 858.7C267.2 858.5 260.6 855.2 260.6 854.2Z" fill="#fff" fill-opacity="0.4" stroke="none"/><path d="M231 969.2C231.4 968.3 231.9 966.5 233.6 963.8C235.4 961.1 238.9 955.7 241.7 953C244.6 950.3 247.9 948.7 250.7 947.6C253.6 946.6 256.1 946.1 258.8 946.7C261.5 947.3 264.2 948.4 266.9 951.2C269.6 954.1 273.2 960.8 275 963.8C276.8 966.8 277.2 968.3 277.7 969.2" stroke-width="8" stroke-opacity="0.6"/><path d="M239 969.2C240.4 967.1 244.3 959.3 247.1 956.6C250 953.9 253.1 952.9 256.1 953C259.1 953.2 262.5 955 265.1 957.5C267.6 960.1 270.3 966.5 271.4 968.3" stroke-width="5" stroke-opacity="0.4"/><path d="M247.1 968.3C248.6 966.9 253.1 960.4 256.1 960.2C259.1 960.1 263.6 966.2 265.1 967.4" stroke-width="5" stroke-opacity="0.4"/><path d="M308.2 969.2C308.6 968.3 309.1 966.5 310.9 963.8C312.7 961.1 316.1 955.7 319 953C321.8 950.3 325.1 948.7 328 947.6C330.8 946.6 333.3 946.1 336 946.7C338.7 947.3 341.4 948.4 344.1 951.2C346.8 954.1 350.4 960.8 352.2 963.8C354 966.8 354.4 968.3 354.9 969.2" stroke-width="8" stroke-opacity="0.6"/><path d="M316.3 969.2C317.6 967.1 321.5 959.3 324.4 956.6C327.2 953.9 330.3 952.9 333.3 953C336.3 953.2 339.8 955 342.3 957.5C344.9 960.1 347.6 966.5 348.6 968.3" stroke-width="5" stroke-opacity="0.4"/><path d="M324.4 968.3C325.9 966.9 330.3 960.4 333.3 960.2C336.3 960.1 340.8 966.2 342.3 967.4" stroke-width="5" stroke-opacity="0.4"/></g><filter id="fb1_6" color-interpolation-filters="sRGB" filterUnits="userSpaceOnUse" x="136.4" y="571.7" width="318.1" height="424.9"><feGaussianBlur stdDeviation="1.6"/></filter><g filter="url(#fb1_6)" fill="none" stroke="#fff" stroke-linecap="round" stroke-linejoin="round"><linearGradient id="t75" gradientUnits="userSpaceOnUse" x1="264.2" y1="712" x2="327.1" y2="712"><stop offset="0" stop-color="#fff" stop-opacity="0"/><stop offset="0.3" stop-color="#fff" stop-opacity="0.36"/><stop offset="0.7" stop-color="#fff" stop-opacity="0.36"/><stop offset="1" stop-color="#fff" stop-opacity="0"/></linearGradient><path d="M264.2 712C267.2 713.5 276.8 719.1 282.1 720.9C287.5 722.7 291.4 722.8 296.5 722.7C301.6 722.7 307.6 722.4 312.7 720.6C317.8 718.8 324.7 713.4 327.1 712" stroke="url(#t75)" stroke-width="4.4" stroke-linecap="butt"/><linearGradient id="t77" gradientUnits="userSpaceOnUse" x1="346.8" y1="676" x2="380" y2="601.5"><stop offset="0" stop-color="#fff" stop-opacity="0"/><stop offset="0.4" stop-color="#fff" stop-opacity="0.36"/><stop offset="0.6" stop-color="#fff" stop-opacity="0.36"/><stop offset="1" stop-color="#fff" stop-opacity="0.36"/></linearGradient><path d="M346.8 676C349.5 670.6 357.4 656.1 363 643.7C368.5 631.3 377.2 608.5 380 601.5" stroke="url(#t77)" stroke-width="4" stroke-linecap="butt"/><linearGradient id="t79" gradientUnits="userSpaceOnUse" x1="321.7" y1="685" x2="353.1" y2="601.5"><stop offset="0" stop-color="#fff" stop-opacity="0"/><stop offset="0.4" stop-color="#fff" stop-opacity="0.36"/><stop offset="0.6" stop-color="#fff" stop-opacity="0.36"/><stop offset="1" stop-color="#fff" stop-opacity="0.36"/></linearGradient><path d="M321.7 685C323.5 681.7 328.9 673.9 332.4 665.3C336 656.6 339.8 643.6 343.2 632.9C346.7 622.3 351.5 606.7 353.1 601.5" stroke="url(#t79)" stroke-width="4" stroke-linecap="butt"/></g><filter id="fb1_5" color-interpolation-filters="sRGB" filterUnits="userSpaceOnUse" x="136.4" y="571.7" width="318.1" height="424.9"><feGaussianBlur stdDeviation="1.5"/></filter><g filter="url(#fb1_5)" fill="none" stroke="#fff" stroke-linecap="round" stroke-linejoin="round"><path d="M195.9 589.8C196.7 591.8 196.5 592.2 200.4 601.5C204.3 610.8 212.8 630.4 219.3 645.5C225.7 660.6 232.5 676.6 239 692.2C245.6 707.8 252.8 724.8 258.8 738.9C264.8 753 271.1 768.2 275 777C278.9 785.7 279.8 787.2 282.1 791.4C284.5 795.6 287 799.6 289.3 802.1C291.6 804.7 293.7 806.6 296 806.6C298.3 806.6 300.8 804.7 303.2 802.1C305.5 799.6 307.8 795.6 310 791.4C312.2 787.2 312.8 786 316.3 777C319.7 767.9 325.3 751.2 330.6 737.1C336 723 342.6 707.5 348.6 692.2C354.6 676.9 360.3 660.6 366.6 645.5C372.9 630.4 382.3 610.8 386.3 601.5C390.4 592.2 390.1 591.8 390.8 589.8" stroke-width="4" stroke-opacity="0.3"/><path d="M207.1 601.5C210.3 608.8 219.9 631.9 226.5 645.5C233 659.1 239.9 673.3 246.2 683.2C252.5 693.1 258.2 699.4 264.2 704.8C270.2 710.2 276.8 713.3 282.1 715.6C287.5 717.8 291.4 718.2 296.5 718.1C301.6 717.9 307.3 716.9 312.7 714.7C318.1 712.4 323.2 710.3 328.9 704.8C334.5 699.2 340.5 691.6 346.8 681.4C353.1 671.2 360.4 657 366.6 643.7C372.7 630.4 380.8 608.5 383.6 601.5" stroke-width="4.4" stroke-opacity="0.3"/><path d="M212.1 601.5C215.4 608.8 225.6 632.2 231.9 645.5C238.1 658.8 243.8 671.8 249.8 681.4C255.8 691 262.1 698 267.8 703C273.5 707.9 279.2 709.4 283.9 711.1C288.7 712.7 292 713.2 296.5 713C301 712.9 305.8 712.1 310.9 710.2C316 708.2 321.7 706.6 327.1 701.2C332.4 695.8 337.5 687.7 343.2 677.8C348.9 668 355.6 654.6 361.2 641.9C366.8 629.2 374.4 608.2 377 601.5" stroke-width="4.4" stroke-opacity="0.3"/><path d="M234.5 601.5C236.5 607.3 242.2 625.3 246.2 636.5C250.3 647.7 254.6 659.9 258.8 668.9C263 677.8 267.2 684.7 271.4 690.4C275.6 696.1 279.8 700.2 283.9 703C288.1 705.7 292.3 707.1 296.5 706.9C300.7 706.8 304.9 705.1 309.1 702.1C313.3 699 317.5 694.4 321.7 688.6C325.9 682.8 330 676.3 334.2 667.1C338.4 657.8 342.9 643.9 346.8 632.9C350.7 622 355.8 606.7 357.6 601.5" stroke-width="4.2" stroke-opacity="0.3"/><path d="M248 601.5C249.5 604.9 253.7 615.4 257 622.1C260.3 628.9 263.9 636.1 267.8 641.9C271.7 647.7 275.6 653.3 280.4 657.2C285.1 661.1 290.8 665.1 296.5 665.3C302.2 665.4 309.1 661.7 314.5 658.1C319.9 654.5 325.1 649.4 328.9 643.7C332.6 638 334.7 631 336.9 623.9C339.2 616.9 341.4 605.2 342.3 601.5" stroke-width="4.2" stroke-opacity="0.3"/><path d="M263.3 601.5C265.2 604 271.2 612.7 275 616.8C278.7 620.8 282.1 623.7 285.7 625.7C289.3 627.8 292.9 629 296.5 629C300.1 629 303.7 627.8 307.3 625.7C310.9 623.7 314.2 620.8 318.1 616.8C322 612.7 328.6 604 330.6 601.5" stroke-width="4.2" stroke-opacity="0.28"/><path d="M160 968.3C161.2 967.5 162.7 966.6 167.2 963.8C171.7 961 181 955.7 186.9 951.2C192.9 946.7 198.3 942.2 203.1 936.9C207.9 931.5 211.5 925.8 215.7 918.9C219.9 912 224.4 902.7 228.3 895.5C232.2 888.4 235.4 881.5 239 875.8C242.6 870.1 246.2 865 249.8 861.4C253.4 857.8 257 856 260.6 854.2C264.2 852.4 267.5 852 271.4 850.6C275.3 849.3 279.8 847.5 283.9 846.1C288 844.8 291.8 842.6 296 842.6C300.2 842.6 304.8 844.9 309.1 846.1C313.4 847.3 317.8 848.4 321.7 849.7C325.6 851.1 328.9 852 332.4 854.2C336 856.5 339.6 859.3 343.2 863.2C346.8 867.1 350.7 872.5 354 877.6C357.3 882.7 359.7 888.1 363 893.7C366.3 899.4 370.2 906 373.8 911.7C377.4 917.4 380.6 922.8 384.5 927.9C388.4 933 392.6 937.8 397.1 942.2C401.6 946.7 407 951.2 411.5 954.8C416 958.4 420.8 961.6 424.1 963.8C427.3 966 430 967.5 431.2 968.3" stroke-width="4.8" stroke-opacity="0.3"/><path d="M183.4 971C184 970.1 184 970.4 186.9 965.6C189.9 960.8 196.8 950 201.3 942.2C205.8 934.5 209.7 926.7 213.9 918.9C218.1 911.1 222.6 902.4 226.5 895.5C230.4 888.7 233.6 882.8 237.2 877.6C240.8 872.3 244.6 867 248 864.1C251.5 861.2 254 859.8 257.9 860C261.8 860.1 267 863.1 271.4 865C275.7 866.9 279.8 869.9 283.9 871.3C288 872.7 291.8 873.1 296 873.5C300.2 873.8 304.8 873.3 309.1 873.5C313.4 873.6 317.8 873.4 321.7 874.3C325.6 875.3 329.5 877.6 332.4 879.4C335.4 881.1 336.9 882.1 339.6 884.8C342.3 887.5 345.3 890.5 348.6 895.5C351.9 900.6 355.8 908.1 359.4 915.3C363 922.5 366.6 930.6 370.2 938.7C373.8 946.7 378.7 958.6 380.9 963.8C383.2 969 383.2 969 383.6 970.1" stroke-width="4.4" stroke-opacity="0.3"/><path d="M205.8 971C206.3 970.1 206 971 208.5 965.6C211 960.2 217.2 947 221.1 938.7C225 930.3 228.3 922.5 231.9 915.3C235.4 908.1 239.3 900.6 242.6 895.5C245.9 890.5 248.9 887 251.6 884.8C254.3 882.5 255.8 881.8 258.8 882.1C261.8 882.4 265.7 884 269.6 886.6C273.5 889.1 277.7 894.6 282.1 897.3C286.5 900.1 291.5 903.1 296 903.1C300.5 903.1 305.1 899.9 309.1 897.3C313.1 894.7 316.3 890 319.9 887.5C323.5 884.9 327.4 882.5 330.6 882.1C333.9 881.7 336.3 882.3 339.6 885.1C342.9 888 346.8 893.2 350.4 899.1C354 905.1 357.6 913.2 361.2 920.7C364.8 928.2 369 936.9 372 944C375 951.2 377.5 959.5 379.1 963.8C380.8 968.1 381.4 969 381.8 970.1" stroke-width="4.8" stroke-opacity="0.3"/></g><filter id="fb1_0" color-interpolation-filters="sRGB" filterUnits="userSpaceOnUse" x="136.4" y="571.7" width="318.1" height="424.9"><feGaussianBlur stdDeviation="1.0"/></filter><g filter="url(#fb1_0)" fill="none" stroke="#fff" stroke-linecap="round" stroke-linejoin="round"><path d="M195.9 589.8C196.7 591.8 196.5 592.2 200.4 601.5C204.3 610.8 212.8 630.4 219.3 645.5C225.7 660.6 232.5 676.6 239 692.2C245.6 707.8 252.8 724.8 258.8 738.9C264.8 753 271.1 768.2 275 777C278.9 785.7 279.8 787.2 282.1 791.4C284.5 795.6 287 799.6 289.3 802.1C291.6 804.7 293.7 806.6 296 806.6C298.3 806.6 300.8 804.7 303.2 802.1C305.5 799.6 307.8 795.6 310 791.4C312.2 787.2 312.8 786 316.3 777C319.7 767.9 325.3 751.2 330.6 737.1C336 723 342.6 707.5 348.6 692.2C354.6 676.9 360.3 660.6 366.6 645.5C372.9 630.4 382.3 610.8 386.3 601.5C390.4 592.2 390.1 591.8 390.8 589.8" stroke-width="2" stroke-opacity="0.62"/><path d="M231 969.2C231.4 968.3 231.9 966.5 233.6 963.8C235.4 961.1 238.9 955.7 241.7 953C244.6 950.3 247.9 948.7 250.7 947.6C253.6 946.6 256.1 946.1 258.8 946.7C261.5 947.3 264.2 948.4 266.9 951.2C269.6 954.1 273.2 960.8 275 963.8C276.8 966.8 277.2 968.3 277.7 969.2" stroke-width="3.4" stroke-opacity="0.81"/><path d="M239 969.2C240.4 967.1 244.3 959.3 247.1 956.6C250 953.9 253.1 952.9 256.1 953C259.1 953.2 262.5 955 265.1 957.5C267.6 960.1 270.3 966.5 271.4 968.3" stroke-width="2.2" stroke-opacity="0.72"/><path d="M247.1 968.3C248.6 966.9 253.1 960.4 256.1 960.2C259.1 960.1 263.6 966.2 265.1 967.4" stroke-width="2.2" stroke-opacity="0.72"/><path d="M308.2 969.2C308.6 968.3 309.1 966.5 310.9 963.8C312.7 961.1 316.1 955.7 319 953C321.8 950.3 325.1 948.7 328 947.6C330.8 946.6 333.3 946.1 336 946.7C338.7 947.3 341.4 948.4 344.1 951.2C346.8 954.1 350.4 960.8 352.2 963.8C354 966.8 354.4 968.3 354.9 969.2" stroke-width="3.4" stroke-opacity="0.81"/><path d="M316.3 969.2C317.6 967.1 321.5 959.3 324.4 956.6C327.2 953.9 330.3 952.9 333.3 953C336.3 953.2 339.8 955 342.3 957.5C344.9 960.1 347.6 966.5 348.6 968.3" stroke-width="2.2" stroke-opacity="0.72"/><path d="M324.4 968.3C325.9 966.9 330.3 960.4 333.3 960.2C336.3 960.1 340.8 966.2 342.3 967.4" stroke-width="2.2" stroke-opacity="0.72"/></g><filter id="fb0_95" color-interpolation-filters="sRGB" filterUnits="userSpaceOnUse" x="136.4" y="571.7" width="318.1" height="424.9"><feGaussianBlur stdDeviation="0.95"/></filter><g filter="url(#fb0_95)" fill="none" stroke="#fff" stroke-linecap="round" stroke-linejoin="round"><path d="M207.1 601.5C210.3 608.8 219.9 631.9 226.5 645.5C233 659.1 239.9 673.3 246.2 683.2C252.5 693.1 258.2 699.4 264.2 704.8C270.2 710.2 276.8 713.3 282.1 715.6C287.5 717.8 291.4 718.2 296.5 718.1C301.6 717.9 307.3 716.9 312.7 714.7C318.1 712.4 323.2 710.3 328.9 704.8C334.5 699.2 340.5 691.6 346.8 681.4C353.1 671.2 360.4 657 366.6 643.7C372.7 630.4 380.8 608.5 383.6 601.5" stroke-width="2.5" stroke-opacity="0.84"/><path d="M212.1 601.5C215.4 608.8 225.6 632.2 231.9 645.5C238.1 658.8 243.8 671.8 249.8 681.4C255.8 691 262.1 698 267.8 703C273.5 707.9 279.2 709.4 283.9 711.1C288.7 712.7 292 713.2 296.5 713C301 712.9 305.8 712.1 310.9 710.2C316 708.2 321.7 706.6 327.1 701.2C332.4 695.8 337.5 687.7 343.2 677.8C348.9 668 355.6 654.6 361.2 641.9C366.8 629.2 374.4 608.2 377 601.5" stroke-width="2.5" stroke-opacity="0.84"/><path d="M160 968.3C161.2 967.5 162.7 966.6 167.2 963.8C171.7 961 181 955.7 186.9 951.2C192.9 946.7 198.3 942.2 203.1 936.9C207.9 931.5 211.5 925.8 215.7 918.9C219.9 912 224.4 902.7 228.3 895.5C232.2 888.4 235.4 881.5 239 875.8C242.6 870.1 246.2 865 249.8 861.4C253.4 857.8 257 856 260.6 854.2C264.2 852.4 267.5 852 271.4 850.6C275.3 849.3 279.8 847.5 283.9 846.1C288 844.8 291.8 842.6 296 842.6C300.2 842.6 304.8 844.9 309.1 846.1C313.4 847.3 317.8 848.4 321.7 849.7C325.6 851.1 328.9 852 332.4 854.2C336 856.5 339.6 859.3 343.2 863.2C346.8 867.1 350.7 872.5 354 877.6C357.3 882.7 359.7 888.1 363 893.7C366.3 899.4 370.2 906 373.8 911.7C377.4 917.4 380.6 922.8 384.5 927.9C388.4 933 392.6 937.8 397.1 942.2C401.6 946.7 407 951.2 411.5 954.8C416 958.4 420.8 961.6 424.1 963.8C427.3 966 430 967.5 431.2 968.3" stroke-width="2.7" stroke-opacity="0.84"/><path d="M183.4 971C184 970.1 184 970.4 186.9 965.6C189.9 960.8 196.8 950 201.3 942.2C205.8 934.5 209.7 926.7 213.9 918.9C218.1 911.1 222.6 902.4 226.5 895.5C230.4 888.7 233.6 882.8 237.2 877.6C240.8 872.3 244.6 867 248 864.1C251.5 861.2 254 859.8 257.9 860C261.8 860.1 267 863.1 271.4 865C275.7 866.9 279.8 869.9 283.9 871.3C288 872.7 291.8 873.1 296 873.5C300.2 873.8 304.8 873.3 309.1 873.5C313.4 873.6 317.8 873.4 321.7 874.3C325.6 875.3 329.5 877.6 332.4 879.4C335.4 881.1 336.9 882.1 339.6 884.8C342.3 887.5 345.3 890.5 348.6 895.5C351.9 900.6 355.8 908.1 359.4 915.3C363 922.5 366.6 930.6 370.2 938.7C373.8 946.7 378.7 958.6 380.9 963.8C383.2 969 383.2 969 383.6 970.1" stroke-width="2.4" stroke-opacity="0.82"/><path d="M205.8 971C206.3 970.1 206 971 208.5 965.6C211 960.2 217.2 947 221.1 938.7C225 930.3 228.3 922.5 231.9 915.3C235.4 908.1 239.3 900.6 242.6 895.5C245.9 890.5 248.9 887 251.6 884.8C254.3 882.5 255.8 881.8 258.8 882.1C261.8 882.4 265.7 884 269.6 886.6C273.5 889.1 277.7 894.6 282.1 897.3C286.5 900.1 291.5 903.1 296 903.1C300.5 903.1 305.1 899.9 309.1 897.3C313.1 894.7 316.3 890 319.9 887.5C323.5 884.9 327.4 882.5 330.6 882.1C333.9 881.7 336.3 882.3 339.6 885.1C342.9 888 346.8 893.2 350.4 899.1C354 905.1 357.6 913.2 361.2 920.7C364.8 928.2 369 936.9 372 944C375 951.2 377.5 959.5 379.1 963.8C380.8 968.1 381.4 969 381.8 970.1" stroke-width="2.7" stroke-opacity="0.84"/></g><filter id="fb0_9" color-interpolation-filters="sRGB" filterUnits="userSpaceOnUse" x="136.4" y="571.7" width="318.1" height="424.9"><feGaussianBlur stdDeviation="0.9"/></filter><g filter="url(#fb0_9)" fill="none" stroke="#fff" stroke-linecap="round" stroke-linejoin="round"><path d="M234.5 601.5C236.5 607.3 242.2 625.3 246.2 636.5C250.3 647.7 254.6 659.9 258.8 668.9C263 677.8 267.2 684.7 271.4 690.4C275.6 696.1 279.8 700.2 283.9 703C288.1 705.7 292.3 707.1 296.5 706.9C300.7 706.8 304.9 705.1 309.1 702.1C313.3 699 317.5 694.4 321.7 688.6C325.9 682.8 330 676.3 334.2 667.1C338.4 657.8 342.9 643.9 346.8 632.9C350.7 622 355.8 606.7 357.6 601.5" stroke-width="2.1" stroke-opacity="0.78"/><path d="M248 601.5C249.5 604.9 253.7 615.4 257 622.1C260.3 628.9 263.9 636.1 267.8 641.9C271.7 647.7 275.6 653.3 280.4 657.2C285.1 661.1 290.8 665.1 296.5 665.3C302.2 665.4 309.1 661.7 314.5 658.1C319.9 654.5 325.1 649.4 328.9 643.7C332.6 638 334.7 631 336.9 623.9C339.2 616.9 341.4 605.2 342.3 601.5" stroke-width="2" stroke-opacity="0.72"/><path d="M263.3 601.5C265.2 604 271.2 612.7 275 616.8C278.7 620.8 282.1 623.7 285.7 625.7C289.3 627.8 292.9 629 296.5 629C300.1 629 303.7 627.8 307.3 625.7C310.9 623.7 314.2 620.8 318.1 616.8C322 612.7 328.6 604 330.6 601.5" stroke-width="1.9" stroke-opacity="0.6"/></g><filter id="fb0_8" color-interpolation-filters="sRGB" filterUnits="userSpaceOnUse" x="136.4" y="571.7" width="318.1" height="424.9"><feGaussianBlur stdDeviation="0.8"/></filter><g filter="url(#fb0_8)" fill="none" stroke="#fff" stroke-linecap="round" stroke-linejoin="round"><linearGradient id="t74" gradientUnits="userSpaceOnUse" x1="264.2" y1="712" x2="327.1" y2="712"><stop offset="0" stop-color="#fff" stop-opacity="0"/><stop offset="0.3" stop-color="#fff" stop-opacity="0.5"/><stop offset="0.7" stop-color="#fff" stop-opacity="0.5"/><stop offset="1" stop-color="#fff" stop-opacity="0"/></linearGradient><path d="M264.2 712C267.2 713.5 276.8 719.1 282.1 720.9C287.5 722.7 291.4 722.8 296.5 722.7C301.6 722.7 307.6 722.4 312.7 720.6C317.8 718.8 324.7 713.4 327.1 712" stroke="url(#t74)" stroke-width="1.6" stroke-linecap="butt"/><linearGradient id="t76" gradientUnits="userSpaceOnUse" x1="346.8" y1="676" x2="380" y2="601.5"><stop offset="0" stop-color="#fff" stop-opacity="0"/><stop offset="0.4" stop-color="#fff" stop-opacity="0.6"/><stop offset="0.6" stop-color="#fff" stop-opacity="0.6"/><stop offset="1" stop-color="#fff" stop-opacity="0.6"/></linearGradient><path d="M346.8 676C349.5 670.6 357.4 656.1 363 643.7C368.5 631.3 377.2 608.5 380 601.5" stroke="url(#t76)" stroke-width="1.5" stroke-linecap="butt"/><linearGradient id="t78" gradientUnits="userSpaceOnUse" x1="321.7" y1="685" x2="353.1" y2="601.5"><stop offset="0" stop-color="#fff" stop-opacity="0"/><stop offset="0.4" stop-color="#fff" stop-opacity="0.6"/><stop offset="0.6" stop-color="#fff" stop-opacity="0.6"/><stop offset="1" stop-color="#fff" stop-opacity="0.6"/></linearGradient><path d="M321.7 685C323.5 681.7 328.9 673.9 332.4 665.3C336 656.6 339.8 643.6 343.2 632.9C346.7 622.3 351.5 606.7 353.1 601.5" stroke="url(#t78)" stroke-width="1.5" stroke-linecap="butt"/></g><g fill="none" stroke="#fff" stroke-linecap="round" stroke-linejoin="round"><path d="M0 0H2019V1058H0z" fill="#fff" fill-opacity="0.085" stroke="none"/></g></g></g>
<clipPath id="cpg"><rect x="568.5" y="599.4" width="257.5" height="372.6"/></clipPath><g clip-path="url(#cpg)"><g filter="url(#cmB)"><rect x="528.5" y="559.4" width="337.5" height="452.6" fill="#000"/><filter id="gb1_4" color-interpolation-filters="sRGB" filterUnits="userSpaceOnUse" x="538.5" y="569.4" width="317.5" height="432.6"><feGaussianBlur stdDeviation="1.4"/></filter><g filter="url(#gb1_4)" fill="none" stroke="#fff" stroke-linecap="round" stroke-linejoin="round"><linearGradient id="t80" gradientUnits="userSpaceOnUse" x1="608.8" y1="591.6" x2="742.6" y2="681.4"><stop offset="0" stop-color="#fff" stop-opacity="0.32"/><stop offset="0.08" stop-color="#fff" stop-opacity="0.32"/><stop offset="0.92" stop-color="#fff" stop-opacity="0.32"/><stop offset="1" stop-color="#fff" stop-opacity="0.19"/></linearGradient><path d="M608.8 591.6C609.3 593 609 593.7 611.5 599.7C614 605.7 619.6 618.1 624.1 627.5C628.6 637 634 647.6 638.4 656.3C642.9 665 646.8 672.4 651 679.6C655.2 686.8 659.4 694 663.6 699.4C667.8 704.8 672 709 676.2 712C680.4 715 684.9 716.2 688.7 717.4C692.5 718.5 695.1 719.1 699 718.8C702.9 718.5 707.8 717.6 712.1 715.6C716.4 713.5 720.8 710.5 724.7 706.6C728.6 702.7 732.5 696.4 735.4 692.2C738.4 688 741.4 683.2 742.6 681.4" stroke="url(#t80)" stroke-width="3.8" stroke-linecap="butt"/><path d="M647.4 591.6C647.9 593 648 594.6 650.1 599.7C652.2 604.8 656.6 614.8 660 622.1C663.4 629.5 667.2 637.9 670.8 643.7C674.4 649.5 678 654 681.6 657.2C685.1 660.3 689 661.5 692.3 662.6C695.6 663.6 698 663.8 701.3 663.5C704.6 663.2 708.5 662.6 712.1 660.8C715.7 659 719.3 656.6 722.9 652.7C726.5 648.8 730.1 643.1 733.6 637.4C737.2 631.7 740.8 624.8 744.4 618.6C748 612.3 753 604.2 755.2 599.7C757.4 595.2 757.4 593 757.9 591.6" stroke-width="3.8" stroke-opacity="0.32"/><path d="M663.6 593.4C664 594.5 663.9 596.1 666.3 599.7C668.7 603.3 674.2 610.9 678 615C681.7 619 685.2 622 688.7 623.9C692.2 625.9 695.4 626.6 699 626.6C702.6 626.6 706.6 625.9 710.3 623.9C714 622 717.2 619 721.1 615C725 610.9 731.1 603.3 733.6 599.7C736.2 596.1 735.9 594.5 736.3 593.4" stroke-width="3.8" stroke-opacity="0.32"/><path d="M642 977.1C642.6 976.2 643.8 973.8 645.6 971.7C647.4 969.6 650.1 966.2 652.8 964.5C655.5 962.8 658.8 961.5 661.8 961.5C664.8 961.5 668.1 962.8 670.8 964.5C673.5 966.2 676.3 969.6 678 971.7C679.6 973.8 680.2 976.2 680.7 977.1" stroke-width="3.8" stroke-opacity="0.32"/><path d="M716.6 977.1C717 976.2 717.6 974.3 719.3 971.7C720.9 969.2 723.5 964.3 726.5 961.8C729.5 959.3 733.6 956.9 737.2 956.8C740.8 956.6 744.4 958.4 748 960.9C751.6 963.4 756.4 969 758.8 971.7C761.2 974.4 761.8 976.2 762.4 977.1" stroke-width="3.8" stroke-opacity="0.32"/></g><filter id="gb0_9" color-interpolation-filters="sRGB" filterUnits="userSpaceOnUse" x="538.5" y="569.4" width="317.5" height="432.6"><feGaussianBlur stdDeviation="0.9"/></filter><g filter="url(#gb0_9)" fill="none" stroke="#fff" stroke-linecap="round" stroke-linejoin="round"><path d="M599.8 591.6C600.4 593 599.7 590.7 603.4 599.7C607.2 608.7 615.8 630.1 622.3 645.5C628.7 660.9 635.5 676.6 642 692.2C648.6 707.8 655.5 723.6 661.8 738.9C668.1 754.2 675.6 774.4 679.8 784C684 793.6 684.7 793 686.9 796.6C689.2 800.2 691.2 803.5 693.2 805.6C695.2 807.6 697 809.1 699 809.1C700.9 809.1 703 807.6 704.9 805.6C706.8 803.5 708.5 800.2 710.3 796.6C712.1 793 712.1 793.6 715.7 784C719.3 774.4 726.2 754.5 731.9 738.9C737.5 723.3 743.8 706.3 749.8 690.4C755.8 674.5 761.8 658.8 767.8 643.7C773.8 628.6 782.3 608.4 785.7 599.7C789.2 591 788 593 788.4 591.6" stroke-width="2.8" stroke-opacity="0.35"/><linearGradient id="t81" gradientUnits="userSpaceOnUse" x1="608.8" y1="591.6" x2="742.6" y2="681.4"><stop offset="0" stop-color="#fff" stop-opacity="0.59"/><stop offset="0.08" stop-color="#fff" stop-opacity="0.59"/><stop offset="0.92" stop-color="#fff" stop-opacity="0.59"/><stop offset="1" stop-color="#fff" stop-opacity="0.35"/></linearGradient><path d="M608.8 591.6C609.3 593 609 593.7 611.5 599.7C614 605.7 619.6 618.1 624.1 627.5C628.6 637 634 647.6 638.4 656.3C642.9 665 646.8 672.4 651 679.6C655.2 686.8 659.4 694 663.6 699.4C667.8 704.8 672 709 676.2 712C680.4 715 684.9 716.2 688.7 717.4C692.5 718.5 695.1 719.1 699 718.8C702.9 718.5 707.8 717.6 712.1 715.6C716.4 713.5 720.8 710.5 724.7 706.6C728.6 702.7 732.5 696.4 735.4 692.2C738.4 688 741.4 683.2 742.6 681.4" stroke="url(#t81)" stroke-width="2" stroke-linecap="butt"/><linearGradient id="t82" gradientUnits="userSpaceOnUse" x1="740.8" y1="685" x2="783" y2="591.6"><stop offset="0" stop-color="#fff" stop-opacity="0.12"/><stop offset="0.2" stop-color="#fff" stop-opacity="0.25"/><stop offset="0.8" stop-color="#fff" stop-opacity="0.25"/><stop offset="1" stop-color="#fff" stop-opacity="0.25"/></linearGradient><path d="M740.8 685C742.3 682 746.5 673.6 749.8 667.1C753.1 660.5 757.3 652.4 760.6 645.5C763.9 638.6 766.3 633.4 769.6 625.7C772.9 618.1 778.1 605.4 780.4 599.7C782.6 594 782.6 593 783 591.6" stroke="url(#t82)" stroke-width="2.8" stroke-linecap="butt"/><linearGradient id="t84" gradientUnits="userSpaceOnUse" x1="762.4" y1="652.7" x2="783" y2="607.8"><stop offset="0" stop-color="#fff" stop-opacity="0"/><stop offset="0.3" stop-color="#fff" stop-opacity="0.12"/><stop offset="0.7" stop-color="#fff" stop-opacity="0.12"/><stop offset="1" stop-color="#fff" stop-opacity="0"/></linearGradient><path d="M762.4 652.7C764.2 649.1 769.7 638.6 773.2 631.1C776.6 623.6 781.4 611.7 783 607.8" stroke="url(#t84)" stroke-width="1.7" stroke-linecap="butt"/><linearGradient id="t86" gradientUnits="userSpaceOnUse" x1="669" y1="712" x2="690.5" y2="722.4"><stop offset="0" stop-color="#fff" stop-opacity="0"/><stop offset="0.4" stop-color="#fff" stop-opacity="0.23"/><stop offset="0.6" stop-color="#fff" stop-opacity="0.23"/><stop offset="1" stop-color="#fff" stop-opacity="0"/></linearGradient><path d="M669 712C670.8 713.2 676.2 717.4 679.8 719.1C683.4 720.9 688.7 721.8 690.5 722.4" stroke="url(#t86)" stroke-width="3.4" stroke-linecap="butt"/><linearGradient id="t88" gradientUnits="userSpaceOnUse" x1="709.4" y1="709.3" x2="718.4" y2="703"><stop offset="0" stop-color="#fff" stop-opacity="0"/><stop offset="0.4" stop-color="#fff" stop-opacity="0.15"/><stop offset="0.6" stop-color="#fff" stop-opacity="0.15"/><stop offset="1" stop-color="#fff" stop-opacity="0"/></linearGradient><path d="M709.4 709.3C710.1 708.8 712.4 707.6 713.9 706.6C715.4 705.5 717.6 703.6 718.4 703" stroke="url(#t88)" stroke-width="2.8" stroke-linecap="butt"/><path d="M647.4 591.6C647.9 593 648 594.6 650.1 599.7C652.2 604.8 656.6 614.8 660 622.1C663.4 629.5 667.2 637.9 670.8 643.7C674.4 649.5 678 654 681.6 657.2C685.1 660.3 689 661.5 692.3 662.6C695.6 663.6 698 663.8 701.3 663.5C704.6 663.2 708.5 662.6 712.1 660.8C715.7 659 719.3 656.6 722.9 652.7C726.5 648.8 730.1 643.1 733.6 637.4C737.2 631.7 740.8 624.8 744.4 618.6C748 612.3 753 604.2 755.2 599.7C757.4 595.2 757.4 593 757.9 591.6" stroke-width="2" stroke-opacity="0.61"/><path d="M663.6 593.4C664 594.5 663.9 596.1 666.3 599.7C668.7 603.3 674.2 610.9 678 615C681.7 619 685.2 622 688.7 623.9C692.2 625.9 695.4 626.6 699 626.6C702.6 626.6 706.6 625.9 710.3 623.9C714 622 717.2 619 721.1 615C725 610.9 731.1 603.3 733.6 599.7C736.2 596.1 735.9 594.5 736.3 593.4" stroke-width="2" stroke-opacity="0.55"/><linearGradient id="t91" gradientUnits="userSpaceOnUse" x1="683.4" y1="848.3" x2="712.1" y2="847.9"><stop offset="0" stop-color="#fff" stop-opacity="0"/><stop offset="0.4" stop-color="#fff" stop-opacity="0.25"/><stop offset="0.6" stop-color="#fff" stop-opacity="0.25"/><stop offset="1" stop-color="#fff" stop-opacity="0"/></linearGradient><path d="M683.4 848.3C684.8 847.9 689.7 846.2 692.3 845.6C694.9 845 696.9 844.7 699 844.7C701.1 844.7 702.7 845.1 704.9 845.6C707.1 846.1 710.9 847.6 712.1 847.9" stroke="url(#t91)" stroke-width="2.8" stroke-linecap="butt"/><linearGradient id="t93" gradientUnits="userSpaceOnUse" x1="584.6" y1="978.9" x2="744.4" y2="890"><stop offset="0" stop-color="#fff" stop-opacity="0.36"/><stop offset="0.06" stop-color="#fff" stop-opacity="0.36"/><stop offset="0.94" stop-color="#fff" stop-opacity="0.36"/><stop offset="1" stop-color="#fff" stop-opacity="0.11"/></linearGradient><path d="M584.6 978.9C585.5 977.7 587.5 974.9 589.9 971.7C592.3 968.6 595.6 965 598.9 960C602.2 955.1 606.1 948.7 609.7 942.1C613.3 935.5 616.9 927.7 620.5 920.5C624.1 913.3 627.7 905.5 631.3 899C634.9 892.4 638.4 886.1 642 881C645.6 875.9 649.4 871.4 652.8 868.4C656.3 865.4 659.4 863.5 662.7 863C666 862.6 669.4 864.2 672.6 865.7C675.7 867.2 678.6 870.3 681.6 872C684.5 873.7 687.6 875.1 690.5 876C693.4 876.8 696 877 699 877C702 877.1 705.4 876.6 708.5 876.3C711.6 876.1 714.5 875.4 717.5 875.6C720.5 875.8 723.5 876.3 726.5 877.4C729.5 878.5 732.5 880.3 735.4 882.4C738.4 884.5 742.9 888.7 744.4 890" stroke="url(#t93)" stroke-width="2.8" stroke-linecap="butt"/><path d="M742.6 888.2C744.4 891.2 749.8 899.6 753.4 906.1C757 912.7 760.3 920.7 764.2 927.7C768.1 934.7 774.7 944.9 776.8 948.4" stroke-width="2" stroke-opacity="0.16"/><path d="M775 945.7C776.8 948.2 782.1 956.6 785.7 960.9C789.3 965.3 793.8 968.9 796.5 971.7C799.2 974.6 801 976.9 801.9 978" stroke-width="2.8" stroke-opacity="0.31"/><path d="M642 977.1C642.6 976.2 643.8 973.8 645.6 971.7C647.4 969.6 650.1 966.2 652.8 964.5C655.5 962.8 658.8 961.5 661.8 961.5C664.8 961.5 668.1 962.8 670.8 964.5C673.5 966.2 676.3 969.6 678 971.7C679.6 973.8 680.2 976.2 680.7 977.1" stroke-width="2" stroke-opacity="0.59"/><path d="M716.6 977.1C717 976.2 717.6 974.3 719.3 971.7C720.9 969.2 723.5 964.3 726.5 961.8C729.5 959.3 733.6 956.9 737.2 956.8C740.8 956.6 744.4 958.4 748 960.9C751.6 963.4 756.4 969 758.8 971.7C761.2 974.4 761.8 976.2 762.4 977.1" stroke-width="2" stroke-opacity="0.59"/></g><filter id="gb0_75" color-interpolation-filters="sRGB" filterUnits="userSpaceOnUse" x="538.5" y="569.4" width="317.5" height="432.6"><feGaussianBlur stdDeviation="0.75"/></filter><g filter="url(#gb0_75)" fill="none" stroke="#fff" stroke-linecap="round" stroke-linejoin="round"><path d="M599.8 591.6C600.4 593 599.7 590.7 603.4 599.7C607.2 608.7 615.8 630.1 622.3 645.5C628.7 660.9 635.5 676.6 642 692.2C648.6 707.8 655.5 723.6 661.8 738.9C668.1 754.2 675.6 774.4 679.8 784C684 793.6 684.7 793 686.9 796.6C689.2 800.2 691.2 803.5 693.2 805.6C695.2 807.6 697 809.1 699 809.1C700.9 809.1 703 807.6 704.9 805.6C706.8 803.5 708.5 800.2 710.3 796.6C712.1 793 712.1 793.6 715.7 784C719.3 774.4 726.2 754.5 731.9 738.9C737.5 723.3 743.8 706.3 749.8 690.4C755.8 674.5 761.8 658.8 767.8 643.7C773.8 628.6 782.3 608.4 785.7 599.7C789.2 591 788 593 788.4 591.6" stroke-width="1.7" stroke-opacity="0.66"/><linearGradient id="t83" gradientUnits="userSpaceOnUse" x1="740.8" y1="685" x2="783" y2="591.6"><stop offset="0" stop-color="#fff" stop-opacity="0.24"/><stop offset="0.2" stop-color="#fff" stop-opacity="0.47"/><stop offset="0.8" stop-color="#fff" stop-opacity="0.47"/><stop offset="1" stop-color="#fff" stop-opacity="0.47"/></linearGradient><path d="M740.8 685C742.3 682 746.5 673.6 749.8 667.1C753.1 660.5 757.3 652.4 760.6 645.5C763.9 638.6 766.3 633.4 769.6 625.7C772.9 618.1 778.1 605.4 780.4 599.7C782.6 594 782.6 593 783 591.6" stroke="url(#t83)" stroke-width="1.5" stroke-linecap="butt"/><linearGradient id="t85" gradientUnits="userSpaceOnUse" x1="762.4" y1="652.7" x2="783" y2="607.8"><stop offset="0" stop-color="#fff" stop-opacity="0"/><stop offset="0.3" stop-color="#fff" stop-opacity="0.24"/><stop offset="0.7" stop-color="#fff" stop-opacity="0.24"/><stop offset="1" stop-color="#fff" stop-opacity="0"/></linearGradient><path d="M762.4 652.7C764.2 649.1 769.7 638.6 773.2 631.1C776.6 623.6 781.4 611.7 783 607.8" stroke="url(#t85)" stroke-width="1.6" stroke-linecap="butt"/><linearGradient id="t87" gradientUnits="userSpaceOnUse" x1="669" y1="712" x2="690.5" y2="722.4"><stop offset="0" stop-color="#fff" stop-opacity="0"/><stop offset="0.4" stop-color="#fff" stop-opacity="0.43"/><stop offset="0.6" stop-color="#fff" stop-opacity="0.43"/><stop offset="1" stop-color="#fff" stop-opacity="0"/></linearGradient><path d="M669 712C670.8 713.2 676.2 717.4 679.8 719.1C683.4 720.9 688.7 721.8 690.5 722.4" stroke="url(#t87)" stroke-width="2.4" stroke-linecap="butt"/><linearGradient id="t89" gradientUnits="userSpaceOnUse" x1="709.4" y1="709.3" x2="718.4" y2="703"><stop offset="0" stop-color="#fff" stop-opacity="0"/><stop offset="0.4" stop-color="#fff" stop-opacity="0.28"/><stop offset="0.6" stop-color="#fff" stop-opacity="0.28"/><stop offset="1" stop-color="#fff" stop-opacity="0"/></linearGradient><path d="M709.4 709.3C710.1 708.8 712.4 707.6 713.9 706.6C715.4 705.5 717.6 703.6 718.4 703" stroke="url(#t89)" stroke-width="1.7" stroke-linecap="butt"/><linearGradient id="t90" gradientUnits="userSpaceOnUse" x1="712.1" y1="660.8" x2="757.9" y2="591.6"><stop offset="0" stop-color="#fff" stop-opacity="0"/><stop offset="0.3" stop-color="#fff" stop-opacity="0.76"/><stop offset="0.7" stop-color="#fff" stop-opacity="0.76"/><stop offset="1" stop-color="#fff" stop-opacity="0.76"/></linearGradient><path d="M712.1 660.8C713.9 659.4 719.3 656.6 722.9 652.7C726.5 648.8 730.1 643.1 733.6 637.4C737.2 631.7 740.8 624.8 744.4 618.6C748 612.3 753 604.2 755.2 599.7C757.4 595.2 757.4 593 757.9 591.6" stroke="url(#t90)" stroke-width="1.6" stroke-linecap="butt"/><linearGradient id="t92" gradientUnits="userSpaceOnUse" x1="683.4" y1="848.3" x2="712.1" y2="847.9"><stop offset="0" stop-color="#fff" stop-opacity="0"/><stop offset="0.4" stop-color="#fff" stop-opacity="0.47"/><stop offset="0.6" stop-color="#fff" stop-opacity="0.47"/><stop offset="1" stop-color="#fff" stop-opacity="0"/></linearGradient><path d="M683.4 848.3C684.8 847.9 689.7 846.2 692.3 845.6C694.9 845 696.9 844.7 699 844.7C701.1 844.7 702.7 845.1 704.9 845.6C707.1 846.1 710.9 847.6 712.1 847.9" stroke="url(#t92)" stroke-width="1.9" stroke-linecap="butt"/><linearGradient id="t94" gradientUnits="userSpaceOnUse" x1="584.6" y1="978.9" x2="744.4" y2="890"><stop offset="0" stop-color="#fff" stop-opacity="0.68"/><stop offset="0.06" stop-color="#fff" stop-opacity="0.68"/><stop offset="0.94" stop-color="#fff" stop-opacity="0.68"/><stop offset="1" stop-color="#fff" stop-opacity="0.21"/></linearGradient><path d="M584.6 978.9C585.5 977.7 587.5 974.9 589.9 971.7C592.3 968.6 595.6 965 598.9 960C602.2 955.1 606.1 948.7 609.7 942.1C613.3 935.5 616.9 927.7 620.5 920.5C624.1 913.3 627.7 905.5 631.3 899C634.9 892.4 638.4 886.1 642 881C645.6 875.9 649.4 871.4 652.8 868.4C656.3 865.4 659.4 863.5 662.7 863C666 862.6 669.4 864.2 672.6 865.7C675.7 867.2 678.6 870.3 681.6 872C684.5 873.7 687.6 875.1 690.5 876C693.4 876.8 696 877 699 877C702 877.1 705.4 876.6 708.5 876.3C711.6 876.1 714.5 875.4 717.5 875.6C720.5 875.8 723.5 876.3 726.5 877.4C729.5 878.5 732.5 880.3 735.4 882.4C738.4 884.5 742.9 888.7 744.4 890" stroke="url(#t94)" stroke-width="1.8" stroke-linecap="butt"/><path d="M742.6 888.2C744.4 891.2 749.8 899.6 753.4 906.1C757 912.7 760.3 920.7 764.2 927.7C768.1 934.7 774.7 944.9 776.8 948.4" stroke-width="1.5" stroke-opacity="0.3"/><path d="M775 945.7C776.8 948.2 782.1 956.6 785.7 960.9C789.3 965.3 793.8 968.9 796.5 971.7C799.2 974.6 801 976.9 801.9 978" stroke-width="1.6" stroke-opacity="0.59"/></g></g></g>
<clipPath id="cph"><rect x="965" y="601.4" width="255" height="366.3"/></clipPath><g clip-path="url(#cph)"><g filter="url(#cmV)"><rect x="925" y="561.4" width="335" height="446.3" fill="#000"/><rect x="935" y="571.4" width="315" height="426.3" fill="rgb(5,5,5)"/><filter id="hb16" color-interpolation-filters="sRGB" filterUnits="userSpaceOnUse" x="935" y="571.4" width="315" height="426.3"><feGaussianBlur stdDeviation="16"/></filter><g filter="url(#hb16)" fill="none" stroke="#fff" stroke-linecap="round" stroke-linejoin="round"><ellipse cx="1229.9" cy="951.1" rx="43.1" ry="39.5" fill="#fff" fill-opacity="0.36" stroke="none"/></g><filter id="hb14" color-interpolation-filters="sRGB" filterUnits="userSpaceOnUse" x="935" y="571.4" width="315" height="426.3"><feGaussianBlur stdDeviation="14"/></filter><g filter="url(#hb14)" fill="none" stroke="#fff" stroke-linecap="round" stroke-linejoin="round"><path d="M964.2 954.7C990.8 950.3 1203.3 934.2 1229.9 936.7C1256.5 939.2 1256.5 975.5 1229.9 979.8C1203.3 984.1 990.8 982.3 964.2 979.8C937.6 977.3 937.6 959 964.2 954.7Z" fill="#fff" fill-opacity="0.1" stroke="none"/></g><filter id="hb10" color-interpolation-filters="sRGB" filterUnits="userSpaceOnUse" x="935" y="571.4" width="315" height="426.3"><feGaussianBlur stdDeviation="10"/></filter><g filter="url(#hb10)" fill="none" stroke="#fff" stroke-linecap="round" stroke-linejoin="round"><path d="M1010.9 631.5C1014.7 621.8 1076.2 638.7 1092.7 638.7C1109.2 638.7 1172 621.8 1176 631.5C1180.1 641.2 1139.4 719.5 1132.9 735.6C1126.5 751.8 1109.6 780.2 1111.4 793.1C1113.2 806 1141.9 852.7 1150.9 864.9C1159.9 877.1 1202.6 910.1 1201.2 915.2C1199.7 920.2 1147.4 918.8 1136.5 915.2C1125.7 911.6 1101.3 879.3 1092.7 879.3C1084.1 879.3 1057.8 911.6 1050.4 915.2C1042.9 918.8 1018 920.9 1018 915.2C1018 909.4 1044.6 869.9 1050.4 857.7C1056.1 845.5 1075.1 805.3 1075.5 793.1C1075.9 780.9 1060.4 751.8 1053.9 735.6C1047.5 719.5 1007 641.2 1010.9 631.5Z" fill="#fff" fill-opacity="0.15" stroke="none"/></g><filter id="hb7" color-interpolation-filters="sRGB" filterUnits="userSpaceOnUse" x="935" y="571.4" width="315" height="426.3"><feGaussianBlur stdDeviation="7"/></filter><g filter="url(#hb7)" fill="none" stroke="#fff" stroke-linecap="round" stroke-linejoin="round"><linearGradient id="g16" gradientUnits="userSpaceOnUse" x1="0" y1="843.3" x2="0" y2="951.1"><stop offset="0" stop-color="#fff" stop-opacity="0.62"/><stop offset="0.267" stop-color="#fff" stop-opacity="0.5"/><stop offset="0.533" stop-color="#fff" stop-opacity="0.28"/><stop offset="0.8" stop-color="#fff" stop-opacity="0.1"/><stop offset="1" stop-color="#fff" stop-opacity="0"/></linearGradient><path d="M1092.7 845.1C1089.3 846.2 1078.4 847.8 1071.9 851.2C1065.4 854.7 1059.3 860.2 1053.9 865.6C1048.6 871 1043.8 877 1039.6 883.6C1035.4 890.1 1032.1 897.4 1028.8 905.1C1025.5 912.8 1022.2 921.9 1019.8 929.5C1017.4 937.2 1015.3 947.5 1014.5 951.1" stroke="url(#g16)" stroke-width="20"/><linearGradient id="g17" gradientUnits="userSpaceOnUse" x1="0" y1="843.3" x2="0" y2="961.8"><stop offset="0" stop-color="#fff" stop-opacity="0.62"/><stop offset="0.303" stop-color="#fff" stop-opacity="0.55"/><stop offset="0.606" stop-color="#fff" stop-opacity="0.45"/><stop offset="1" stop-color="#fff" stop-opacity="0.3"/></linearGradient><path d="M1092.7 845.1C1096.4 846.5 1108.3 849 1115 853C1121.7 857.1 1127.6 862.9 1132.9 869.2C1138.3 875.5 1141.9 883 1147.3 890.7C1152.7 898.5 1158.7 908.1 1165.3 915.9C1171.8 923.7 1178.4 930.8 1186.8 937.4C1195.2 944 1208.3 951.3 1215.5 955.4C1222.7 959.4 1227.5 960.8 1229.9 961.8" stroke="url(#g17)" stroke-width="20"/><path d="M1064.7 825.4C1066.8 822 1087 816.4 1092.7 816.4C1098.5 816.4 1119.9 822 1122.2 825.4C1124.4 828.8 1120 848 1115 850.5C1110 853 1076.9 853 1071.9 850.5C1066.9 848 1062.6 828.8 1064.7 825.4Z" fill="#fff" fill-opacity="0.3" stroke="none"/></g><filter id="hb6" color-interpolation-filters="sRGB" filterUnits="userSpaceOnUse" x="935" y="571.4" width="315" height="426.3"><feGaussianBlur stdDeviation="6"/></filter><g filter="url(#hb6)" fill="none" stroke="#fff" stroke-linecap="round" stroke-linejoin="round"><ellipse cx="1092.7" cy="803.8" rx="12.9" ry="14.4" fill="#fff" fill-opacity="0.22" stroke="none"/></g><filter id="hb5" color-interpolation-filters="sRGB" filterUnits="userSpaceOnUse" x="935" y="571.4" width="315" height="426.3"><feGaussianBlur stdDeviation="5"/></filter><g filter="url(#hb5)" fill="none" stroke="#fff" stroke-linecap="round" stroke-linejoin="round"><linearGradient id="g12" gradientUnits="userSpaceOnUse" x1="0" y1="627.9" x2="0" y2="730.2"><stop offset="0" stop-color="#fff" stop-opacity="0.18"/><stop offset="0.526" stop-color="#fff" stop-opacity="0.26"/><stop offset="1" stop-color="#fff" stop-opacity="0.3"/></linearGradient><path d="M1066.5 629.7C1068 635.4 1072.5 652.1 1075.5 663.8C1078.5 675.5 1081.6 688.6 1084.5 699.7C1087.3 710.8 1091.4 725.2 1092.7 730.2" stroke="url(#g12)" stroke-width="11"/><linearGradient id="g13" gradientUnits="userSpaceOnUse" x1="0" y1="627.9" x2="0" y2="730.2"><stop offset="0" stop-color="#fff" stop-opacity="0.18"/><stop offset="0.526" stop-color="#fff" stop-opacity="0.26"/><stop offset="1" stop-color="#fff" stop-opacity="0.3"/></linearGradient><path d="M1119.3 629.7C1118 635.4 1114.5 652.1 1111.4 663.8C1108.3 675.5 1103.7 688.6 1100.6 699.7C1097.5 710.8 1094 725.2 1092.7 730.2" stroke="url(#g13)" stroke-width="11"/></g><filter id="hb4_5" color-interpolation-filters="sRGB" filterUnits="userSpaceOnUse" x="935" y="571.4" width="315" height="426.3"><feGaussianBlur stdDeviation="4.5"/></filter><g filter="url(#hb4_5)" fill="none" stroke="#fff" stroke-linecap="round" stroke-linejoin="round"><ellipse cx="1092.7" cy="838" rx="8.6" ry="12.2" fill="#fff" fill-opacity="0.85" stroke="none"/></g><filter id="hb4" color-interpolation-filters="sRGB" filterUnits="userSpaceOnUse" x="935" y="571.4" width="315" height="426.3"><feGaussianBlur stdDeviation="4"/></filter><g filter="url(#hb4)" fill="none" stroke="#fff" stroke-linecap="round" stroke-linejoin="round"><ellipse cx="1168.8" cy="638.7" rx="8.6" ry="8.6" fill="#fff" fill-opacity="0.2" stroke="none"/><ellipse cx="1092.7" cy="780.5" rx="14.4" ry="5" fill="#fff" fill-opacity="0.3" stroke="none"/></g><filter id="hb3_6" color-interpolation-filters="sRGB" filterUnits="userSpaceOnUse" x="935" y="571.4" width="315" height="426.3"><feGaussianBlur stdDeviation="3.6"/></filter><g filter="url(#hb3_6)" fill="none" stroke="#fff" stroke-linecap="round" stroke-linejoin="round"><linearGradient id="g14" gradientUnits="userSpaceOnUse" x1="0" y1="631.5" x2="0" y2="784.1"><stop offset="0" stop-color="#fff" stop-opacity="0.22"/><stop offset="0.329" stop-color="#fff" stop-opacity="0.36"/><stop offset="0.635" stop-color="#fff" stop-opacity="0.64"/><stop offset="0.871" stop-color="#fff" stop-opacity="0.88"/><stop offset="1" stop-color="#fff" stop-opacity="0.92"/></linearGradient><path d="M1010.9 633.3C1013.9 637.2 1022.8 648 1028.8 656.6C1034.8 665.3 1041.4 675.2 1046.8 685.4C1052.2 695.5 1056.9 706.9 1061.1 717.7C1065.3 728.4 1068.6 740.4 1071.9 750C1075.2 759.6 1078.8 769.4 1080.9 775.1C1083 780.8 1083.9 782.6 1084.5 784.1" stroke="url(#g14)" stroke-width="9.5"/><linearGradient id="g15" gradientUnits="userSpaceOnUse" x1="0" y1="631.5" x2="0" y2="784.1"><stop offset="0" stop-color="#fff" stop-opacity="0.5"/><stop offset="0.329" stop-color="#fff" stop-opacity="0.55"/><stop offset="0.635" stop-color="#fff" stop-opacity="0.72"/><stop offset="0.871" stop-color="#fff" stop-opacity="0.88"/><stop offset="1" stop-color="#fff" stop-opacity="0.92"/></linearGradient><path d="M1172.4 631.5C1170 635.1 1163.5 644.7 1158.1 653C1152.7 661.4 1145.5 671.6 1140.1 681.8C1134.7 691.9 1130 703.3 1125.8 714.1C1121.6 724.9 1118.3 736.5 1115 746.4C1111.7 756.3 1108.3 767 1106 773.3C1103.7 779.6 1102.1 782.3 1101.3 784.1" stroke="url(#g15)" stroke-width="9.5"/></g><filter id="hb3" color-interpolation-filters="sRGB" filterUnits="userSpaceOnUse" x="935" y="571.4" width="315" height="426.3"><feGaussianBlur stdDeviation="3"/></filter><g filter="url(#hb3)" fill="none" stroke="#fff" stroke-linecap="round" stroke-linejoin="round"><ellipse cx="1081.2" cy="773.3" rx="3.6" ry="7.9" fill="#fff" fill-opacity="0.5" stroke="none"/><ellipse cx="1104.2" cy="773.3" rx="3.6" ry="7.9" fill="#fff" fill-opacity="0.5" stroke="none"/></g><filter id="nz21" x="0" y="0" width="1" height="1" color-interpolation-filters="sRGB"><feTurbulence type="fractalNoise" baseFrequency="0.2 0.3" numOctaves="2" seed="21"/><feColorMatrix type="matrix" values="0 0 0 0 1  0 0 0 0 1  0 0 0 0 1  0.072 0 0 0 -0.036"/><feGaussianBlur stdDeviation="0.7"/></filter><filter id="nz21d" x="0" y="0" width="1" height="1" color-interpolation-filters="sRGB"><feTurbulence type="fractalNoise" baseFrequency="0.2 0.3" numOctaves="2" seed="28"/><feColorMatrix type="matrix" values="0 0 0 0 0  0 0 0 0 0  0 0 0 0 0  0.072 0 0 0 -0.036"/><feGaussianBlur stdDeviation="0.7"/></filter><rect x="965" y="601.4" width="255" height="366.3" filter="url(#nz21)"/><rect x="965" y="601.4" width="255" height="366.3" filter="url(#nz21d)"/></g></g>
<clipPath id="cpi"><rect x="1363.8" y="600.4" width="255.4" height="367"/></clipPath><g clip-path="url(#cpi)"><g filter="url(#cmV)"><rect x="1323.8" y="560.4" width="335.4" height="447" fill="#000"/><rect x="1333.8" y="570.4" width="315.4" height="427" fill="rgb(5,5,5)"/><filter id="ib10" color-interpolation-filters="sRGB" filterUnits="userSpaceOnUse" x="1333.8" y="570.4" width="315.4" height="427"><feGaussianBlur stdDeviation="10"/></filter><g filter="url(#ib10)" fill="none" stroke="#fff" stroke-linecap="round" stroke-linejoin="round"><path d="M1428.6 631.5C1431.8 621.8 1478.2 638.7 1490.7 638.7C1503.3 638.7 1551 621.8 1554.3 631.5C1557.6 641.2 1528.2 719.5 1523.8 735.6C1519.3 751.8 1506.5 779.4 1509.4 793.1C1512.3 806.7 1543.2 856.3 1552.5 872.1C1561.8 887.9 1602.4 943.2 1602.8 951.1C1603.1 959 1567.3 957.5 1556.1 951.1C1544.9 944.6 1503.7 886.4 1490.7 886.4C1477.8 886.4 1437.9 944.6 1426.8 951.1C1415.8 957.5 1379.8 959 1380.1 951.1C1380.5 943.2 1421.1 887.9 1430.4 872.1C1439.7 856.3 1470.6 806.7 1473.5 793.1C1476.4 779.4 1463.6 751.8 1459.1 735.6C1454.6 719.5 1425.4 641.2 1428.6 631.5Z" fill="#fff" fill-opacity="0.15" stroke="none"/></g><filter id="ib8" color-interpolation-filters="sRGB" filterUnits="userSpaceOnUse" x="1333.8" y="570.4" width="315.4" height="427"><feGaussianBlur stdDeviation="8"/></filter><g filter="url(#ib8)" fill="none" stroke="#fff" stroke-linecap="round" stroke-linejoin="round"><linearGradient id="g22" gradientUnits="userSpaceOnUse" x1="0" y1="843.3" x2="0" y2="972.6"><stop offset="0" stop-color="#fff" stop-opacity="0.55"/><stop offset="0.278" stop-color="#fff" stop-opacity="0.46"/><stop offset="0.556" stop-color="#fff" stop-opacity="0.32"/><stop offset="1" stop-color="#fff" stop-opacity="0.2"/></linearGradient><path d="M1490.7 845.1C1487.3 846.2 1476.4 847.2 1469.9 851.2C1463.4 855.3 1457.9 862 1451.9 869.2C1446 876.4 1440 886 1434 894.3C1428 902.7 1422.6 911.1 1416 919.5C1409.5 927.8 1401.1 937.4 1394.5 944.6C1387.9 951.8 1381.3 957.9 1376.5 962.6C1371.8 967.2 1367.6 970.9 1365.8 972.6" stroke="url(#g22)" stroke-width="26"/><linearGradient id="g23" gradientUnits="userSpaceOnUse" x1="0" y1="843.3" x2="0" y2="972.6"><stop offset="0" stop-color="#fff" stop-opacity="0.55"/><stop offset="0.278" stop-color="#fff" stop-opacity="0.46"/><stop offset="0.556" stop-color="#fff" stop-opacity="0.32"/><stop offset="1" stop-color="#fff" stop-opacity="0.2"/></linearGradient><path d="M1490.7 845.1C1494.4 846.2 1506.3 847.2 1513 851.2C1519.7 855.3 1525 862 1530.9 869.2C1536.9 876.4 1542.9 886 1548.9 894.3C1554.9 902.7 1560.9 911.1 1566.8 919.5C1572.8 927.8 1578.8 937.4 1584.8 944.6C1590.8 951.8 1598 957.9 1602.8 962.6C1607.5 967.2 1611.7 970.9 1613.5 972.6" stroke="url(#g23)" stroke-width="26"/></g><filter id="ib7" color-interpolation-filters="sRGB" filterUnits="userSpaceOnUse" x="1333.8" y="570.4" width="315.4" height="427"><feGaussianBlur stdDeviation="7"/></filter><g filter="url(#ib7)" fill="none" stroke="#fff" stroke-linecap="round" stroke-linejoin="round"><path d="M1462.7 825.4C1464.8 822 1485 816.4 1490.7 816.4C1496.5 816.4 1517.9 822 1520.2 825.4C1522.4 828.8 1518 848 1513 850.5C1508 853 1474.9 853 1469.9 850.5C1464.9 848 1460.6 828.8 1462.7 825.4Z" fill="#fff" fill-opacity="0.3" stroke="none"/></g><filter id="ib6" color-interpolation-filters="sRGB" filterUnits="userSpaceOnUse" x="1333.8" y="570.4" width="315.4" height="427"><feGaussianBlur stdDeviation="6"/></filter><g filter="url(#ib6)" fill="none" stroke="#fff" stroke-linecap="round" stroke-linejoin="round"><ellipse cx="1490.7" cy="802.1" rx="12.2" ry="14.4" fill="#fff" fill-opacity="0.2" stroke="none"/></g><filter id="ib5" color-interpolation-filters="sRGB" filterUnits="userSpaceOnUse" x="1333.8" y="570.4" width="315.4" height="427"><feGaussianBlur stdDeviation="5"/></filter><g filter="url(#ib5)" fill="none" stroke="#fff" stroke-linecap="round" stroke-linejoin="round"><linearGradient id="g18" gradientUnits="userSpaceOnUse" x1="0" y1="627.9" x2="0" y2="715.9"><stop offset="0" stop-color="#fff" stop-opacity="0.16"/><stop offset="0.612" stop-color="#fff" stop-opacity="0.22"/><stop offset="1" stop-color="#fff" stop-opacity="0.26"/></linearGradient><path d="M1464.5 627.9C1466 633.9 1470.5 652.4 1473.5 663.8C1476.5 675.2 1479.7 687.5 1482.5 696.1C1485.3 704.8 1489.1 712.6 1490.4 715.9" stroke="url(#g18)" stroke-width="10"/><linearGradient id="g19" gradientUnits="userSpaceOnUse" x1="0" y1="627.9" x2="0" y2="715.9"><stop offset="0" stop-color="#fff" stop-opacity="0.16"/><stop offset="0.612" stop-color="#fff" stop-opacity="0.22"/><stop offset="1" stop-color="#fff" stop-opacity="0.26"/></linearGradient><path d="M1518.4 627.9C1516.9 633.9 1512.7 652.4 1509.4 663.8C1506.1 675.2 1501.7 687.5 1498.6 696.1C1495.5 704.8 1492 712.6 1490.7 715.9" stroke="url(#g19)" stroke-width="10"/><ellipse cx="1490.7" cy="836.2" rx="7.9" ry="12.2" fill="#fff" fill-opacity="0.5" stroke="none"/></g><filter id="ib4" color-interpolation-filters="sRGB" filterUnits="userSpaceOnUse" x="1333.8" y="570.4" width="315.4" height="427"><feGaussianBlur stdDeviation="4"/></filter><g filter="url(#ib4)" fill="none" stroke="#fff" stroke-linecap="round" stroke-linejoin="round"><ellipse cx="1490.7" cy="778.7" rx="12.9" ry="4.3" fill="#fff" fill-opacity="0.3" stroke="none"/></g><filter id="ib3_6" color-interpolation-filters="sRGB" filterUnits="userSpaceOnUse" x="1333.8" y="570.4" width="315.4" height="427"><feGaussianBlur stdDeviation="3.6"/></filter><g filter="url(#ib3_6)" fill="none" stroke="#fff" stroke-linecap="round" stroke-linejoin="round"><linearGradient id="g20" gradientUnits="userSpaceOnUse" x1="0" y1="627.9" x2="0" y2="775.8"><stop offset="0" stop-color="#fff" stop-opacity="0.32"/><stop offset="0.364" stop-color="#fff" stop-opacity="0.5"/><stop offset="0.68" stop-color="#fff" stop-opacity="0.72"/><stop offset="0.874" stop-color="#fff" stop-opacity="0.92"/><stop offset="1" stop-color="#fff" stop-opacity="0.96"/></linearGradient><path d="M1428.6 627.9C1430.7 633.9 1437 651.8 1441.2 663.8C1445.4 675.8 1449.9 688.3 1453.7 699.7C1457.6 711.1 1461.2 722.5 1464.5 732C1467.8 741.6 1470.8 749.9 1473.5 757.2C1476.2 764.5 1479.5 772.7 1480.7 775.8" stroke="url(#g20)" stroke-width="9.5"/><linearGradient id="g21" gradientUnits="userSpaceOnUse" x1="0" y1="627.9" x2="0" y2="775.8"><stop offset="0" stop-color="#fff" stop-opacity="0.32"/><stop offset="0.364" stop-color="#fff" stop-opacity="0.5"/><stop offset="0.68" stop-color="#fff" stop-opacity="0.72"/><stop offset="0.874" stop-color="#fff" stop-opacity="0.92"/><stop offset="1" stop-color="#fff" stop-opacity="0.96"/></linearGradient><path d="M1552.5 627.9C1550.4 633.9 1544.1 651.8 1539.9 663.8C1535.7 675.8 1531.2 688.3 1527.4 699.7C1523.5 711.1 1519.9 722.5 1516.6 732C1513.3 741.6 1510.3 749.9 1507.6 757.2C1504.9 764.5 1501.6 772.7 1500.4 775.8" stroke="url(#g21)" stroke-width="9.5"/></g><filter id="ib3" color-interpolation-filters="sRGB" filterUnits="userSpaceOnUse" x="1333.8" y="570.4" width="315.4" height="427"><feGaussianBlur stdDeviation="3"/></filter><g filter="url(#ib3)" fill="none" stroke="#fff" stroke-linecap="round" stroke-linejoin="round"><ellipse cx="1477.8" cy="769.7" rx="3.9" ry="9.3" fill="#fff" fill-opacity="0.7" stroke="none"/><ellipse cx="1503.7" cy="767.9" rx="3.9" ry="9.3" fill="#fff" fill-opacity="0.7" stroke="none"/></g><filter id="nz31" x="0" y="0" width="1" height="1" color-interpolation-filters="sRGB"><feTurbulence type="fractalNoise" baseFrequency="0.2 0.3" numOctaves="2" seed="31"/><feColorMatrix type="matrix" values="0 0 0 0 1  0 0 0 0 1  0 0 0 0 1  0.072 0 0 0 -0.036"/><feGaussianBlur stdDeviation="0.7"/></filter><filter id="nz31d" x="0" y="0" width="1" height="1" color-interpolation-filters="sRGB"><feTurbulence type="fractalNoise" baseFrequency="0.2 0.3" numOctaves="2" seed="38"/><feColorMatrix type="matrix" values="0 0 0 0 0  0 0 0 0 0  0 0 0 0 0  0.072 0 0 0 -0.036"/><feGaussianBlur stdDeviation="0.7"/></filter><rect x="1363.8" y="600.4" width="255.4" height="367" filter="url(#nz31)"/><rect x="1363.8" y="600.4" width="255.4" height="367" filter="url(#nz31d)"/></g></g>
<path class="ax" d="M166.6 53.6V418.2M162 54.2H166.6M158 82.2H166.6M162 110.2H166.6M158 138.2H166.6M162 166.2H166.6M158 194.2H166.6M162 222.2H166.6M158 250.2H166.6M162 278.2H166.6M158 306.2H166.6M162 334.2H166.6M158 362.2H166.6M162 390.2H166.6M158 418.2H166.6M158 418.2H420.1M180.6 418.2V426.6M208.9 418.2V422.8M237.2 418.2V426.6M265.5 418.2V422.8M293.8 418.2V426.6M322.1 418.2V422.8M350.4 418.2V426.6M378.7 418.2V422.8M407 418.2V426.6"/>
<path class="ax" d="M570 53.6V418.2M565.4 54.2H570M561.4 82.2H570M565.4 110.2H570M561.4 138.2H570M565.4 166.2H570M561.4 194.2H570M565.4 222.2H570M561.4 250.2H570M565.4 278.2H570M561.4 306.2H570M565.4 334.2H570M561.4 362.2H570M565.4 390.2H570M561.4 418.2H570M561.4 418.2H824.6M583.5 418.2V426.6M611.8 418.2V422.8M640 418.2V426.6M668.2 418.2V422.8M696.5 418.2V426.6M724.8 418.2V422.8M753 418.2V426.6M781.2 418.2V422.8M809.5 418.2V426.6"/>
<path class="ax" d="M963.5 53.6V418.2M958.9 54.2H963.5M954.9 82.2H963.5M958.9 110.2H963.5M954.9 138.2H963.5M958.9 166.2H963.5M954.9 194.2H963.5M958.9 222.2H963.5M954.9 250.2H963.5M958.9 278.2H963.5M954.9 306.2H963.5M958.9 334.2H963.5M954.9 362.2H963.5M958.9 390.2H963.5M954.9 418.2H963.5M954.9 418.2H1219.3M979.4 418.2V426.6M1007.6 418.2V422.8M1035.8 418.2V426.6M1064 418.2V422.8M1092.2 418.2V426.6M1120.4 418.2V422.8M1148.6 418.2V426.6M1176.8 418.2V422.8M1205 418.2V426.6"/>
<path class="ax" d="M1761 52.8V418.2M1756.4 53.4H1761M1752.4 81.3H1761M1756.4 109.2H1761M1752.4 137.1H1761M1756.4 165H1761M1752.4 192.9H1761M1756.4 220.8H1761M1752.4 248.7H1761M1756.4 276.6H1761M1752.4 304.5H1761M1756.4 332.4H1761M1752.4 360.3H1761M1756.4 388.2H1761M1752.4 416.1H1761M1752.4 418.2H2019M1775.6 418.2V426.6M1803.8 418.2V422.8M1832 418.2V426.6M1860.2 418.2V422.8M1888.4 418.2V426.6M1916.6 418.2V422.8M1944.8 418.2V426.6M1973 418.2V422.8M2001.2 418.2V426.6"/>
<path class="ax" d="M166 600.8V965.7M161.4 601.4H166M157.4 629.4H166M161.4 657.4H166M157.4 685.5H166M161.4 713.5H166M157.4 741.5H166M161.4 769.6H166M157.4 797.6H166M161.4 825.6H166M157.4 853.7H166M161.4 881.7H166M157.4 909.7H166M161.4 937.8H166M157.4 965.8H166M157.4 965.7H424.5M180.6 965.7V974.1M208.9 965.7V970.3M237.2 965.7V974.1M265.5 965.7V970.3M293.8 965.7V974.1M322.1 965.7V970.3M350.4 965.7V974.1M378.7 965.7V970.3M407 965.7V974.1"/>
<path class="ax" d="M568.5 600.9V965.7M563.9 601.5H568.5M559.9 629.5H568.5M563.9 657.5H568.5M559.9 685.5H568.5M563.9 713.5H568.5M559.9 741.5H568.5M563.9 769.5H568.5M559.9 797.5H568.5M563.9 825.5H568.5M559.9 853.5H568.5M563.9 881.5H568.5M559.9 909.5H568.5M563.9 937.5H568.5M559.9 965.5H568.5M559.9 965.7H826M583.5 965.7V974.1M611.8 965.7V970.3M640 965.7V974.1M668.2 965.7V970.3M696.5 965.7V974.1M724.8 965.7V970.3M753 965.7V974.1M781.2 965.7V970.3M809.5 965.7V974.1"/>
<path class="ax" d="M964.6 600.4V965.7M960 601H964.6M956 628.8H964.6M960 656.6H964.6M956 684.5H964.6M960 712.3H964.6M956 740.1H964.6M960 768H964.6M956 795.8H964.6M960 823.6H964.6M956 851.5H964.6M960 879.3H964.6M956 907.1H964.6M960 935H964.6M956 962.8H964.6M956 965.7H1220M979.5 965.7V974.1M1007.7 965.7V970.3M1035.9 965.7V974.1M1064.1 965.7V970.3M1092.3 965.7V974.1M1120.5 965.7V970.3M1148.7 965.7V974.1M1176.9 965.7V970.3M1205.1 965.7V974.1"/>
<path class="ax" d="M1363.4 600.4V965.7M1358.8 601H1363.4M1354.8 628.8H1363.4M1358.8 656.6H1363.4M1354.8 684.5H1363.4M1358.8 712.3H1363.4M1354.8 740.1H1363.4M1358.8 768H1363.4M1354.8 795.8H1363.4M1358.8 823.6H1363.4M1354.8 851.5H1363.4M1358.8 879.3H1363.4M1354.8 907.1H1363.4M1358.8 935H1363.4M1354.8 962.8H1363.4M1354.8 965.7H1619.2M1377.4 965.7V974.1M1405.7 965.7V970.3M1433.9 965.7V974.1M1462.2 965.7V970.3M1490.4 965.7V974.1M1518.7 965.7V970.3M1546.9 965.7V974.1M1575.2 965.7V970.3M1603.4 965.7V974.1"/>
<path class="ax" d="M1761.4 600.3V965.7M1756.8 600.9H1761.4M1752.8 628.8H1761.4M1756.8 656.6H1761.4M1752.8 684.5H1761.4M1756.8 712.4H1761.4M1752.8 740.2H1761.4M1756.8 768H1761.4M1752.8 795.9H1761.4M1756.8 823.8H1761.4M1752.8 851.6H1761.4M1756.8 879.4H1761.4M1752.8 907.3H1761.4M1756.8 935.1H1761.4M1752.8 963H1761.4M1761.4 965.7H2015.5M1776.5 965.7V974.1M1801.6 965.7V970.3M1826.7 965.7V974.1M1851.7 965.7V970.3M1876.8 965.7V974.1M1901.9 965.7V970.3M1927 965.7V974.1M1952 965.7V970.3M1977.1 965.7V974.1M2002.2 965.7V970.3"/>
<path d="M1490.4 627.6V969.6" stroke="#0a80c2" stroke-width="3.8" stroke-linecap="round" fill="none"/><path d="M1492.5 718H1778" stroke="#000" stroke-width="2.3" stroke-dasharray="6.8 6.4" fill="none"/><path d="M1492.5 784.3H1762" stroke="#000" stroke-width="2.3" stroke-dasharray="6.8 6.4" fill="none"/><path d="M1492.5 838.2H1762" stroke="#000" stroke-width="2.3" stroke-dasharray="6.8 6.4" fill="none"/><path d="M1762 720.1H2007.5" stroke="#111" stroke-width="1.6" stroke-dasharray="3.5 1.5" fill="none"/><path d="M1762 785.4H2007.5" stroke="#111" stroke-width="1.6" stroke-dasharray="3.5 1.5" fill="none"/><path d="M1762 838.9H2007.5" stroke="#111" stroke-width="1.6" stroke-dasharray="3.5 1.5" fill="none"/><path d="M1785.8 693.7C1787.1 695.2 1790.7 700 1793.9 702.7C1797 705.4 1801 707.7 1804.6 709.9C1808.2 712.1 1812.8 714.5 1815.4 716.2C1818 717.9 1820.3 718.6 1820.3 720C1820.3 721.3 1818 722.6 1815.4 724.3C1812.8 725.9 1808.2 727.6 1804.6 729.6C1801 731.7 1796.7 734.4 1793.9 736.8C1791 739.2 1788.9 742.4 1787.6 744C1786.2 745.7 1786.1 746.3 1785.8 746.7" stroke="#14f014" stroke-width="1.8" fill="none" stroke-linejoin="round"/><path d="M1786.3 733.2C1786.5 733.7 1787.4 735 1787.4 735.9C1787.4 736.8 1786.5 738.2 1786.3 738.6" stroke="#14f014" stroke-width="1.8" fill="none" stroke-linejoin="round"/><path d="M1789.1 770.3C1793.6 771.7 1809 776.6 1815.6 778.8C1822.2 781 1826 782.3 1828.8 783.5C1831.7 784.7 1832.6 785.1 1832.6 786C1832.6 786.8 1831.1 787.6 1828.8 788.6C1826.6 789.6 1823.8 790.7 1819.4 792C1815 793.4 1807.9 795.2 1802.4 796.7C1796.9 798.3 1789 800.7 1786.3 801.5" stroke="#14f014" stroke-width="1.8" fill="none" stroke-linejoin="round"/><path d="M1786.3 773.1C1786.9 775.3 1788 781.9 1790.1 786.3C1792.1 790.8 1794.3 795.2 1798.6 799.6C1802.9 804 1809 809 1815.6 812.8C1822.2 816.6 1830.4 819.3 1838.3 822.3C1846.2 825.3 1856.6 828.4 1862.9 830.8C1869.2 833.1 1873.3 835 1876.1 836.4C1878.9 837.9 1879.9 838.2 1879.9 839.3C1879.9 840.3 1878.9 841.1 1876.1 842.7C1873.3 844.3 1869.2 846.5 1862.9 848.7C1856.6 851 1845.5 853.6 1838.3 856.3C1831.1 859 1825.1 861.3 1819.4 864.8C1813.7 868.3 1808.4 872.8 1804.3 877.1C1800.2 881.3 1797.5 885.9 1794.8 890.3C1792.1 894.7 1789.6 900 1788.2 903.5C1786.8 907.1 1786.6 910.2 1786.3 911.5" stroke="#14f014" stroke-width="1.8" fill="none" stroke-linejoin="round"/><path d="M1787.6 616.5C1787.7 617.4 1788 620.1 1788.1 621.9C1788.3 623.7 1788 624.9 1788.5 627.3C1789 629.7 1789.7 633.6 1791.2 636.3C1792.7 639 1795.8 641.1 1797.5 643.5C1799.1 645.9 1800.4 648 1801 650.7C1801.7 653.3 1801.3 656.3 1801.4 659.6C1801.5 662.9 1801.7 667.1 1801.9 670.4C1802.2 673.7 1801.9 676.4 1802.8 679.4C1803.7 682.4 1804.9 685.7 1807.3 688.4C1809.7 691.1 1813.5 693.3 1817.2 695.5C1820.9 697.8 1824.7 699.9 1829.8 701.8C1834.9 703.8 1841.7 705.6 1847.7 707.2C1853.7 708.9 1860.3 710.4 1865.7 711.7C1871.1 713 1876.3 714.3 1880 715.3C1883.8 716.3 1886.2 717.1 1888.1 717.8C1890 718.5 1891.5 718.8 1891.3 719.8C1891.2 720.8 1889.7 722.4 1887.2 723.9C1884.7 725.4 1880 727 1876.4 728.8C1872.9 730.5 1869.3 732.6 1865.7 734.1C1862.1 735.6 1859.1 736.7 1854.9 737.7C1850.7 738.8 1844.7 739.2 1840.5 740.4C1836.3 741.6 1832.8 743.1 1829.8 744.9C1826.8 746.7 1824.4 748.7 1822.6 751.2C1820.8 753.7 1819 757.8 1819 760.2C1819 762.6 1820.2 763.9 1822.6 765.6C1825 767.2 1828 768.7 1833.4 770C1838.7 771.4 1845.3 772.2 1854.9 773.6C1864.5 775.1 1880.4 777.3 1891.2 778.8C1902 780.3 1912.3 781.5 1919.6 782.6C1926.8 783.6 1931.2 784.5 1934.7 785.2C1938.2 786 1940.8 786.4 1940.8 787.1C1940.8 787.8 1938.2 788.5 1934.7 789.4C1931.2 790.2 1926.8 790.8 1919.6 792C1912.3 793.2 1899.1 795.5 1891.2 796.7C1883.4 798 1876.9 798.5 1872.3 799.6C1867.8 800.7 1863.8 801.6 1863.8 803.4C1863.8 805.1 1867.8 807.9 1872.3 810C1876.9 812 1883.4 813.8 1891.2 815.6C1899.1 817.5 1910.1 819.6 1919.6 821.3C1929 823 1938.5 824.3 1947.9 826C1957.4 827.8 1968.7 830.1 1976.3 831.7C1983.9 833.3 1989.3 834.3 1993.3 835.5C1997.3 836.7 2000.5 837.6 2000.5 838.9C2000.5 840.2 1997.3 841.6 1993.3 843.1C1989.3 844.5 1983.9 846 1976.3 847.8C1968.7 849.5 1957.4 851.6 1947.9 853.4C1938.5 855.3 1929 857.2 1919.6 859.1C1910.1 861 1899.7 863.1 1891.2 864.8C1882.7 866.5 1876.1 867.5 1868.5 869.5C1861 871.6 1852.2 874.6 1845.9 877.1C1839.6 879.6 1835.1 881.8 1830.7 884.6C1826.3 887.5 1822.5 890.6 1819.4 894.1C1816.2 897.6 1814 901.3 1811.8 905.4C1809.6 909.5 1807.7 913.9 1806.2 918.7C1804.6 923.4 1803.5 928.7 1802.4 933.8C1801.3 938.8 1800.3 944.5 1799.5 948.9C1798.8 953.3 1798 958.4 1797.7 960.3" stroke="#ff1a1a" stroke-width="4.4" fill="none" stroke-linejoin="round" stroke-linecap="round" stroke-dasharray="0.1 4.6"/><path d="M1787.6 616.5C1787.7 617.4 1788 620.1 1788.1 621.9C1788.3 623.7 1788 624.9 1788.5 627.3C1789 629.7 1789.7 633.6 1791.2 636.3C1792.7 639 1795.8 641.1 1797.5 643.5C1799.1 645.9 1800.4 648 1801 650.7C1801.7 653.3 1801.3 656.3 1801.4 659.6C1801.5 662.9 1801.7 667.1 1801.9 670.4C1802.2 673.7 1801.9 676.4 1802.8 679.4C1803.7 682.4 1804.9 685.7 1807.3 688.4C1809.7 691.1 1813.5 693.3 1817.2 695.5C1820.9 697.8 1824.7 699.9 1829.8 701.8C1834.9 703.8 1841.7 705.6 1847.7 707.2C1853.7 708.9 1860.3 710.4 1865.7 711.7C1871.1 713 1876.3 714.3 1880 715.3C1883.8 716.3 1886.2 717.1 1888.1 717.8C1890 718.5 1891.5 718.8 1891.3 719.8C1891.2 720.8 1889.7 722.4 1887.2 723.9C1884.7 725.4 1880 727 1876.4 728.8C1872.9 730.5 1869.3 732.6 1865.7 734.1C1862.1 735.6 1859.1 736.7 1854.9 737.7C1850.7 738.8 1844.7 739.2 1840.5 740.4C1836.3 741.6 1832.8 743.1 1829.8 744.9C1826.8 746.7 1824.4 748.7 1822.6 751.2C1820.8 753.7 1819 757.8 1819 760.2C1819 762.6 1820.2 763.9 1822.6 765.6C1825 767.2 1828 768.7 1833.4 770C1838.7 771.4 1845.3 772.2 1854.9 773.6C1864.5 775.1 1880.4 777.3 1891.2 778.8C1902 780.3 1912.3 781.5 1919.6 782.6C1926.8 783.6 1931.2 784.5 1934.7 785.2C1938.2 786 1940.8 786.4 1940.8 787.1C1940.8 787.8 1938.2 788.5 1934.7 789.4C1931.2 790.2 1926.8 790.8 1919.6 792C1912.3 793.2 1899.1 795.5 1891.2 796.7C1883.4 798 1876.9 798.5 1872.3 799.6C1867.8 800.7 1863.8 801.6 1863.8 803.4C1863.8 805.1 1867.8 807.9 1872.3 810C1876.9 812 1883.4 813.8 1891.2 815.6C1899.1 817.5 1910.1 819.6 1919.6 821.3C1929 823 1938.5 824.3 1947.9 826C1957.4 827.8 1968.7 830.1 1976.3 831.7C1983.9 833.3 1989.3 834.3 1993.3 835.5C1997.3 836.7 2000.5 837.6 2000.5 838.9C2000.5 840.2 1997.3 841.6 1993.3 843.1C1989.3 844.5 1983.9 846 1976.3 847.8C1968.7 849.5 1957.4 851.6 1947.9 853.4C1938.5 855.3 1929 857.2 1919.6 859.1C1910.1 861 1899.7 863.1 1891.2 864.8C1882.7 866.5 1876.1 867.5 1868.5 869.5C1861 871.6 1852.2 874.6 1845.9 877.1C1839.6 879.6 1835.1 881.8 1830.7 884.6C1826.3 887.5 1822.5 890.6 1819.4 894.1C1816.2 897.6 1814 901.3 1811.8 905.4C1809.6 909.5 1807.7 913.9 1806.2 918.7C1804.6 923.4 1803.5 928.7 1802.4 933.8C1801.3 938.8 1800.3 944.5 1799.5 948.9C1798.8 953.3 1798 958.4 1797.7 960.3" stroke="#ff1a1a" stroke-width="2.6" fill="none" stroke-linejoin="round" stroke-linecap="round"/><path d="M1801.9 670.4C1802.1 671.9 1801.9 676.4 1802.8 679.4C1803.7 682.4 1804.9 685.7 1807.3 688.4C1809.7 691.1 1813.5 693.3 1817.2 695.5C1820.9 697.8 1824.7 699.9 1829.8 701.8C1834.9 703.8 1841.7 705.6 1847.7 707.2C1853.7 708.9 1860.3 710.4 1865.7 711.7C1871.1 713 1876.3 714.3 1880 715.3C1883.8 716.3 1886.2 717.1 1888.1 717.8C1890 718.5 1891.5 718.8 1891.3 719.8C1891.2 720.8 1889.7 722.4 1887.2 723.9C1884.7 725.4 1880 727 1876.4 728.8C1872.9 730.5 1869.3 732.6 1865.7 734.1C1862.1 735.6 1859.1 736.7 1854.9 737.7C1850.7 738.8 1844.7 739.2 1840.5 740.4C1836.3 741.6 1832.8 743.1 1829.8 744.9C1826.8 746.7 1824.4 748.7 1822.6 751.2C1820.8 753.7 1819 757.8 1819 760.2C1819 762.6 1820.2 763.9 1822.6 765.6C1825 767.2 1828 768.7 1833.4 770C1838.7 771.4 1845.3 772.2 1854.9 773.6C1864.5 775.1 1880.4 777.3 1891.2 778.8C1902 780.3 1912.3 781.5 1919.6 782.6C1926.8 783.6 1931.2 784.5 1934.7 785.2C1938.2 786 1940.8 786.4 1940.8 787.1C1940.8 787.8 1938.2 788.5 1934.7 789.4C1931.2 790.2 1926.8 790.8 1919.6 792C1912.3 793.2 1899.1 795.5 1891.2 796.7C1883.4 798 1876.9 798.5 1872.3 799.6C1867.8 800.7 1863.8 801.6 1863.8 803.4C1863.8 805.1 1867.8 807.9 1872.3 810C1876.9 812 1883.4 813.8 1891.2 815.6C1899.1 817.5 1910.1 819.6 1919.6 821.3C1929 823 1938.5 824.3 1947.9 826C1957.4 827.8 1968.7 830.1 1976.3 831.7C1983.9 833.3 1989.3 834.3 1993.3 835.5C1997.3 836.7 2000.5 837.6 2000.5 838.9C2000.5 840.2 1997.3 841.6 1993.3 843.1C1989.3 844.5 1983.9 846 1976.3 847.8C1968.7 849.5 1957.4 851.6 1947.9 853.4C1938.5 855.3 1929 857.2 1919.6 859.1C1910.1 861 1899.7 863.1 1891.2 864.8C1882.7 866.5 1876.1 867.5 1868.5 869.5C1861 871.6 1852.2 874.6 1845.9 877.1C1839.6 879.6 1835.1 881.8 1830.7 884.6C1826.3 887.5 1822.5 890.6 1819.4 894.1C1816.2 897.6 1814 901.3 1811.8 905.4C1809.6 909.5 1807.7 913.9 1806.2 918.7C1804.6 923.4 1803.5 928.7 1802.4 933.8C1801.3 938.8 1800.3 944.5 1799.5 948.9C1798.8 953.3 1798 958.4 1797.7 960.3" stroke="#2a22f0" stroke-width="2" fill="none" stroke-linejoin="round"/>
<text x="147.8" y="90.9" text-anchor="end">0.3</text>
<text x="147.8" y="146.9" text-anchor="end">0.2</text>
<text x="147.8" y="202.9" text-anchor="end">0.1</text>
<text x="147.8" y="258.9" text-anchor="end">0.0</text>
<text x="147.8" y="314.9" text-anchor="end">−0.1</text>
<text x="147.8" y="370.9" text-anchor="end">−0.2</text>
<text x="147.8" y="426.9" text-anchor="end">−0.3</text>
<text x="179.9" y="455.8" text-anchor="middle">−0.2</text>
<text x="236.5" y="455.8" text-anchor="middle">−0.1</text>
<text x="293.8" y="455.8" text-anchor="middle">0.0</text>
<text x="350.4" y="455.8" text-anchor="middle">0.1</text>
<text x="407" y="455.8" text-anchor="middle">0.2</text>
<text x="255.6" y="500.7"><tspan font-style="italic">k</tspan><tspan dx="-1.6" dy="8.6" font-size="18">x</tspan><tspan dx="-0.6" dy="-8.6"> (Å</tspan><tspan dx="-0.4" dy="-9.6" font-size="16">−1</tspan><tspan dx="-0.2" dy="9.6">)</tspan></text>
<text text-anchor="middle" font-size="24.6" transform="translate(75 237) rotate(-90)">Binding energy (eV)</text>
<text x="550.8" y="90.9" text-anchor="end">0.3</text>
<text x="550.8" y="146.9" text-anchor="end">0.2</text>
<text x="550.8" y="202.9" text-anchor="end">0.1</text>
<text x="550.8" y="258.9" text-anchor="end">0.0</text>
<text x="550.8" y="314.9" text-anchor="end">−0.1</text>
<text x="550.8" y="370.9" text-anchor="end">−0.2</text>
<text x="550.8" y="426.9" text-anchor="end">−0.3</text>
<text x="582.8" y="455.8" text-anchor="middle">−0.2</text>
<text x="639.3" y="455.8" text-anchor="middle">−0.1</text>
<text x="696.5" y="455.8" text-anchor="middle">0.0</text>
<text x="753" y="455.8" text-anchor="middle">0.1</text>
<text x="809.5" y="455.8" text-anchor="middle">0.2</text>
<text x="658.3" y="500.7"><tspan font-style="italic">k</tspan><tspan dx="-1.6" dy="8.6" font-size="18">x</tspan><tspan dx="-0.6" dy="-8.6"> (Å</tspan><tspan dx="-0.4" dy="-9.6" font-size="16">−1</tspan><tspan dx="-0.2" dy="9.6">)</tspan></text>
<text text-anchor="middle" font-size="24.6" transform="translate(477 237) rotate(-90)">Binding energy (eV)</text>
<text x="945.2" y="90.9" text-anchor="end">0.3</text>
<text x="945.2" y="146.9" text-anchor="end">0.2</text>
<text x="945.2" y="202.9" text-anchor="end">0.1</text>
<text x="945.2" y="258.9" text-anchor="end">0.0</text>
<text x="945.2" y="314.9" text-anchor="end">−0.1</text>
<text x="945.2" y="370.9" text-anchor="end">−0.2</text>
<text x="945.2" y="426.9" text-anchor="end">−0.3</text>
<text x="978.7" y="455.8" text-anchor="middle">−0.2</text>
<text x="1035.1" y="455.8" text-anchor="middle">−0.1</text>
<text x="1092.2" y="455.8" text-anchor="middle">0.0</text>
<text x="1148.6" y="455.8" text-anchor="middle">0.1</text>
<text x="1205" y="455.8" text-anchor="middle">0.2</text>
<text x="1054" y="500.7"><tspan font-style="italic">k</tspan><tspan dx="-1.6" dy="8.6" font-size="18">x</tspan><tspan dx="-0.6" dy="-8.6"> (Å</tspan><tspan dx="-0.4" dy="-9.6" font-size="16">−1</tspan><tspan dx="-0.2" dy="9.6">)</tspan></text>
<text text-anchor="middle" font-size="24.6" transform="translate(871.5 237) rotate(-90)">Binding energy (eV)</text>
<text x="1343.4" y="90" text-anchor="end">0.0</text>
<text x="1343.4" y="145.9" text-anchor="end">−0.1</text>
<text x="1343.4" y="201.8" text-anchor="end">−0.2</text>
<text x="1343.4" y="257.7" text-anchor="end">−0.3</text>
<text x="1343.4" y="313.6" text-anchor="end">−0.4</text>
<text x="1343.4" y="369.5" text-anchor="end">−0.5</text>
<text x="1343.4" y="425.4" text-anchor="end">−0.6</text>
<text x="1376.1" y="455.8" text-anchor="middle">−0.2</text>
<text x="1432.7" y="455.8" text-anchor="middle">−0.1</text>
<text x="1490.1" y="455.8" text-anchor="middle">0.0</text>
<text x="1546.8" y="455.8" text-anchor="middle">0.1</text>
<text x="1603.4" y="455.8" text-anchor="middle">0.2</text>
<text x="1451.9" y="500.7"><tspan font-style="italic">k</tspan><tspan dx="-1.6" dy="8.6" font-size="18">x</tspan><tspan dx="-0.6" dy="-8.6"> (Å</tspan><tspan dx="-0.4" dy="-9.6" font-size="16">−1</tspan><tspan dx="-0.2" dy="9.6">)</tspan></text>
<text text-anchor="middle" font-size="24.6" transform="translate(1268 237) rotate(-90)">Binding energy (eV)</text>
<text x="1741.7" y="90" text-anchor="end">0.0</text>
<text x="1741.7" y="145.8" text-anchor="end">−0.1</text>
<text x="1741.7" y="201.6" text-anchor="end">−0.2</text>
<text x="1741.7" y="257.4" text-anchor="end">−0.3</text>
<text x="1741.7" y="313.2" text-anchor="end">−0.4</text>
<text x="1741.7" y="369" text-anchor="end">−0.5</text>
<text x="1741.7" y="424.8" text-anchor="end">−0.6</text>
<text x="1774.9" y="455.8" text-anchor="middle">−0.2</text>
<text x="1831.3" y="455.8" text-anchor="middle">−0.1</text>
<text x="1888.4" y="455.8" text-anchor="middle">0.0</text>
<text x="1944.8" y="455.8" text-anchor="middle">0.1</text>
<text x="2001.2" y="455.8" text-anchor="middle">0.2</text>
<text x="1850.2" y="500.7"><tspan font-style="italic">k</tspan><tspan dx="-1.6" dy="8.6" font-size="18">x</tspan><tspan dx="-0.6" dy="-8.6"> (Å</tspan><tspan dx="-0.4" dy="-9.6" font-size="16">−1</tspan><tspan dx="-0.2" dy="9.6">)</tspan></text>
<text text-anchor="middle" font-size="24.6" transform="translate(1666 237) rotate(-90)">Binding energy (eV)</text>
<text x="147.8" y="638.1" text-anchor="end">0.3</text>
<text x="147.8" y="694.2" text-anchor="end">0.2</text>
<text x="147.8" y="750.2" text-anchor="end">0.1</text>
<text x="147.8" y="806.3" text-anchor="end">0.0</text>
<text x="147.8" y="862.4" text-anchor="end">−0.1</text>
<text x="147.8" y="918.4" text-anchor="end">−0.2</text>
<text x="147.8" y="974.5" text-anchor="end">−0.3</text>
<text x="179.9" y="1003.8" text-anchor="middle">−0.2</text>
<text x="236.5" y="1003.8" text-anchor="middle">−0.1</text>
<text x="293.8" y="1003.8" text-anchor="middle">0.0</text>
<text x="350.4" y="1003.8" text-anchor="middle">0.1</text>
<text x="407" y="1003.8" text-anchor="middle">0.2</text>
<text x="255.6" y="1048.7"><tspan font-style="italic">k</tspan><tspan dx="-1.6" dy="8.6" font-size="18">x</tspan><tspan dx="-0.6" dy="-8.6"> (Å</tspan><tspan dx="-0.4" dy="-9.6" font-size="16">−1</tspan><tspan dx="-0.2" dy="9.6">)</tspan></text>
<text text-anchor="middle" font-size="24.6" transform="translate(75 784.5) rotate(-90)">Binding energy (eV)</text>
<text x="550.8" y="638.2" text-anchor="end">0.3</text>
<text x="550.8" y="694.2" text-anchor="end">0.2</text>
<text x="550.8" y="750.2" text-anchor="end">0.1</text>
<text x="550.8" y="806.2" text-anchor="end">0.0</text>
<text x="550.8" y="862.2" text-anchor="end">−0.1</text>
<text x="550.8" y="918.2" text-anchor="end">−0.2</text>
<text x="550.8" y="974.2" text-anchor="end">−0.3</text>
<text x="582.8" y="1003.8" text-anchor="middle">−0.2</text>
<text x="639.3" y="1003.8" text-anchor="middle">−0.1</text>
<text x="696.5" y="1003.8" text-anchor="middle">0.0</text>
<text x="753" y="1003.8" text-anchor="middle">0.1</text>
<text x="809.5" y="1003.8" text-anchor="middle">0.2</text>
<text x="658.3" y="1048.7"><tspan font-style="italic">k</tspan><tspan dx="-1.6" dy="8.6" font-size="18">x</tspan><tspan dx="-0.6" dy="-8.6"> (Å</tspan><tspan dx="-0.4" dy="-9.6" font-size="16">−1</tspan><tspan dx="-0.2" dy="9.6">)</tspan></text>
<text text-anchor="middle" font-size="24.6" transform="translate(477 784.5) rotate(-90)">Binding energy (eV)</text>
<text x="945.2" y="637.5" text-anchor="end">0.0</text>
<text x="945.2" y="693.2" text-anchor="end">−0.1</text>
<text x="945.2" y="748.8" text-anchor="end">−0.2</text>
<text x="945.2" y="804.5" text-anchor="end">−0.3</text>
<text x="945.2" y="860.2" text-anchor="end">−0.4</text>
<text x="945.2" y="915.9" text-anchor="end">−0.5</text>
<text x="945.2" y="971.5" text-anchor="end">−0.6</text>
<text x="978.8" y="1003.8" text-anchor="middle">−0.2</text>
<text x="1035.2" y="1003.8" text-anchor="middle">−0.1</text>
<text x="1092.3" y="1003.8" text-anchor="middle">0.0</text>
<text x="1148.7" y="1003.8" text-anchor="middle">0.1</text>
<text x="1205.1" y="1003.8" text-anchor="middle">0.2</text>
<text x="1054.1" y="1048.7"><tspan font-style="italic">k</tspan><tspan dx="-1.6" dy="8.6" font-size="18">x</tspan><tspan dx="-0.6" dy="-8.6"> (Å</tspan><tspan dx="-0.4" dy="-9.6" font-size="16">−1</tspan><tspan dx="-0.2" dy="9.6">)</tspan></text>
<text text-anchor="middle" font-size="24.6" transform="translate(871.5 784.5) rotate(-90)">Binding energy (eV)</text>
<text x="1343.4" y="637.5" text-anchor="end">0.0</text>
<text x="1343.4" y="693.2" text-anchor="end">−0.1</text>
<text x="1343.4" y="748.8" text-anchor="end">−0.2</text>
<text x="1343.4" y="804.5" text-anchor="end">−0.3</text>
<text x="1343.4" y="860.2" text-anchor="end">−0.4</text>
<text x="1343.4" y="915.9" text-anchor="end">−0.5</text>
<text x="1343.4" y="971.5" text-anchor="end">−0.6</text>
<text x="1376.7" y="1003.8" text-anchor="middle">−0.2</text>
<text x="1433.2" y="1003.8" text-anchor="middle">−0.1</text>
<text x="1490.4" y="1003.8" text-anchor="middle">0.0</text>
<text x="1546.9" y="1003.8" text-anchor="middle">0.1</text>
<text x="1603.4" y="1003.8" text-anchor="middle">0.2</text>
<text x="1452.2" y="1048.7"><tspan font-style="italic">k</tspan><tspan dx="-1.6" dy="8.6" font-size="18">x</tspan><tspan dx="-0.6" dy="-8.6"> (Å</tspan><tspan dx="-0.4" dy="-9.6" font-size="16">−1</tspan><tspan dx="-0.2" dy="9.6">)</tspan></text>
<text text-anchor="middle" font-size="24.6" transform="translate(1268 784.5) rotate(-90)">Binding energy (eV)</text>
<text x="1741.7" y="637.5" text-anchor="end">0.0</text>
<text x="1741.7" y="693.2" text-anchor="end">−0.1</text>
<text x="1741.7" y="748.9" text-anchor="end">−0.2</text>
<text x="1741.7" y="804.6" text-anchor="end">−0.3</text>
<text x="1741.7" y="860.3" text-anchor="end">−0.4</text>
<text x="1741.7" y="916" text-anchor="end">−0.5</text>
<text x="1741.7" y="971.7" text-anchor="end">−0.6</text>
<text x="1776.5" y="1003.8" text-anchor="middle">0</text>
<text x="1826.7" y="1003.8" text-anchor="middle">20</text>
<text x="1876.8" y="1003.8" text-anchor="middle">40</text>
<text x="1927" y="1003.8" text-anchor="middle">60</text>
<text x="1977.1" y="1003.8" text-anchor="middle">80</text>
<text x="1888" y="1042" text-anchor="middle">Spectral weight (a.u.)</text>
<text text-anchor="middle" font-size="24.6" transform="translate(1666 784.5) rotate(-90)">Binding energy (eV)</text>
<text x="171.6" y="40.1">K</text>
<text x="386.4" y="40.1">K</text>
<text class="se" x="283.4" y="40.1" font-size="25.5">Γ</text>
<path class="ar" d="M207 30.6H257.5"/>
<path d="M201 30.6l11.4 -3.5v7z"/>
<path class="ar" d="M321 30.6H367.7"/>
<path d="M373.7 30.6l-11.4 -3.5v7z"/>
<rect x="170.9" y="14.7" width="19.4" height="2.7"/>
<rect x="385.7" y="14.7" width="19.4" height="2.7"/>
<rect x="281.2" y="14.7" width="19.4" height="2.7"/>
<text x="580.4" y="40.1">K</text>
<text x="795.4" y="40.1">K</text>
<text class="se" x="692.2" y="40.1" font-size="25.5">Γ</text>
<path class="ar" d="M616.1 30.6H665.9"/>
<path d="M610.1 30.6l11.4 -3.5v7z"/>
<path class="ar" d="M730 30.6H777"/>
<path d="M783 30.6l-11.4 -3.5v7z"/>
<rect x="579.7" y="14.7" width="19.4" height="2.7"/>
<rect x="794.7" y="14.7" width="19.4" height="2.7"/>
<rect x="690" y="14.7" width="19.4" height="2.7"/>
<text x="974.8" y="40.1">K</text>
<text x="1189.9" y="40.1">K</text>
<text class="se" x="1087" y="40.1" font-size="25.5">Γ</text>
<path class="ar" d="M1010.2 30.6H1059.9"/>
<path d="M1004.2 30.6l11.4 -3.5v7z"/>
<path class="ar" d="M1124.5 30.6H1171.5"/>
<path d="M1177.5 30.6l-11.4 -3.5v7z"/>
<rect x="974.1" y="14.7" width="19.4" height="2.7"/>
<rect x="1189.2" y="14.7" width="19.4" height="2.7"/>
<rect x="1084.8" y="14.7" width="19.4" height="2.7"/>
<text x="1369.7" y="40.1">M</text>
<text x="1588.2" y="40.1">M</text>
<text class="se" x="1482.1" y="40.1" font-size="25.5">Γ</text>
<path class="ar" d="M1408 30.6H1457.2"/>
<path d="M1402 30.6l11.4 -3.5v7z"/>
<path class="ar" d="M1521.5 30.6H1568.5"/>
<path d="M1574.5 30.6l-11.4 -3.5v7z"/>
<text x="1771.4" y="40.1">K</text>
<text x="1987.6" y="40.1">K</text>
<text class="se" x="1890.2" y="40.1" font-size="25.5">Γ</text>
<path class="ar" d="M1808.9 30.6H1858.7"/>
<path d="M1802.9 30.6l11.4 -3.5v7z"/>
<path class="ar" d="M1923.1 30.6H1970"/>
<path d="M1976 30.6l-11.4 -3.5v7z"/>
<text x="174.6" y="585.6">K</text>
<text x="389.6" y="585.6">K</text>
<text class="se" x="286.1" y="585.6" font-size="25.5">Γ</text>
<path class="ar" d="M210.8 576.3H260"/>
<path d="M204.8 576.3l11.4 -3.5v7z"/>
<path class="ar" d="M324.5 576.3H371.5"/>
<path d="M377.5 576.3l-11.4 -3.5v7z"/>
<rect x="173.9" y="560.1" width="19.4" height="2.7"/>
<rect x="388.9" y="560.1" width="19.4" height="2.7"/>
<rect x="283.9" y="560.1" width="19.4" height="2.7"/>
<text x="581.4" y="585.6">K</text>
<text x="796.7" y="585.6">K</text>
<text class="se" x="693" y="585.6" font-size="25.5">Γ</text>
<path class="ar" d="M616 576.3H665.9"/>
<path d="M610 576.3l11.4 -3.5v7z"/>
<path class="ar" d="M730.2 576.3H777.1"/>
<path d="M783.1 576.3l-11.4 -3.5v7z"/>
<rect x="580.7" y="560.1" width="19.4" height="2.7"/>
<rect x="796" y="560.1" width="19.4" height="2.7"/>
<rect x="690.8" y="560.1" width="19.4" height="2.7"/>
<text x="968" y="585.6">M</text>
<text x="1178" y="585.6">M</text>
<text class="se" x="1082.9" y="585.6" font-size="25.5">Γ</text>
<path class="ar" d="M1002.5 576.3H1051"/>
<path d="M996.5 576.3l11.4 -3.5v7z"/>
<path class="ar" d="M1116 576.3H1161.9"/>
<path d="M1167.9 576.3l-11.4 -3.5v7z"/>
<text x="1368.9" y="585.6">K</text>
<text x="1582.4" y="585.6">K</text>
<text class="se" x="1484.3" y="585.6" font-size="25.5">Γ</text>
<path class="ar" d="M1405.1 576.3H1455"/>
<path d="M1399.1 576.3l11.4 -3.5v7z"/>
<path class="ar" d="M1519 576.3H1565.3"/>
<path d="M1571.3 576.3l-11.4 -3.5v7z"/>
<text x="52.2" y="30.8" font-weight="bold" font-size="41">a</text>
<text x="453.2" y="30.6" font-weight="bold" font-size="41">b</text>
<text x="850.2" y="30.6" font-weight="bold" font-size="41">c</text>
<text x="1246.6" y="30.6" font-weight="bold" font-size="41">d</text>
<text x="1643.2" y="30.6" font-weight="bold" font-size="41">e</text>
<text x="57.6" y="575.6" font-weight="bold" font-size="41">f</text>
<text x="453.8" y="572.6" font-weight="bold" font-size="41">g</text>
<text x="850.4" y="575.6" font-weight="bold" font-size="41">h</text>
<text x="1253.4" y="575.6" font-weight="bold" font-size="41">i</text>
<text x="1649.6" y="575.6" font-weight="bold" font-size="41">j</text>
<text transform="translate(23.3 236) rotate(-90)" text-anchor="middle" font-size="28.6">[MnBi<tspan dy="7" font-size="21">2</tspan><tspan dy="-7">Te</tspan><tspan dy="7" font-size="21">4</tspan><tspan dy="-7">] SL</tspan></text>
<text transform="translate(23.3 783) rotate(-90)" text-anchor="middle" font-size="28.6">[Bi<tspan dy="7" font-size="21">2</tspan><tspan dy="-7">Te</tspan><tspan dy="7" font-size="21">3</tspan><tspan dy="-7">] QL</tspan></text>
<text x="347" y="295.2" fill="#f5821f" font-size="29.8">S+B</text>
<text x="786" y="299" fill="#f5821f" font-size="29.8">B</text>
<text x="1182.4" y="299" fill="#f5821f" font-size="29.8">S</text>
<text x="352" y="830.5" fill="#f5821f" font-size="29.8">S+B</text>
<text x="785" y="835.5" fill="#f5821f" font-size="29.8">S</text>
<rect x="1822" y="623.2" width="4.2" height="4.2" fill="#f00"/>
<path d="M1806.8 644H1841" stroke="#2a22f0" stroke-width="1.8" fill="none"/>
<path d="M1806.8 664.2H1841" stroke="#14f014" stroke-width="1.8" fill="none"/>
<text x="1847.6" y="630.8" font-size="18.9">ARPES EDC</text>
<text x="1847.6" y="650.2" font-size="18.9">Fit to ARPES EDC</text>
<text x="1847.6" y="669.4" font-size="18.9">Voigt profiles</text>
</svg>
</body></html>
